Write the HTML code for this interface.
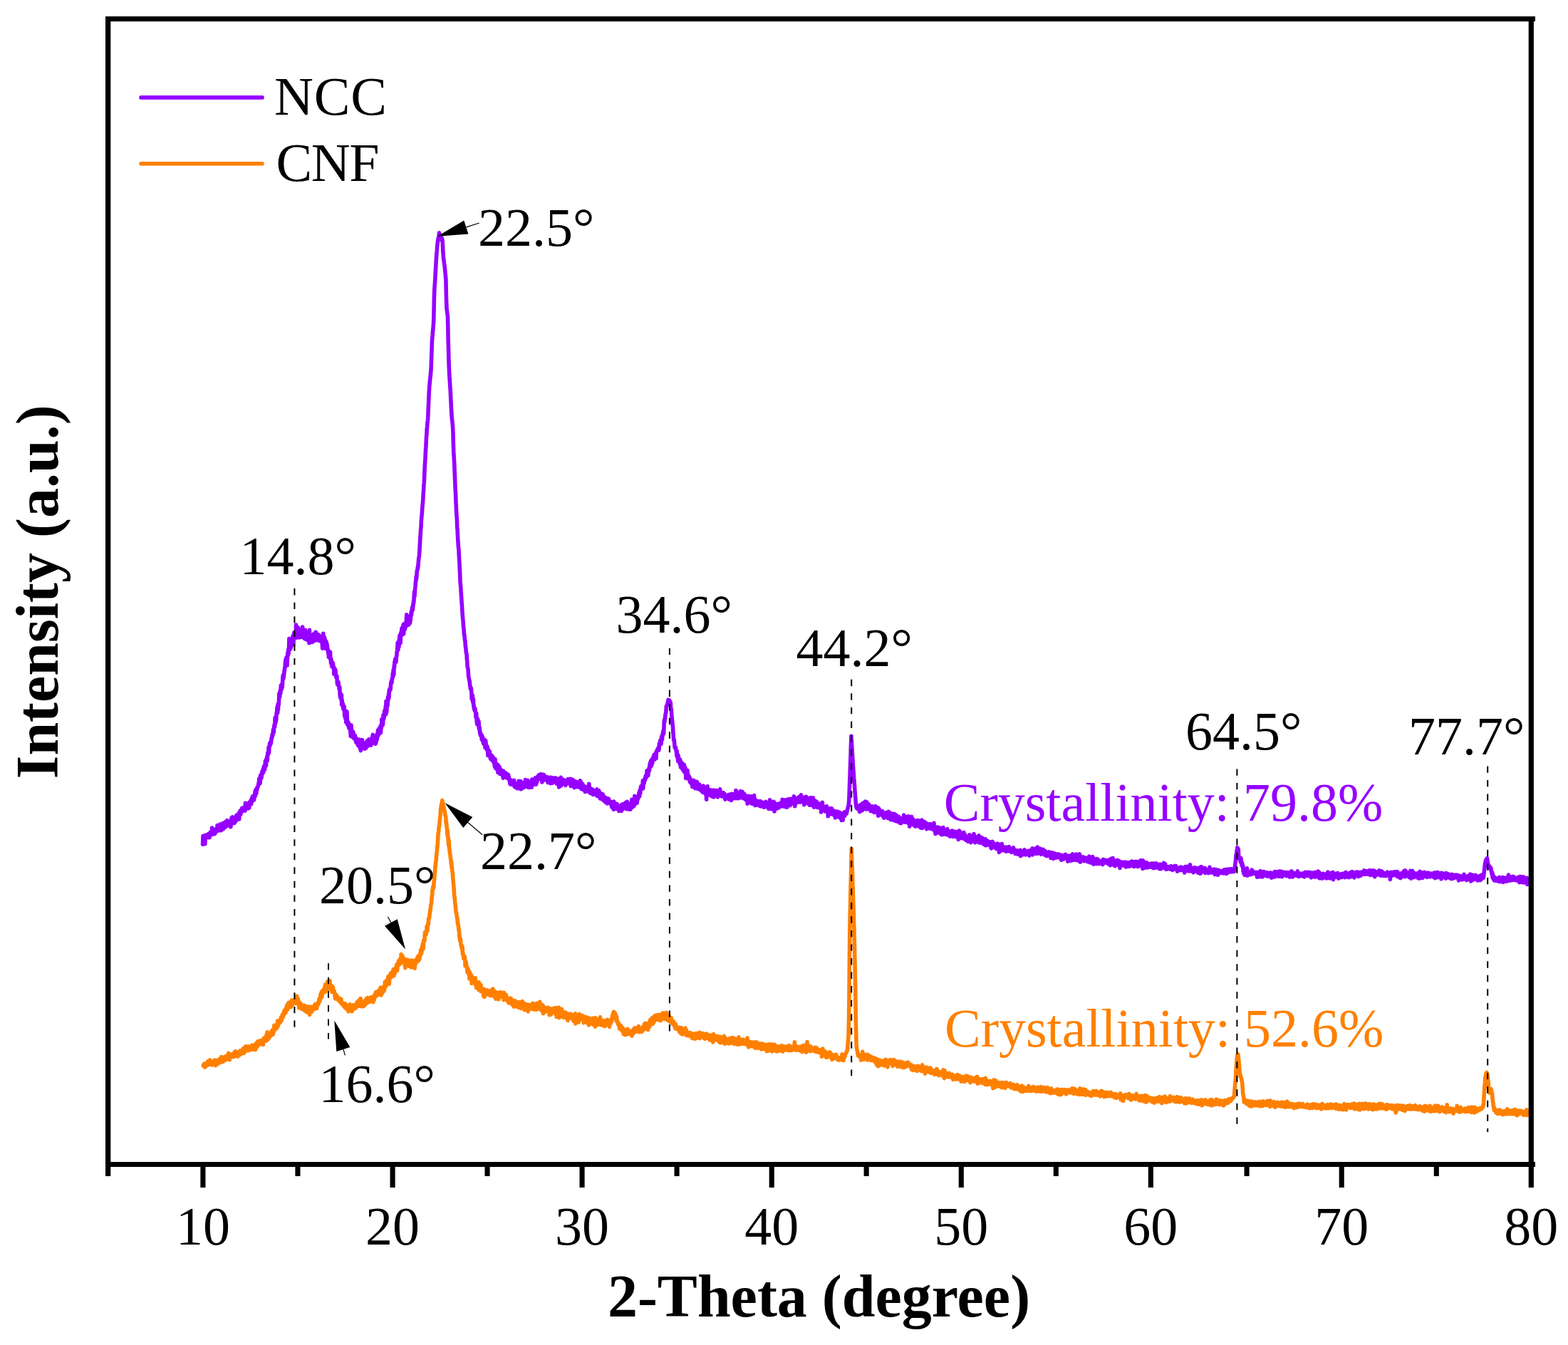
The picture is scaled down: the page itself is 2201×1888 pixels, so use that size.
<!DOCTYPE html>
<html lang="en"><head><meta charset="utf-8"><title>XRD patterns of NCC and CNF</title>
<style>html,body{margin:0;padding:0;background:#fff;overflow:hidden}svg{display:block}text{font-family:"Liberation Serif","DejaVu Serif",serif;fill:#000}.r{font-size:76.0px}.b{font-size:84.0px;font-weight:bold}</style></head><body>
<svg width="2201" height="1888" viewBox="0 0 2201 1888">
<rect width="2201" height="1888" fill="#fff"/>
<polyline fill="none" stroke="#FF8000" stroke-width="5.6" stroke-linejoin="round" stroke-linecap="round" points="285.2,1495.8 285.6,1496.4 285.9,1495.0 286.3,1493.6 286.6,1494.4 287.0,1493.2 287.4,1495.4 287.7,1498.1 288.1,1494.0 288.4,1493.6 288.8,1496.0 289.2,1495.6 289.5,1494.9 289.9,1492.5 290.2,1494.4 290.6,1495.9 291.0,1491.3 291.3,1493.2 291.7,1489.9 292.0,1491.2 292.4,1489.9 292.8,1493.3 293.1,1491.0 293.5,1494.3 293.8,1493.9 294.2,1493.1 294.6,1487.8 294.9,1492.1 295.3,1493.1 295.6,1493.4 296.0,1489.6 296.4,1491.8 296.7,1490.6 297.1,1490.9 297.4,1495.0 297.8,1490.7 298.2,1492.3 298.5,1494.3 298.9,1490.9 299.2,1491.9 299.6,1492.3 300.0,1492.0 300.3,1489.1 300.7,1491.9 301.0,1494.6 301.4,1488.1 301.8,1493.3 302.1,1491.6 302.5,1489.8 302.8,1495.6 303.2,1492.7 303.6,1488.2 303.9,1491.0 304.3,1492.0 304.6,1490.2 305.0,1492.0 305.4,1490.3 305.7,1491.8 306.1,1493.4 306.4,1488.6 306.8,1490.5 307.2,1488.9 307.5,1490.0 307.9,1486.9 308.2,1488.1 308.6,1488.8 309.0,1491.0 309.3,1491.4 309.7,1485.7 310.0,1486.7 310.4,1489.7 310.8,1483.6 311.1,1486.9 311.5,1487.5 311.8,1490.4 312.2,1488.9 312.6,1486.5 312.9,1486.2 313.3,1486.3 313.6,1490.1 314.0,1485.5 314.4,1485.6 314.7,1486.9 315.1,1485.7 315.4,1485.3 315.8,1483.1 316.2,1485.4 316.5,1484.2 316.9,1487.7 317.2,1486.3 317.6,1484.6 318.0,1486.0 318.3,1483.5 318.7,1486.5 319.0,1483.9 319.4,1485.1 319.8,1480.6 320.1,1484.2 320.5,1479.4 320.8,1478.4 321.2,1482.3 321.6,1480.8 321.9,1483.2 322.3,1487.8 322.6,1480.7 323.0,1481.1 323.4,1482.9 323.7,1483.5 324.1,1481.8 324.4,1481.7 324.8,1483.7 325.2,1483.2 325.5,1479.5 325.9,1481.6 326.2,1481.8 326.6,1479.2 327.0,1482.1 327.3,1479.5 327.7,1483.6 328.0,1481.7 328.4,1481.4 328.8,1479.7 329.1,1480.7 329.5,1476.3 329.8,1478.2 330.2,1481.5 330.6,1475.7 330.9,1482.5 331.3,1476.4 331.6,1482.1 332.0,1478.3 332.4,1481.9 332.7,1480.4 333.1,1476.5 333.4,1482.8 333.8,1483.1 334.2,1479.6 334.5,1478.9 334.9,1478.9 335.2,1476.8 335.6,1481.3 336.0,1477.3 336.3,1478.2 336.7,1476.3 337.0,1476.4 337.4,1474.7 337.8,1480.3 338.1,1476.8 338.5,1479.2 338.8,1476.7 339.2,1474.9 339.6,1475.5 339.9,1474.7 340.3,1475.8 340.6,1474.7 341.0,1474.6 341.4,1471.9 341.7,1473.0 342.1,1478.5 342.4,1472.8 342.8,1471.7 343.2,1474.7 343.5,1477.0 343.9,1470.1 344.2,1472.7 344.6,1471.5 345.0,1468.7 345.3,1474.3 345.7,1472.3 346.0,1472.3 346.4,1470.3 346.8,1473.0 347.1,1470.6 347.5,1471.5 347.8,1469.1 348.2,1468.8 348.6,1474.7 348.9,1470.3 349.3,1472.1 349.6,1471.2 350.0,1470.2 350.4,1470.0 350.7,1472.6 351.1,1470.3 351.4,1470.6 351.8,1470.9 352.2,1473.6 352.5,1472.3 352.9,1471.5 353.2,1469.2 353.6,1467.2 354.0,1472.6 354.3,1472.6 354.7,1469.9 355.0,1471.5 355.4,1471.9 355.8,1472.0 356.1,1472.1 356.5,1468.8 356.8,1473.4 357.2,1466.8 357.6,1471.7 357.9,1470.7 358.3,1471.3 358.6,1473.5 359.0,1472.3 359.4,1465.9 359.7,1464.3 360.1,1470.0 360.4,1465.4 360.8,1467.6 361.2,1469.3 361.5,1463.2 361.9,1461.9 362.2,1467.3 362.6,1466.5 363.0,1465.6 363.3,1466.0 363.7,1463.6 364.0,1461.8 364.4,1464.8 364.8,1462.6 365.1,1460.8 365.5,1465.7 365.8,1464.1 366.2,1465.0 366.6,1461.4 366.9,1461.9 367.3,1460.9 367.6,1460.9 368.0,1463.3 368.4,1460.6 368.7,1463.1 369.1,1462.7 369.4,1466.5 369.8,1458.0 370.2,1463.1 370.5,1460.5 370.9,1460.4 371.2,1456.6 371.6,1458.7 372.0,1461.3 372.3,1459.0 372.7,1459.1 373.0,1457.9 373.4,1461.1 373.8,1458.0 374.1,1452.4 374.5,1455.7 374.8,1452.3 375.2,1448.9 375.6,1455.2 375.9,1459.5 376.3,1456.0 376.6,1452.8 377.0,1453.0 377.4,1457.8 377.7,1455.1 378.1,1454.5 378.4,1453.8 378.8,1453.6 379.2,1455.0 379.5,1454.0 379.9,1452.7 380.2,1449.2 380.6,1452.5 381.0,1449.1 381.3,1453.1 381.7,1446.8 382.0,1449.1 382.4,1449.0 382.8,1445.3 383.1,1452.4 383.5,1451.3 383.8,1446.1 384.2,1448.7 384.6,1447.3 384.9,1439.4 385.3,1445.9 385.6,1444.4 386.0,1444.2 386.4,1440.6 386.7,1442.0 387.1,1441.6 387.4,1444.4 387.8,1441.6 388.2,1440.1 388.5,1443.4 388.9,1437.5 389.2,1437.3 389.6,1433.0 390.0,1441.0 390.3,1438.8 390.7,1438.1 391.0,1436.8 391.4,1434.7 391.8,1434.4 392.1,1432.7 392.5,1432.3 392.8,1432.4 393.2,1435.6 393.6,1432.6 393.9,1430.5 394.3,1428.6 394.6,1427.9 395.0,1433.2 395.4,1429.8 395.7,1428.2 396.1,1426.5 396.4,1424.0 396.8,1426.2 397.2,1428.1 397.5,1424.3 397.9,1424.2 398.2,1423.7 398.6,1423.8 399.0,1418.5 399.3,1421.2 399.7,1418.7 400.0,1422.5 400.4,1417.2 400.8,1420.0 401.1,1421.6 401.5,1415.9 401.8,1414.3 402.2,1415.5 402.6,1414.2 402.9,1410.7 403.3,1413.7 403.6,1417.4 404.0,1411.1 404.4,1410.9 404.7,1408.4 405.1,1411.8 405.4,1407.3 405.8,1407.4 406.2,1413.6 406.5,1407.4 406.9,1412.5 407.2,1413.4 407.6,1409.7 408.0,1410.3 408.3,1413.8 408.7,1407.7 409.0,1406.4 409.4,1404.0 409.8,1407.5 410.1,1411.2 410.5,1409.5 410.8,1404.1 411.2,1404.1 411.6,1404.8 411.9,1406.7 412.3,1405.1 412.6,1405.9 413.0,1405.9 413.4,1404.0 413.7,1404.5 414.1,1404.9 414.4,1403.9 414.8,1405.2 415.2,1408.7 415.5,1404.9 415.9,1403.2 416.1,1398.3 416.2,1404.2 416.6,1398.4 417.0,1400.4 417.3,1407.2 417.7,1407.3 418.0,1405.6 418.4,1401.9 418.8,1406.1 419.1,1405.8 419.5,1410.0 419.8,1414.9 420.2,1409.9 420.6,1407.8 420.9,1407.3 421.3,1410.9 421.6,1411.2 422.0,1409.1 422.4,1412.8 422.7,1409.6 423.1,1415.9 423.4,1416.0 423.8,1416.4 424.2,1412.4 424.5,1415.3 424.9,1413.8 425.2,1413.4 425.6,1413.8 426.0,1411.5 426.3,1411.3 426.7,1417.6 427.0,1415.2 427.4,1416.5 427.8,1418.9 428.1,1411.8 428.5,1414.6 428.8,1417.4 429.2,1418.2 429.6,1416.4 429.9,1420.4 430.3,1418.5 430.6,1414.9 431.0,1415.6 431.4,1420.1 431.7,1419.2 432.1,1412.9 432.4,1421.5 432.8,1419.4 433.2,1421.4 433.5,1416.8 433.9,1417.0 434.2,1414.7 434.6,1424.4 435.0,1417.2 435.3,1421.8 435.7,1415.8 436.0,1417.9 436.4,1413.0 436.8,1416.4 437.1,1420.0 437.5,1414.0 437.8,1420.2 438.2,1418.2 438.6,1414.5 438.9,1415.8 439.3,1415.6 439.6,1416.3 440.0,1414.7 440.4,1413.6 440.7,1414.6 441.1,1412.3 441.4,1411.3 441.8,1414.2 442.2,1416.3 442.5,1409.5 442.9,1413.3 443.2,1411.2 443.6,1410.0 444.0,1414.5 444.3,1410.5 444.7,1415.5 445.0,1409.1 445.4,1411.8 445.8,1409.7 446.1,1407.5 446.5,1410.2 446.8,1407.4 447.2,1408.6 447.6,1405.9 447.9,1402.3 448.3,1404.1 448.6,1403.6 449.0,1405.3 449.4,1399.3 449.7,1400.8 450.1,1395.3 450.4,1401.0 450.8,1395.4 451.2,1392.7 451.5,1396.8 451.9,1399.3 452.2,1391.3 452.6,1391.8 453.0,1392.1 453.3,1390.3 453.7,1393.8 454.0,1389.7 454.4,1389.3 454.8,1392.2 455.1,1387.7 455.5,1390.4 455.8,1385.7 456.2,1384.5 456.6,1382.2 456.9,1392.1 457.3,1385.4 457.6,1386.5 458.0,1385.1 458.4,1385.1 458.7,1384.3 459.1,1389.0 459.4,1380.1 459.8,1378.1 460.2,1379.1 460.5,1377.7 460.9,1384.1 461.2,1384.8 461.6,1380.2 462.0,1379.4 462.3,1382.8 462.7,1388.3 463.0,1376.8 463.4,1386.8 463.8,1382.7 464.1,1389.1 464.5,1383.6 464.8,1386.3 465.2,1383.3 465.6,1385.3 465.9,1392.4 466.3,1391.5 466.6,1388.7 467.0,1388.0 467.4,1385.7 467.7,1390.6 468.1,1392.2 468.4,1392.7 468.8,1393.3 469.2,1391.0 469.5,1394.6 469.9,1395.3 470.2,1399.6 470.6,1401.8 471.0,1396.9 471.3,1395.8 471.7,1398.4 472.0,1397.5 472.4,1397.7 472.8,1400.2 473.1,1397.9 473.5,1402.9 473.8,1401.4 474.2,1402.8 474.6,1402.1 474.9,1401.0 475.3,1400.8 475.6,1403.2 476.0,1402.8 476.4,1405.4 476.7,1405.2 477.1,1401.9 477.4,1406.2 477.8,1402.8 478.2,1405.3 478.5,1406.6 478.9,1402.2 479.2,1408.5 479.6,1409.1 480.0,1408.7 480.3,1408.4 480.7,1409.0 481.0,1407.8 481.4,1410.0 481.8,1409.5 482.1,1411.6 482.5,1408.4 482.8,1412.5 483.2,1412.5 483.6,1412.1 483.9,1411.5 484.3,1414.5 484.6,1408.8 485.0,1414.8 485.4,1414.5 485.7,1414.9 486.1,1415.4 486.4,1413.0 486.8,1414.3 487.2,1417.0 487.5,1416.7 487.9,1416.4 488.2,1412.1 488.6,1417.8 489.0,1419.8 489.3,1419.7 489.7,1417.8 490.0,1412.8 490.4,1419.3 490.8,1416.2 491.1,1409.7 491.5,1417.3 491.8,1412.1 492.2,1412.4 492.6,1414.0 492.9,1418.9 493.3,1414.4 493.6,1415.9 494.0,1419.7 494.4,1419.1 494.7,1414.4 495.1,1413.8 495.4,1410.9 495.8,1412.2 496.2,1415.1 496.5,1414.8 496.9,1413.9 497.2,1416.0 497.6,1411.1 498.0,1412.9 498.3,1414.8 498.7,1414.2 499.0,1415.4 499.4,1413.4 499.8,1411.3 500.1,1412.9 500.5,1409.1 500.8,1407.2 501.2,1413.0 501.6,1411.1 501.9,1411.9 502.3,1406.3 502.6,1409.7 503.0,1408.9 503.4,1408.0 503.7,1404.1 504.1,1409.1 504.4,1412.2 504.8,1410.7 505.2,1407.8 505.5,1409.2 505.9,1411.2 506.2,1401.5 506.6,1408.4 507.0,1410.1 507.3,1410.3 507.7,1412.9 508.0,1411.2 508.4,1408.9 508.8,1408.7 509.1,1409.9 509.5,1406.1 509.8,1407.3 510.2,1409.8 510.6,1412.5 510.9,1406.6 511.3,1406.7 511.6,1407.3 512.0,1410.2 512.4,1406.3 512.7,1410.3 513.1,1403.5 513.4,1405.5 513.8,1405.3 514.2,1407.8 514.5,1408.4 514.9,1401.3 515.2,1402.7 515.6,1406.0 516.0,1403.1 516.3,1400.5 516.7,1407.3 517.0,1405.6 517.4,1405.5 517.8,1402.6 518.1,1406.5 518.5,1402.9 518.8,1406.4 519.2,1400.7 519.6,1400.6 519.9,1403.4 520.3,1400.7 520.6,1404.3 521.0,1403.0 521.4,1399.5 521.7,1402.1 522.1,1400.7 522.4,1404.0 522.8,1399.6 523.2,1399.9 523.5,1404.2 523.9,1406.7 524.2,1405.7 524.6,1400.0 525.0,1400.1 525.3,1403.4 525.7,1398.5 526.0,1395.8 526.4,1398.5 526.8,1399.0 527.1,1395.2 527.5,1392.6 527.8,1392.8 528.2,1398.3 528.6,1394.0 528.9,1395.3 529.3,1396.0 529.6,1396.8 530.0,1393.8 530.4,1395.8 530.7,1391.5 531.1,1392.7 531.4,1390.5 531.8,1396.2 532.2,1392.6 532.5,1390.2 532.9,1390.9 533.2,1390.9 533.6,1393.2 534.0,1386.4 534.3,1387.6 534.7,1389.1 535.0,1396.9 535.4,1392.1 535.8,1388.7 536.1,1390.7 536.5,1394.1 536.8,1387.3 537.2,1386.6 537.6,1390.7 537.9,1388.3 538.3,1388.4 538.6,1384.7 539.0,1391.3 539.4,1390.3 539.7,1386.7 540.1,1386.7 540.4,1378.5 540.8,1385.5 541.2,1382.6 541.5,1383.9 541.9,1384.0 542.2,1380.5 542.6,1376.1 543.0,1381.5 543.3,1377.7 543.7,1378.4 544.0,1377.0 544.4,1377.2 544.8,1371.0 545.1,1380.6 545.5,1377.3 545.8,1379.2 546.2,1381.2 546.6,1375.0 546.9,1369.1 547.3,1371.2 547.6,1369.7 548.0,1371.2 548.4,1372.4 548.7,1365.7 549.1,1371.9 549.4,1365.9 549.8,1370.5 550.2,1368.7 550.5,1367.4 550.9,1367.5 551.2,1365.5 551.6,1364.6 552.0,1360.8 552.3,1365.0 552.7,1369.9 553.0,1369.7 553.4,1367.1 553.8,1364.6 554.1,1359.9 554.5,1365.6 554.8,1360.5 555.2,1359.8 555.6,1358.5 555.9,1359.0 556.3,1356.7 556.6,1357.2 557.0,1353.5 557.4,1355.0 557.7,1362.3 558.1,1354.6 558.4,1353.4 558.8,1355.0 559.2,1354.9 559.5,1348.7 559.9,1350.8 560.2,1353.6 560.6,1350.9 561.0,1349.8 561.3,1353.5 561.7,1346.0 562.0,1347.7 562.4,1345.2 562.8,1350.7 563.1,1339.5 563.5,1342.7 563.8,1342.5 563.9,1346.0 564.2,1346.6 564.6,1349.8 564.9,1341.6 565.3,1349.6 565.6,1347.2 566.0,1347.0 566.4,1351.5 566.7,1347.9 567.1,1345.3 567.4,1351.3 567.8,1348.8 568.1,1352.0 568.2,1355.1 568.5,1354.8 568.9,1358.6 569.2,1353.1 569.6,1348.9 570.0,1351.2 570.3,1350.6 570.7,1349.6 571.0,1354.5 571.4,1351.1 571.8,1347.0 572.1,1355.0 572.5,1352.4 572.8,1353.7 573.2,1352.9 573.6,1354.4 573.9,1352.5 574.3,1356.1 574.6,1353.7 575.0,1353.7 575.4,1353.8 575.7,1348.2 576.1,1352.2 576.4,1352.0 576.8,1353.5 577.2,1348.9 577.5,1358.0 577.9,1353.4 578.2,1349.5 578.6,1348.1 579.0,1352.5 579.3,1353.0 579.7,1350.9 580.0,1353.1 580.4,1350.7 580.8,1354.1 581.1,1350.0 581.5,1351.9 581.8,1354.7 582.2,1359.3 582.6,1348.3 582.9,1349.7 583.3,1348.4 583.6,1353.0 584.0,1347.0 584.4,1348.8 584.7,1349.9 585.1,1346.9 585.4,1346.7 585.8,1347.9 586.2,1342.8 586.5,1344.6 586.9,1347.5 587.2,1349.0 587.6,1347.7 588.0,1341.6 588.3,1344.3 588.7,1346.9 589.0,1344.8 589.4,1341.6 589.8,1337.9 590.1,1341.2 590.5,1336.2 590.8,1333.1 591.2,1332.8 591.6,1338.4 591.9,1333.2 592.3,1334.7 592.6,1328.2 593.0,1331.2 593.4,1324.9 593.7,1324.9 594.1,1331.8 594.4,1325.0 594.8,1319.6 595.2,1319.5 595.5,1319.3 595.9,1320.7 596.2,1313.9 596.6,1308.5 597.0,1311.6 597.3,1311.1 597.7,1310.0 598.0,1312.1 598.4,1307.7 598.8,1307.7 599.1,1300.5 599.5,1304.9 599.8,1306.9 600.2,1300.9 600.6,1297.6 600.9,1295.5 601.3,1297.6 601.6,1289.3 602.0,1289.5 602.4,1289.1 602.7,1288.0 603.1,1282.8 603.4,1282.2 603.8,1278.4 604.2,1276.9 604.5,1273.8 604.9,1269.5 605.2,1269.3 605.6,1267.7 606.0,1260.4 606.3,1258.3 606.7,1256.5 607.0,1249.5 607.4,1249.7 607.8,1244.7 608.1,1246.8 608.5,1246.8 608.8,1243.8 609.2,1236.7 609.6,1235.5 609.9,1230.2 610.3,1225.8 610.6,1223.6 611.0,1215.2 611.4,1215.2 611.7,1210.0 612.1,1208.7 612.4,1203.3 612.8,1198.4 613.2,1196.3 613.5,1193.4 613.9,1188.7 614.2,1185.9 614.6,1179.1 615.0,1171.0 615.3,1170.3 615.7,1166.6 616.0,1162.9 616.4,1160.0 616.8,1158.8 617.1,1153.6 617.5,1150.5 617.8,1147.0 618.2,1144.2 618.6,1134.9 618.9,1135.3 619.3,1130.8 619.6,1128.6 620.0,1131.1 620.4,1127.4 620.7,1123.6 621.0,1124.3 621.1,1127.2 621.4,1129.4 621.8,1127.9 622.2,1131.2 622.5,1133.5 622.9,1132.5 623.2,1136.2 623.6,1137.0 624.0,1137.1 624.3,1138.9 624.7,1142.3 625.0,1144.5 625.4,1145.1 625.8,1147.8 626.1,1154.8 626.5,1154.4 626.8,1158.7 627.2,1162.0 627.6,1163.4 627.9,1171.9 628.3,1166.4 628.6,1174.8 629.0,1175.1 629.4,1184.2 629.7,1186.7 630.1,1179.1 630.4,1185.3 630.8,1191.7 631.2,1194.8 631.5,1197.6 631.9,1199.1 632.2,1202.9 632.6,1206.1 633.0,1207.7 633.3,1212.5 633.7,1209.6 634.0,1217.3 634.4,1217.2 634.8,1223.4 635.1,1224.2 635.5,1226.3 635.8,1233.5 636.2,1236.5 636.6,1241.5 636.9,1244.4 637.3,1250.7 637.6,1255.4 638.0,1260.0 638.4,1261.9 638.7,1267.3 639.1,1269.3 639.4,1272.7 639.8,1277.3 640.2,1280.7 640.5,1280.9 640.9,1283.4 641.2,1285.9 641.6,1288.6 642.0,1288.8 642.3,1295.4 642.7,1294.6 643.0,1299.0 643.4,1298.4 643.8,1303.6 644.1,1306.1 644.5,1306.6 644.8,1315.3 645.2,1313.5 645.6,1320.1 645.9,1320.1 646.3,1317.8 646.6,1321.1 647.0,1325.9 647.4,1327.2 647.7,1329.2 648.1,1330.1 648.4,1327.5 648.8,1333.8 649.2,1329.9 649.5,1339.1 649.9,1337.8 650.2,1339.6 650.6,1342.8 651.0,1345.8 651.3,1342.1 651.7,1342.2 652.0,1345.2 652.4,1343.3 652.8,1347.3 653.1,1355.9 653.5,1349.1 653.8,1355.1 654.2,1350.2 654.6,1356.1 654.9,1355.4 655.3,1357.2 655.6,1360.2 656.0,1364.8 656.4,1361.3 656.7,1362.3 657.1,1360.1 657.4,1365.9 657.8,1364.6 658.2,1368.8 658.5,1367.4 658.9,1373.8 659.2,1364.0 659.6,1369.7 660.0,1373.5 660.3,1370.3 660.7,1369.5 661.0,1371.4 661.4,1368.6 661.8,1373.3 662.1,1380.5 662.5,1377.1 662.8,1371.0 663.2,1372.1 663.6,1373.9 663.9,1378.3 664.3,1373.5 664.6,1374.3 665.0,1379.2 665.4,1379.6 665.7,1376.5 666.1,1374.8 666.4,1374.0 666.8,1376.9 667.2,1372.9 667.5,1382.0 667.9,1378.5 668.2,1382.1 668.6,1386.5 669.0,1385.0 669.3,1378.8 669.7,1385.0 670.0,1386.3 670.4,1381.3 670.8,1381.2 671.1,1384.1 671.5,1380.3 671.8,1389.5 672.2,1378.9 672.6,1382.9 672.9,1385.6 673.3,1386.1 673.6,1387.6 674.0,1388.2 674.4,1387.2 674.7,1391.4 675.1,1382.5 675.4,1388.9 675.8,1387.2 676.2,1390.0 676.5,1390.6 676.9,1387.7 677.2,1388.9 677.6,1393.2 678.0,1392.4 678.3,1389.8 678.7,1397.8 679.0,1398.7 679.4,1388.2 679.8,1393.2 680.1,1399.4 680.5,1394.7 680.8,1393.2 681.2,1392.0 681.6,1391.2 681.9,1392.1 682.3,1391.2 682.6,1394.9 683.0,1391.8 683.4,1391.7 683.7,1389.7 684.1,1393.0 684.4,1390.7 684.8,1392.7 685.2,1396.2 685.5,1394.4 685.9,1394.8 686.2,1394.4 686.6,1393.7 687.0,1393.2 687.3,1392.8 687.7,1395.8 688.0,1390.7 688.4,1397.6 688.8,1394.0 689.1,1391.9 689.5,1392.7 689.8,1392.2 690.2,1394.6 690.6,1392.2 690.9,1397.5 691.3,1392.2 691.6,1388.1 692.0,1392.5 692.4,1389.0 692.7,1394.6 693.1,1397.7 693.4,1396.6 693.8,1391.2 694.2,1392.8 694.5,1400.0 694.9,1396.0 695.2,1395.2 695.6,1398.2 696.0,1402.1 696.3,1399.0 696.7,1395.8 697.0,1396.5 697.4,1397.3 697.8,1394.0 698.1,1392.9 698.5,1396.1 698.8,1393.4 699.2,1396.0 699.6,1396.5 699.9,1402.8 700.3,1394.1 700.6,1396.2 701.0,1396.2 701.4,1398.0 701.7,1399.8 702.1,1395.6 702.4,1394.8 702.8,1392.7 703.2,1394.7 703.5,1398.9 703.9,1397.7 704.2,1394.8 704.6,1396.7 705.0,1397.9 705.3,1399.4 705.7,1396.4 706.0,1397.6 706.4,1393.5 706.8,1395.7 707.1,1403.6 707.5,1393.4 707.8,1398.7 708.2,1400.5 708.6,1399.2 708.9,1398.3 709.3,1400.6 709.6,1401.0 710.0,1401.1 710.4,1396.4 710.7,1401.4 711.1,1399.7 711.4,1400.8 711.8,1403.1 712.2,1404.5 712.5,1405.4 712.9,1401.9 713.2,1406.0 713.6,1406.9 714.0,1407.0 714.3,1408.0 714.7,1404.0 715.0,1404.2 715.4,1407.1 715.8,1401.4 716.1,1405.9 716.5,1404.1 716.8,1404.8 717.2,1401.3 717.6,1403.9 717.9,1406.5 718.3,1409.2 718.6,1409.7 719.0,1407.0 719.4,1407.0 719.7,1405.5 720.1,1409.0 720.4,1407.5 720.8,1409.9 721.2,1413.1 721.5,1408.4 721.9,1404.5 722.2,1406.4 722.6,1404.9 723.0,1405.7 723.3,1412.6 723.7,1409.8 724.0,1405.2 724.4,1411.1 724.8,1412.9 725.1,1408.6 725.5,1407.9 725.8,1408.9 726.2,1410.7 726.6,1411.8 726.9,1413.3 727.3,1413.5 727.6,1413.6 728.0,1414.2 728.4,1412.4 728.7,1406.6 729.1,1410.5 729.4,1411.8 729.8,1410.0 730.2,1413.6 730.5,1410.3 730.9,1408.9 731.2,1415.4 731.6,1413.4 732.0,1412.3 732.3,1414.3 732.7,1414.8 733.0,1413.0 733.4,1405.6 733.8,1410.5 734.1,1411.1 734.5,1409.7 734.8,1412.8 735.2,1415.5 735.6,1411.0 735.9,1409.3 736.3,1417.7 736.6,1411.1 737.0,1409.0 737.4,1412.9 737.7,1413.4 738.1,1410.4 738.4,1414.4 738.8,1411.0 739.2,1409.8 739.5,1412.8 739.9,1414.4 740.2,1410.6 740.6,1413.2 741.0,1412.0 741.3,1419.9 741.7,1410.4 742.0,1416.0 742.4,1412.2 742.8,1412.0 743.1,1414.2 743.5,1414.7 743.8,1415.7 744.2,1413.2 744.6,1410.7 744.9,1410.9 745.3,1413.7 745.6,1413.9 746.0,1416.1 746.4,1413.4 746.7,1415.1 747.1,1416.4 747.4,1412.8 747.8,1408.4 748.2,1409.2 748.5,1408.5 748.9,1416.7 749.2,1410.2 749.6,1415.8 750.0,1414.1 750.3,1417.1 750.7,1415.2 751.0,1412.3 751.4,1412.1 751.8,1412.9 752.1,1413.1 752.5,1411.3 752.8,1412.6 753.2,1417.1 753.6,1408.2 753.9,1413.5 754.3,1410.4 754.6,1413.4 755.0,1415.1 755.4,1412.8 755.7,1415.0 756.1,1408.7 756.4,1416.0 756.8,1411.4 757.2,1414.7 757.5,1413.6 757.9,1406.2 758.2,1411.1 758.6,1413.8 759.0,1417.4 759.3,1414.1 759.7,1414.3 760.0,1410.1 760.4,1417.9 760.8,1419.2 761.1,1414.7 761.5,1414.3 761.8,1410.8 762.2,1417.7 762.6,1422.8 762.9,1417.8 763.3,1419.5 763.6,1417.8 764.0,1414.0 764.4,1420.4 764.7,1413.8 765.1,1416.8 765.4,1418.3 765.8,1420.2 766.2,1419.2 766.5,1419.4 766.9,1416.6 767.2,1415.4 767.6,1419.3 768.0,1417.3 768.3,1415.7 768.7,1415.8 769.0,1417.9 769.4,1414.3 769.8,1415.7 770.1,1415.0 770.5,1419.8 770.8,1420.4 771.2,1424.7 771.6,1415.5 771.9,1417.6 772.3,1421.9 772.6,1418.9 773.0,1418.7 773.4,1424.1 773.7,1418.7 774.1,1416.6 774.4,1416.2 774.8,1420.6 775.2,1420.5 775.5,1416.1 775.9,1417.2 776.2,1421.2 776.6,1421.3 777.0,1418.1 777.3,1421.5 777.7,1421.4 778.0,1415.3 778.4,1419.2 778.8,1421.2 779.1,1418.6 779.5,1414.6 779.8,1419.5 780.2,1422.3 780.6,1424.5 780.9,1414.7 781.3,1427.4 781.6,1417.6 782.0,1423.1 782.4,1423.9 782.7,1423.3 783.1,1421.2 783.4,1417.8 783.8,1422.6 784.2,1419.1 784.5,1414.4 784.9,1428.6 785.2,1423.0 785.6,1426.0 786.0,1418.9 786.3,1425.2 786.7,1425.6 787.0,1425.6 787.4,1421.5 787.8,1418.4 788.1,1421.3 788.5,1416.2 788.8,1417.6 789.2,1422.5 789.6,1419.9 789.9,1422.2 790.3,1422.6 790.6,1428.1 791.0,1426.6 791.4,1423.3 791.7,1426.7 792.1,1421.7 792.4,1423.0 792.8,1426.5 793.2,1421.0 793.5,1423.7 793.9,1421.2 794.2,1425.1 794.6,1429.3 795.0,1423.2 795.3,1425.9 795.7,1423.2 796.0,1422.7 796.4,1422.7 796.8,1429.9 797.1,1432.4 797.5,1427.7 797.8,1424.8 798.2,1428.6 798.6,1426.0 798.9,1429.1 799.3,1427.9 799.6,1428.0 800.0,1428.9 800.4,1426.0 800.7,1426.6 801.1,1423.3 801.4,1426.7 801.8,1424.3 802.2,1427.7 802.5,1425.7 802.9,1428.6 803.2,1429.6 803.6,1424.9 804.0,1426.6 804.3,1426.4 804.7,1430.9 805.0,1433.5 805.4,1431.4 805.8,1428.4 806.1,1433.2 806.5,1425.6 806.8,1433.5 807.2,1428.1 807.6,1422.7 807.9,1436.9 808.3,1434.1 808.6,1427.3 809.0,1430.3 809.4,1429.2 809.7,1429.9 810.1,1425.7 810.4,1427.6 810.8,1430.5 811.2,1429.7 811.5,1432.2 811.9,1429.2 812.2,1434.9 812.6,1426.9 813.0,1429.3 813.3,1423.5 813.7,1425.1 814.0,1431.7 814.4,1425.7 814.8,1429.4 815.1,1427.8 815.5,1425.1 815.8,1426.8 816.2,1426.3 816.6,1426.2 816.9,1429.6 817.3,1429.5 817.6,1426.5 818.0,1425.9 818.4,1429.1 818.7,1428.3 819.1,1431.4 819.4,1435.8 819.8,1431.3 820.2,1429.2 820.5,1429.1 820.9,1427.5 821.2,1427.5 821.6,1427.5 822.0,1429.2 822.3,1429.3 822.7,1432.5 823.0,1429.8 823.4,1430.5 823.8,1428.0 824.1,1435.6 824.5,1432.8 824.8,1436.3 825.2,1433.9 825.6,1435.7 825.9,1431.3 826.3,1433.8 826.6,1439.0 827.0,1429.0 827.4,1435.2 827.7,1436.6 828.1,1433.4 828.4,1434.3 828.8,1435.7 829.2,1430.7 829.5,1433.6 829.9,1430.3 830.2,1430.9 830.6,1431.1 831.0,1432.4 831.3,1433.2 831.7,1434.0 832.0,1429.2 832.4,1438.2 832.8,1436.1 833.1,1435.0 833.5,1432.2 833.8,1433.0 834.2,1434.7 834.6,1434.4 834.9,1429.0 835.3,1435.4 835.6,1441.1 836.0,1428.7 836.4,1436.2 836.7,1434.6 837.1,1433.4 837.4,1437.4 837.8,1430.7 838.2,1434.3 838.5,1437.8 838.9,1433.5 839.2,1433.0 839.6,1434.5 840.0,1433.0 840.3,1438.3 840.7,1431.9 841.0,1436.7 841.4,1431.2 841.8,1436.3 842.1,1434.3 842.5,1427.8 842.8,1434.7 843.2,1431.9 843.6,1433.6 843.9,1438.9 844.3,1432.0 844.6,1432.2 845.0,1438.8 845.4,1435.4 845.7,1439.2 846.1,1436.0 846.4,1432.9 846.8,1435.1 847.2,1438.5 847.5,1437.8 847.9,1435.3 848.2,1435.5 848.6,1435.1 849.0,1433.9 849.3,1440.5 849.7,1435.5 850.0,1432.6 850.4,1434.3 850.8,1437.5 851.1,1437.3 851.5,1435.3 851.8,1433.9 852.2,1435.8 852.6,1431.4 852.9,1432.4 853.3,1437.9 853.6,1434.6 854.0,1436.8 854.4,1439.0 854.7,1437.6 855.1,1436.0 855.4,1441.4 855.8,1437.6 856.2,1434.9 856.5,1437.5 856.9,1436.6 857.2,1433.2 857.6,1435.5 858.0,1434.8 858.3,1430.1 858.7,1433.7 859.0,1431.6 859.4,1429.4 859.8,1424.5 860.1,1426.0 860.5,1425.0 860.8,1423.8 861.2,1420.6 861.6,1425.1 861.9,1420.3 862.3,1422.9 862.6,1426.9 863.0,1421.7 863.4,1422.2 863.7,1426.3 864.1,1424.0 864.4,1426.1 864.8,1429.3 865.2,1433.3 865.5,1426.9 865.9,1432.3 866.2,1432.8 866.6,1433.2 867.0,1434.3 867.3,1434.8 867.7,1438.2 868.0,1435.6 868.4,1438.6 868.8,1439.8 869.1,1437.4 869.5,1440.0 869.8,1444.2 870.2,1441.4 870.6,1439.4 870.9,1441.3 871.3,1439.5 871.6,1443.0 872.0,1445.0 872.4,1441.2 872.7,1443.2 873.1,1447.0 873.4,1443.3 873.8,1445.5 874.2,1442.8 874.5,1443.5 874.9,1444.5 875.2,1451.5 875.6,1445.3 876.0,1445.2 876.3,1445.4 876.7,1446.6 877.0,1448.8 877.4,1447.9 877.8,1452.8 878.1,1448.4 878.5,1451.7 878.8,1449.0 879.2,1450.1 879.6,1445.2 879.9,1448.7 880.3,1449.1 880.6,1448.9 881.0,1444.2 881.4,1451.8 881.7,1448.7 882.1,1448.6 882.4,1449.1 882.8,1449.2 883.2,1450.8 883.5,1446.7 883.9,1447.6 884.2,1450.6 884.6,1450.3 885.0,1449.1 885.3,1448.6 885.7,1448.0 886.0,1450.0 886.4,1453.1 886.8,1447.6 887.1,1454.0 887.5,1452.4 887.8,1449.0 888.2,1451.8 888.6,1446.0 888.9,1445.1 889.3,1446.0 889.6,1448.0 890.0,1448.0 890.4,1447.3 890.7,1448.6 891.1,1442.8 891.4,1449.1 891.8,1444.1 892.2,1445.8 892.5,1446.2 892.9,1444.1 893.2,1443.3 893.6,1444.0 894.0,1446.3 894.3,1447.6 894.7,1447.4 895.0,1443.5 895.4,1443.9 895.8,1443.5 896.1,1446.9 896.5,1440.6 896.8,1448.7 897.2,1444.3 897.6,1443.5 897.9,1446.2 898.3,1447.9 898.6,1446.1 899.0,1447.8 899.4,1445.4 899.7,1448.1 900.1,1448.0 900.4,1444.6 900.8,1448.4 901.2,1445.1 901.5,1444.9 901.9,1442.3 902.2,1443.8 902.6,1446.4 903.0,1441.0 903.3,1445.6 903.7,1444.7 904.0,1444.3 904.4,1437.8 904.8,1442.9 905.1,1444.5 905.5,1440.8 905.8,1442.7 906.2,1436.3 906.6,1443.7 906.9,1440.1 907.3,1443.8 907.6,1436.7 908.0,1442.9 908.4,1440.3 908.7,1442.7 909.1,1438.1 909.4,1438.7 909.8,1445.5 910.2,1437.2 910.5,1437.0 910.9,1437.6 911.2,1435.2 911.6,1440.4 912.0,1441.2 912.3,1434.6 912.7,1431.5 913.0,1438.4 913.4,1437.7 913.8,1436.5 914.1,1436.9 914.5,1431.2 914.8,1432.6 915.2,1429.1 915.6,1428.7 915.9,1434.5 916.3,1429.9 916.6,1437.1 917.0,1431.1 917.4,1428.9 917.7,1432.2 918.1,1434.5 918.4,1430.7 918.8,1426.0 919.2,1429.7 919.5,1431.9 919.9,1426.7 920.2,1425.7 920.6,1430.2 921.0,1428.1 921.3,1425.0 921.7,1427.0 922.0,1426.1 922.4,1429.0 922.8,1428.6 923.1,1431.4 923.5,1430.4 923.8,1424.6 924.2,1429.9 924.6,1431.2 924.9,1430.2 925.3,1431.8 925.6,1427.9 926.0,1427.0 926.4,1431.9 926.7,1426.9 927.1,1424.2 927.4,1432.6 927.8,1428.2 928.2,1429.2 928.5,1426.0 928.9,1425.9 929.2,1426.0 929.6,1427.7 930.0,1429.3 930.3,1422.1 930.7,1429.7 931.0,1424.3 931.4,1424.3 931.8,1428.5 932.1,1426.2 932.5,1422.1 932.8,1430.6 933.2,1423.2 933.6,1425.8 933.9,1425.3 934.3,1428.2 934.6,1423.0 935.0,1426.5 935.4,1421.6 935.6,1426.2 935.7,1421.5 936.1,1423.2 936.4,1429.7 936.8,1426.1 937.2,1426.2 937.5,1432.4 937.9,1428.1 938.2,1425.6 938.6,1430.3 939.0,1425.9 939.3,1432.5 939.7,1433.3 940.0,1429.3 940.4,1429.8 940.8,1432.4 941.1,1432.6 941.5,1430.7 941.8,1435.1 942.2,1428.8 942.6,1433.3 942.9,1433.7 943.3,1434.4 943.6,1436.3 944.0,1432.7 944.4,1437.7 944.7,1436.1 945.1,1435.3 945.4,1433.8 945.8,1434.7 946.2,1438.9 946.5,1436.0 946.9,1438.9 947.2,1441.8 947.6,1442.1 948.0,1443.8 948.3,1439.5 948.7,1437.7 949.0,1443.3 949.4,1441.7 949.8,1444.0 950.1,1441.5 950.5,1444.7 950.8,1444.1 951.2,1444.0 951.6,1443.7 951.9,1443.7 952.3,1443.5 952.6,1443.8 953.0,1445.9 953.4,1442.4 953.7,1448.3 954.1,1443.9 954.4,1446.9 954.8,1444.5 955.2,1444.3 955.5,1450.3 955.9,1444.7 956.2,1442.5 956.6,1444.2 957.0,1445.4 957.3,1451.7 957.7,1447.1 958.0,1449.0 958.4,1444.4 958.8,1448.0 959.1,1448.9 959.5,1451.9 959.8,1445.9 960.2,1449.3 960.6,1448.7 960.9,1445.7 961.3,1448.3 961.6,1447.9 962.0,1443.0 962.4,1450.4 962.7,1450.4 963.1,1448.2 963.4,1446.1 963.8,1453.3 964.2,1450.5 964.5,1452.5 964.9,1453.7 965.2,1449.1 965.6,1452.5 966.0,1450.1 966.3,1450.8 966.7,1450.9 967.0,1451.2 967.4,1454.0 967.8,1451.7 968.1,1451.1 968.5,1450.9 968.8,1452.4 969.2,1449.5 969.6,1450.5 969.9,1451.7 970.3,1450.5 970.6,1451.7 971.0,1450.6 971.4,1457.1 971.7,1455.5 972.1,1453.4 972.4,1452.2 972.8,1457.8 973.2,1453.3 973.5,1452.4 973.9,1453.4 974.2,1453.5 974.6,1456.3 975.0,1452.9 975.3,1458.1 975.7,1450.9 976.0,1454.8 976.4,1450.8 976.8,1457.7 977.1,1452.6 977.5,1453.3 977.8,1455.8 978.2,1456.7 978.6,1451.0 978.9,1452.9 979.3,1450.3 979.6,1454.1 980.0,1453.6 980.4,1453.0 980.7,1452.2 981.1,1452.9 981.4,1452.1 981.8,1455.2 982.2,1457.7 982.5,1449.3 982.9,1453.7 983.2,1453.0 983.6,1455.3 984.0,1451.8 984.3,1453.8 984.7,1451.6 985.0,1455.9 985.4,1454.5 985.8,1453.8 986.1,1455.2 986.5,1453.7 986.8,1450.5 987.2,1455.8 987.6,1455.1 987.9,1454.0 988.3,1456.8 988.6,1457.4 989.0,1451.8 989.4,1452.6 989.7,1458.3 990.1,1458.0 990.4,1452.8 990.8,1451.8 991.2,1453.2 991.5,1453.6 991.9,1451.0 992.2,1455.0 992.6,1451.8 993.0,1452.0 993.3,1457.3 993.7,1453.5 994.0,1455.0 994.4,1456.8 994.8,1457.3 995.1,1454.5 995.5,1455.5 995.8,1453.5 996.2,1459.8 996.6,1457.2 996.9,1453.0 997.3,1455.7 997.6,1457.5 998.0,1457.0 998.4,1460.3 998.7,1459.3 999.1,1454.7 999.4,1455.8 999.8,1453.0 1000.2,1456.8 1000.5,1456.6 1000.9,1462.9 1001.2,1456.7 1001.6,1451.5 1002.0,1455.0 1002.3,1457.1 1002.7,1453.9 1003.0,1454.9 1003.4,1456.3 1003.8,1458.1 1004.1,1457.0 1004.5,1455.4 1004.8,1459.5 1005.2,1456.4 1005.6,1456.7 1005.9,1454.6 1006.3,1456.2 1006.6,1459.8 1007.0,1454.4 1007.4,1458.3 1007.7,1460.3 1008.1,1457.8 1008.4,1459.4 1008.8,1456.2 1009.2,1462.2 1009.5,1461.8 1009.9,1459.9 1010.2,1455.2 1010.6,1457.0 1011.0,1462.0 1011.3,1463.8 1011.7,1460.4 1012.0,1462.7 1012.4,1458.2 1012.8,1459.3 1013.1,1459.8 1013.5,1460.8 1013.8,1456.1 1014.2,1462.1 1014.6,1463.0 1014.9,1457.1 1015.3,1456.6 1015.6,1460.8 1016.0,1458.4 1016.4,1454.3 1016.7,1461.9 1017.1,1460.4 1017.4,1458.9 1017.8,1465.2 1018.2,1460.4 1018.5,1458.3 1018.9,1460.4 1019.2,1457.7 1019.6,1458.4 1020.0,1461.1 1020.3,1458.9 1020.7,1459.2 1021.0,1464.3 1021.4,1462.4 1021.8,1462.3 1022.1,1461.6 1022.5,1461.5 1022.8,1463.9 1023.2,1460.4 1023.6,1464.9 1023.9,1458.2 1024.3,1459.9 1024.6,1457.2 1025.0,1459.7 1025.4,1461.8 1025.7,1464.1 1026.1,1459.0 1026.4,1460.6 1026.8,1459.8 1027.2,1458.9 1027.5,1457.8 1027.9,1460.9 1028.2,1456.6 1028.6,1461.0 1029.0,1460.8 1029.3,1459.2 1029.7,1458.4 1030.0,1457.5 1030.4,1465.4 1030.8,1457.7 1031.1,1464.6 1031.5,1462.4 1031.8,1460.1 1032.2,1458.2 1032.6,1463.5 1032.9,1465.2 1033.3,1458.8 1033.6,1460.3 1034.0,1463.6 1034.4,1461.9 1034.7,1465.9 1035.1,1459.8 1035.4,1462.5 1035.8,1458.2 1036.2,1466.2 1036.5,1459.5 1036.9,1455.9 1037.2,1461.0 1037.6,1461.0 1038.0,1465.9 1038.3,1460.6 1038.7,1461.5 1039.0,1463.0 1039.4,1465.4 1039.8,1461.6 1040.1,1464.3 1040.5,1463.1 1040.8,1461.2 1041.2,1462.2 1041.6,1462.2 1041.9,1460.0 1042.3,1465.2 1042.6,1459.0 1043.0,1465.2 1043.4,1464.8 1043.7,1462.3 1044.1,1460.8 1044.4,1462.2 1044.8,1463.9 1045.2,1464.6 1045.5,1463.6 1045.9,1465.4 1046.2,1461.8 1046.6,1463.7 1047.0,1459.5 1047.3,1465.1 1047.7,1463.8 1048.0,1462.5 1048.4,1466.3 1048.8,1465.3 1049.1,1457.0 1049.5,1463.9 1049.8,1460.4 1050.2,1466.5 1050.6,1470.0 1050.9,1462.9 1051.3,1464.5 1051.6,1463.8 1052.0,1465.3 1052.4,1466.2 1052.7,1467.8 1053.1,1462.5 1053.4,1468.7 1053.8,1462.9 1054.2,1465.9 1054.5,1468.1 1054.9,1467.1 1055.2,1463.3 1055.6,1464.0 1056.0,1464.7 1056.3,1465.8 1056.7,1468.7 1057.0,1463.1 1057.4,1467.4 1057.8,1467.8 1058.1,1467.8 1058.5,1467.7 1058.8,1470.3 1059.2,1468.0 1059.6,1469.0 1059.9,1468.4 1060.3,1471.4 1060.6,1462.8 1061.0,1470.3 1061.4,1466.8 1061.7,1466.8 1062.1,1465.2 1062.4,1463.1 1062.8,1466.7 1063.2,1466.1 1063.5,1468.9 1063.9,1464.3 1064.2,1471.2 1064.6,1468.6 1065.0,1467.4 1065.3,1466.4 1065.7,1466.2 1066.0,1465.5 1066.4,1466.9 1066.8,1468.3 1067.1,1467.9 1067.5,1465.1 1067.8,1467.8 1068.2,1466.4 1068.6,1469.0 1068.9,1473.0 1069.3,1470.2 1069.6,1468.0 1070.0,1465.0 1070.4,1465.6 1070.7,1465.0 1071.1,1470.7 1071.4,1467.2 1071.8,1469.2 1072.2,1467.7 1072.5,1469.4 1072.9,1472.6 1073.2,1467.7 1073.6,1468.6 1074.0,1467.5 1074.3,1471.5 1074.7,1467.1 1075.0,1466.9 1075.4,1466.4 1075.8,1466.4 1076.1,1470.8 1076.5,1475.8 1076.8,1467.5 1077.2,1472.1 1077.6,1470.5 1077.9,1467.4 1078.3,1469.4 1078.6,1469.5 1079.0,1468.5 1079.4,1474.7 1079.7,1465.8 1080.1,1471.2 1080.4,1471.1 1080.8,1469.0 1081.2,1470.8 1081.5,1472.6 1081.9,1470.9 1082.2,1471.6 1082.6,1472.2 1083.0,1465.9 1083.3,1474.1 1083.7,1476.0 1084.0,1473.0 1084.4,1473.1 1084.8,1467.4 1085.1,1470.5 1085.5,1468.9 1085.8,1469.4 1086.2,1473.1 1086.6,1468.9 1086.9,1470.5 1087.3,1466.4 1087.6,1470.5 1088.0,1471.1 1088.4,1469.3 1088.7,1469.3 1089.1,1475.4 1089.4,1468.2 1089.8,1468.5 1090.2,1469.1 1090.5,1473.9 1090.9,1476.0 1091.2,1471.9 1091.6,1469.4 1092.0,1470.1 1092.3,1473.6 1092.7,1469.0 1093.0,1474.6 1093.4,1474.5 1093.8,1471.4 1094.1,1472.7 1094.5,1473.0 1094.8,1474.9 1095.2,1468.8 1095.6,1474.1 1095.9,1470.5 1096.3,1469.6 1096.6,1471.6 1097.0,1470.9 1097.4,1469.1 1097.7,1467.7 1098.1,1469.2 1098.4,1474.9 1098.8,1476.1 1099.2,1473.0 1099.5,1474.3 1099.9,1470.3 1100.2,1471.3 1100.6,1472.2 1101.0,1469.0 1101.3,1469.2 1101.7,1471.7 1102.0,1470.8 1102.4,1469.0 1102.8,1472.4 1103.1,1470.9 1103.5,1473.9 1103.8,1471.5 1104.2,1470.8 1104.6,1471.8 1104.9,1471.1 1105.3,1469.9 1105.6,1470.6 1106.0,1473.3 1106.4,1473.0 1106.7,1474.5 1107.1,1467.5 1107.4,1470.6 1107.8,1470.5 1108.2,1471.9 1108.5,1470.4 1108.9,1470.3 1109.2,1473.3 1109.6,1471.9 1110.0,1468.8 1110.3,1474.6 1110.7,1473.8 1111.0,1470.2 1111.4,1473.4 1111.8,1469.8 1112.1,1474.1 1112.5,1471.0 1112.8,1469.6 1113.2,1470.6 1113.6,1469.7 1113.9,1471.9 1114.3,1471.9 1114.6,1471.6 1115.0,1470.2 1115.4,1462.9 1115.7,1471.7 1116.1,1467.1 1116.4,1472.0 1116.8,1474.1 1117.2,1472.1 1117.5,1470.5 1117.9,1471.0 1118.2,1471.1 1118.6,1470.1 1119.0,1470.0 1119.3,1469.2 1119.7,1474.1 1120.0,1471.2 1120.4,1473.5 1120.8,1470.7 1121.1,1471.4 1121.5,1470.8 1121.8,1472.3 1122.2,1473.1 1122.6,1471.7 1122.9,1469.6 1123.3,1469.3 1123.6,1475.0 1124.0,1470.4 1124.4,1470.4 1124.7,1474.5 1125.1,1473.6 1125.4,1472.2 1125.8,1470.0 1126.2,1476.5 1126.5,1471.9 1126.9,1472.2 1127.2,1470.5 1127.6,1467.6 1128.0,1467.7 1128.3,1471.8 1128.7,1471.7 1129.0,1470.2 1129.4,1468.0 1129.8,1467.4 1130.1,1470.0 1130.5,1467.3 1130.8,1472.8 1131.2,1473.4 1131.6,1477.3 1131.9,1472.7 1132.3,1469.2 1132.6,1468.6 1133.0,1462.5 1133.4,1469.3 1133.7,1470.4 1134.1,1473.2 1134.4,1472.5 1134.8,1472.5 1135.2,1471.8 1135.5,1472.9 1135.9,1474.8 1136.2,1469.1 1136.6,1470.6 1137.0,1468.5 1137.3,1475.7 1137.7,1475.0 1138.0,1473.8 1138.4,1469.4 1138.8,1472.7 1139.1,1471.8 1139.5,1472.7 1139.8,1472.2 1140.2,1473.9 1140.6,1471.9 1140.9,1474.9 1141.3,1473.6 1141.6,1472.4 1142.0,1473.0 1142.4,1472.3 1142.7,1475.3 1143.1,1472.9 1143.4,1474.3 1143.8,1472.8 1144.2,1470.4 1144.5,1476.1 1144.9,1471.6 1145.2,1475.8 1145.6,1475.3 1146.0,1470.6 1146.3,1472.4 1146.7,1473.6 1147.0,1473.0 1147.4,1472.3 1147.8,1476.9 1148.1,1474.7 1148.5,1476.3 1148.8,1474.6 1149.2,1476.4 1149.6,1474.1 1149.9,1475.9 1150.3,1477.5 1150.6,1476.3 1151.0,1475.3 1151.4,1474.0 1151.7,1477.0 1152.1,1477.6 1152.4,1476.3 1152.8,1475.3 1153.2,1478.4 1153.5,1483.1 1153.9,1476.8 1154.2,1478.4 1154.6,1478.6 1155.0,1472.0 1155.3,1478.3 1155.7,1476.5 1156.0,1481.5 1156.4,1477.8 1156.8,1476.8 1157.1,1478.2 1157.5,1479.2 1157.8,1477.7 1158.2,1479.0 1158.6,1476.1 1158.9,1478.9 1159.3,1481.3 1159.6,1484.2 1160.0,1481.5 1160.4,1480.6 1160.7,1482.8 1161.1,1482.6 1161.4,1484.2 1161.8,1483.1 1162.2,1480.5 1162.5,1481.5 1162.9,1481.4 1163.2,1481.9 1163.6,1481.8 1164.0,1479.7 1164.3,1476.8 1164.7,1480.2 1165.0,1477.3 1165.4,1482.2 1165.8,1482.2 1166.1,1478.5 1166.5,1484.1 1166.8,1484.6 1167.2,1483.0 1167.6,1486.7 1167.9,1487.4 1168.3,1480.5 1168.6,1485.7 1169.0,1484.4 1169.4,1484.5 1169.7,1485.7 1170.1,1482.1 1170.4,1482.5 1170.8,1482.0 1171.2,1482.3 1171.5,1483.8 1171.9,1480.9 1172.2,1481.9 1172.6,1485.6 1173.0,1484.3 1173.3,1485.4 1173.7,1480.3 1174.0,1482.9 1174.4,1483.5 1174.8,1484.9 1175.1,1483.6 1175.5,1487.2 1175.8,1485.0 1176.2,1485.3 1176.6,1485.4 1176.9,1487.0 1177.3,1484.4 1177.6,1488.1 1178.0,1486.7 1178.4,1486.1 1178.7,1485.8 1179.1,1486.8 1179.4,1487.7 1179.8,1487.5 1180.2,1486.0 1180.5,1487.0 1180.9,1485.2 1181.2,1487.6 1181.6,1484.6 1182.0,1479.8 1182.3,1487.4 1182.7,1484.5 1183.0,1481.5 1183.4,1483.5 1183.8,1481.9 1184.1,1488.5 1184.5,1484.6 1184.8,1481.6 1185.2,1484.0 1185.6,1482.3 1185.9,1482.9 1186.3,1481.0 1186.6,1480.2 1187.0,1479.5 1187.4,1478.7 1187.7,1477.9 1188.1,1477.1 1188.4,1476.4 1188.8,1475.6 1189.2,1474.7 1189.5,1473.8 1189.9,1469.1 1190.2,1464.5 1190.6,1459.8 1191.0,1455.1 1191.3,1444.4 1191.7,1421.7 1192.0,1396.0 1192.4,1347.3 1192.8,1311.8 1193.1,1290.0 1193.5,1273.8 1193.8,1257.5 1194.2,1241.2 1194.6,1225.0 1194.9,1208.6 1195.3,1192.4 1195.3,1191.5 1195.6,1202.0 1196.0,1213.2 1196.4,1224.4 1196.7,1235.5 1197.1,1246.7 1197.4,1257.9 1197.8,1268.9 1198.2,1280.2 1198.5,1291.3 1198.9,1303.4 1199.2,1318.6 1199.6,1333.8 1200.0,1351.5 1200.3,1369.3 1200.7,1386.9 1201.0,1413.2 1201.4,1438.8 1201.8,1452.3 1202.1,1465.9 1202.5,1470.4 1202.8,1472.3 1203.2,1474.4 1203.6,1476.2 1203.9,1478.2 1204.3,1480.1 1204.6,1482.0 1205.0,1482.4 1205.4,1482.5 1205.7,1482.6 1206.1,1482.6 1206.4,1482.6 1206.8,1482.9 1207.2,1482.7 1207.5,1483.4 1207.9,1484.7 1208.2,1483.5 1208.6,1488.1 1209.0,1483.4 1209.3,1480.3 1209.7,1485.9 1210.0,1482.1 1210.4,1482.4 1210.8,1476.3 1211.1,1485.4 1211.5,1485.1 1211.8,1485.1 1212.2,1485.5 1212.6,1487.2 1212.9,1483.3 1213.3,1485.5 1213.6,1481.8 1214.0,1482.7 1214.4,1485.9 1214.7,1484.5 1215.1,1480.6 1215.4,1484.5 1215.8,1483.3 1216.2,1481.9 1216.5,1484.8 1216.9,1482.9 1217.2,1480.3 1217.6,1481.4 1218.0,1488.0 1218.3,1480.6 1218.7,1484.6 1219.0,1485.5 1219.4,1485.7 1219.8,1481.7 1220.1,1483.9 1220.5,1485.1 1220.8,1486.8 1221.2,1483.7 1221.6,1482.7 1221.9,1487.8 1222.3,1488.2 1222.6,1486.7 1223.0,1484.7 1223.4,1487.2 1223.7,1486.7 1224.1,1488.5 1224.4,1484.0 1224.8,1487.3 1225.2,1486.8 1225.5,1484.9 1225.9,1488.0 1226.2,1487.8 1226.6,1487.0 1227.0,1489.0 1227.3,1485.1 1227.7,1488.3 1228.0,1489.6 1228.4,1489.4 1228.8,1491.4 1229.1,1486.5 1229.5,1485.9 1229.8,1490.0 1230.2,1490.7 1230.6,1494.6 1230.9,1491.4 1231.3,1488.3 1231.6,1492.2 1232.0,1488.7 1232.4,1487.4 1232.7,1496.7 1233.1,1491.8 1233.4,1492.9 1233.8,1492.7 1234.2,1495.7 1234.5,1492.3 1234.9,1494.4 1235.2,1489.3 1235.6,1488.5 1236.0,1494.7 1236.3,1494.8 1236.7,1492.6 1237.0,1491.9 1237.4,1491.8 1237.8,1489.8 1238.1,1494.8 1238.5,1492.8 1238.8,1492.4 1239.2,1492.1 1239.6,1493.5 1239.9,1492.3 1240.3,1492.8 1240.6,1488.5 1241.0,1492.2 1241.4,1495.9 1241.7,1489.8 1242.1,1490.7 1242.4,1492.9 1242.8,1493.0 1243.2,1492.3 1243.5,1487.3 1243.9,1492.0 1244.2,1488.3 1244.6,1489.1 1245.0,1492.1 1245.3,1490.2 1245.7,1492.7 1246.0,1497.9 1246.4,1492.6 1246.8,1492.5 1247.1,1488.9 1247.5,1489.5 1247.8,1488.5 1248.2,1489.7 1248.6,1488.5 1248.9,1489.4 1249.3,1490.4 1249.6,1488.7 1250.0,1487.7 1250.4,1487.9 1250.7,1491.9 1251.1,1491.0 1251.4,1493.3 1251.8,1493.4 1252.2,1490.4 1252.5,1492.7 1252.9,1488.0 1253.2,1496.4 1253.6,1494.1 1254.0,1491.0 1254.3,1489.0 1254.7,1492.5 1255.0,1487.5 1255.4,1490.0 1255.8,1493.5 1256.1,1492.1 1256.5,1490.9 1256.8,1494.2 1257.2,1489.8 1257.6,1492.8 1257.9,1491.2 1258.3,1490.5 1258.6,1493.4 1259.0,1490.3 1259.4,1496.8 1259.7,1491.3 1260.1,1497.2 1260.4,1490.4 1260.8,1494.3 1261.2,1490.4 1261.5,1490.2 1261.9,1493.6 1262.2,1494.9 1262.6,1490.7 1263.0,1496.2 1263.3,1491.9 1263.7,1494.1 1264.0,1494.8 1264.4,1495.3 1264.8,1490.2 1265.1,1497.8 1265.5,1495.6 1265.8,1493.5 1266.2,1492.3 1266.6,1490.9 1266.9,1491.8 1267.3,1496.1 1267.6,1494.2 1268.0,1492.6 1268.4,1494.0 1268.7,1498.6 1269.1,1494.5 1269.4,1493.9 1269.8,1498.2 1270.2,1496.3 1270.5,1495.4 1270.9,1494.0 1271.2,1492.0 1271.6,1492.9 1272.0,1494.4 1272.3,1495.0 1272.7,1496.3 1273.0,1496.8 1273.4,1496.1 1273.8,1496.1 1274.1,1493.5 1274.5,1491.0 1274.8,1494.6 1275.2,1493.7 1275.6,1494.4 1275.9,1495.2 1276.3,1493.1 1276.6,1493.5 1277.0,1495.9 1277.4,1496.5 1277.7,1495.0 1278.1,1497.6 1278.4,1496.2 1278.8,1494.6 1279.2,1497.1 1279.5,1501.2 1279.9,1495.8 1280.2,1500.0 1280.6,1500.6 1281.0,1501.0 1281.3,1496.1 1281.7,1502.4 1282.0,1498.4 1282.4,1497.7 1282.8,1497.9 1283.1,1499.9 1283.5,1498.8 1283.8,1498.5 1284.2,1501.8 1284.6,1497.6 1284.9,1497.0 1285.3,1501.1 1285.6,1500.9 1286.0,1501.8 1286.4,1497.1 1286.7,1501.8 1287.1,1500.6 1287.4,1503.4 1287.8,1496.9 1288.2,1500.1 1288.5,1499.1 1288.9,1496.3 1289.2,1498.2 1289.6,1502.3 1290.0,1498.8 1290.3,1498.3 1290.7,1501.8 1291.0,1502.1 1291.4,1502.1 1291.8,1498.3 1292.1,1499.9 1292.5,1502.3 1292.8,1498.7 1293.2,1498.5 1293.6,1502.0 1293.9,1503.7 1294.3,1497.9 1294.6,1494.8 1295.0,1497.4 1295.4,1498.4 1295.7,1500.4 1296.1,1502.1 1296.4,1500.5 1296.8,1499.4 1297.2,1501.3 1297.5,1498.9 1297.9,1501.0 1298.2,1499.8 1298.6,1507.1 1299.0,1503.1 1299.3,1499.6 1299.7,1499.3 1300.0,1500.6 1300.4,1498.1 1300.8,1500.1 1301.1,1500.2 1301.5,1503.7 1301.8,1501.0 1302.2,1500.3 1302.6,1499.2 1302.9,1499.7 1303.3,1502.2 1303.6,1502.0 1304.0,1505.0 1304.4,1501.3 1304.7,1505.0 1305.1,1503.4 1305.4,1503.0 1305.8,1498.7 1306.2,1500.4 1306.5,1504.9 1306.9,1506.4 1307.2,1503.9 1307.6,1505.2 1308.0,1502.8 1308.3,1503.0 1308.7,1502.5 1309.0,1506.1 1309.4,1504.9 1309.8,1503.7 1310.1,1503.6 1310.5,1505.6 1310.8,1505.2 1311.2,1502.8 1311.6,1508.3 1311.9,1505.3 1312.3,1504.8 1312.6,1508.0 1313.0,1507.1 1313.4,1504.8 1313.7,1506.2 1314.1,1502.9 1314.4,1503.9 1314.8,1500.5 1315.2,1508.0 1315.5,1501.4 1315.9,1507.0 1316.2,1503.8 1316.6,1503.6 1317.0,1505.3 1317.3,1506.4 1317.7,1507.2 1318.0,1509.8 1318.4,1506.8 1318.8,1508.0 1319.1,1504.9 1319.5,1507.9 1319.8,1506.8 1320.2,1505.6 1320.6,1506.4 1320.9,1506.6 1321.3,1507.3 1321.6,1507.8 1322.0,1506.0 1322.4,1505.6 1322.7,1508.9 1323.1,1503.8 1323.4,1506.2 1323.8,1510.9 1324.2,1501.9 1324.5,1506.3 1324.9,1509.4 1325.2,1504.5 1325.6,1513.7 1326.0,1502.7 1326.3,1511.4 1326.7,1511.8 1327.0,1510.5 1327.4,1508.2 1327.8,1509.5 1328.1,1506.9 1328.5,1510.6 1328.8,1506.6 1329.2,1508.4 1329.6,1511.2 1329.9,1506.8 1330.3,1508.5 1330.6,1509.6 1331.0,1506.5 1331.4,1511.9 1331.7,1510.2 1332.1,1506.4 1332.4,1509.6 1332.8,1508.1 1333.2,1508.4 1333.5,1510.0 1333.9,1508.4 1334.2,1512.1 1334.6,1508.6 1335.0,1512.2 1335.3,1510.2 1335.7,1512.1 1336.0,1509.3 1336.4,1509.5 1336.8,1508.2 1337.1,1512.0 1337.5,1512.8 1337.8,1515.4 1338.2,1513.8 1338.6,1511.7 1338.9,1510.8 1339.3,1512.2 1339.6,1511.4 1340.0,1514.7 1340.4,1513.7 1340.7,1510.0 1341.1,1510.5 1341.4,1514.9 1341.8,1512.8 1342.2,1511.7 1342.5,1514.8 1342.9,1511.6 1343.2,1512.0 1343.6,1511.7 1344.0,1508.6 1344.3,1514.7 1344.7,1510.4 1345.0,1511.8 1345.4,1511.5 1345.8,1514.7 1346.1,1513.1 1346.5,1513.3 1346.8,1509.8 1347.2,1513.2 1347.6,1510.4 1347.9,1514.2 1348.3,1514.4 1348.6,1513.7 1349.0,1518.1 1349.4,1515.0 1349.7,1515.2 1350.1,1514.3 1350.4,1513.7 1350.8,1516.2 1351.2,1516.5 1351.5,1511.6 1351.9,1516.6 1352.2,1515.5 1352.6,1516.5 1353.0,1515.5 1353.3,1512.0 1353.7,1512.2 1354.0,1518.5 1354.4,1515.2 1354.8,1511.8 1355.1,1515.5 1355.5,1514.1 1355.8,1511.0 1356.2,1510.1 1356.6,1511.6 1356.9,1515.5 1357.3,1514.9 1357.6,1514.5 1358.0,1515.7 1358.4,1516.4 1358.7,1510.8 1359.1,1514.6 1359.4,1513.5 1359.8,1512.7 1360.2,1514.2 1360.5,1515.1 1360.9,1514.8 1361.2,1512.4 1361.6,1514.5 1362.0,1519.7 1362.3,1513.3 1362.7,1512.1 1363.0,1516.2 1363.4,1516.9 1363.8,1516.6 1364.1,1513.4 1364.5,1517.8 1364.8,1514.1 1365.2,1513.4 1365.6,1514.6 1365.9,1515.6 1366.3,1517.4 1366.6,1517.2 1367.0,1515.9 1367.4,1518.0 1367.7,1516.2 1368.1,1517.9 1368.4,1513.2 1368.8,1512.9 1369.2,1517.8 1369.5,1513.3 1369.9,1515.6 1370.2,1516.1 1370.6,1515.3 1371.0,1515.4 1371.3,1519.3 1371.7,1511.2 1372.0,1518.3 1372.4,1521.3 1372.8,1516.6 1373.1,1516.6 1373.5,1518.1 1373.8,1520.5 1374.2,1514.2 1374.6,1516.9 1374.9,1516.4 1375.3,1518.0 1375.6,1517.2 1376.0,1518.3 1376.4,1516.1 1376.7,1517.1 1377.1,1515.6 1377.4,1515.7 1377.8,1516.8 1378.2,1516.9 1378.5,1514.8 1378.9,1520.5 1379.2,1517.1 1379.6,1514.5 1380.0,1519.7 1380.3,1516.0 1380.7,1518.6 1381.0,1517.6 1381.4,1518.2 1381.8,1518.1 1382.1,1516.6 1382.5,1517.9 1382.8,1522.1 1383.2,1513.3 1383.6,1518.2 1383.9,1519.0 1384.3,1516.0 1384.6,1515.4 1385.0,1522.7 1385.4,1517.6 1385.7,1522.7 1386.1,1519.5 1386.4,1518.7 1386.8,1519.5 1387.2,1519.9 1387.5,1521.1 1387.9,1519.6 1388.2,1519.1 1388.6,1519.4 1389.0,1521.9 1389.3,1521.0 1389.7,1517.4 1390.0,1518.3 1390.4,1520.4 1390.8,1518.6 1391.1,1519.2 1391.5,1518.2 1391.8,1519.7 1392.2,1521.3 1392.6,1522.6 1392.9,1520.7 1393.3,1525.1 1393.6,1520.8 1394.0,1527.7 1394.4,1523.3 1394.7,1522.4 1395.1,1520.6 1395.4,1515.9 1395.8,1521.5 1396.2,1522.4 1396.5,1526.1 1396.9,1519.5 1397.2,1526.2 1397.6,1521.8 1398.0,1523.8 1398.3,1517.1 1398.7,1522.6 1399.0,1521.6 1399.4,1523.7 1399.8,1522.5 1400.1,1520.0 1400.5,1524.2 1400.8,1523.7 1401.2,1523.5 1401.6,1524.4 1401.9,1524.6 1402.3,1522.3 1402.6,1519.5 1403.0,1519.5 1403.4,1525.1 1403.7,1523.8 1404.1,1522.5 1404.4,1521.4 1404.8,1522.4 1405.2,1522.4 1405.5,1521.6 1405.9,1520.9 1406.2,1526.7 1406.6,1522.8 1407.0,1521.1 1407.3,1519.6 1407.7,1520.8 1408.0,1523.8 1408.4,1523.9 1408.8,1521.9 1409.1,1522.4 1409.5,1521.7 1409.8,1520.0 1410.2,1525.0 1410.6,1523.1 1410.9,1527.4 1411.3,1520.8 1411.6,1522.0 1412.0,1524.1 1412.4,1521.8 1412.7,1519.5 1413.1,1520.4 1413.4,1522.5 1413.8,1523.0 1414.2,1522.2 1414.5,1524.5 1414.9,1524.6 1415.2,1523.3 1415.6,1522.8 1416.0,1522.3 1416.3,1524.1 1416.7,1524.9 1417.0,1523.2 1417.4,1524.1 1417.8,1522.6 1418.1,1520.5 1418.5,1521.4 1418.8,1525.1 1419.2,1524.6 1419.6,1527.0 1419.9,1523.9 1420.3,1525.7 1420.6,1526.7 1421.0,1526.1 1421.4,1522.9 1421.7,1523.9 1422.1,1524.6 1422.4,1522.4 1422.8,1525.5 1423.2,1526.7 1423.5,1523.7 1423.9,1528.8 1424.2,1524.3 1424.6,1524.6 1425.0,1524.6 1425.3,1523.7 1425.7,1526.1 1426.0,1525.4 1426.4,1528.8 1426.8,1526.8 1427.1,1526.7 1427.5,1525.3 1427.8,1522.9 1428.2,1525.7 1428.6,1524.2 1428.9,1528.0 1429.3,1526.1 1429.6,1529.6 1430.0,1527.8 1430.4,1528.1 1430.7,1527.0 1431.1,1527.0 1431.4,1527.9 1431.8,1528.5 1432.2,1525.3 1432.5,1527.8 1432.9,1532.1 1433.2,1526.7 1433.6,1526.4 1434.0,1525.6 1434.3,1524.1 1434.7,1529.5 1435.0,1527.3 1435.4,1527.8 1435.8,1531.0 1436.1,1532.4 1436.5,1525.6 1436.8,1529.6 1437.2,1528.8 1437.6,1528.4 1437.9,1528.6 1438.3,1527.6 1438.6,1530.9 1439.0,1529.0 1439.4,1528.5 1439.7,1530.4 1440.1,1529.8 1440.4,1528.9 1440.8,1528.7 1441.2,1531.6 1441.5,1529.2 1441.9,1528.0 1442.2,1526.6 1442.6,1527.6 1443.0,1526.3 1443.3,1528.7 1443.7,1529.0 1444.0,1524.4 1444.4,1528.7 1444.8,1530.0 1445.1,1529.1 1445.5,1526.9 1445.8,1531.4 1446.2,1527.5 1446.6,1526.5 1446.9,1526.8 1447.3,1529.0 1447.6,1531.1 1448.0,1531.4 1448.4,1529.5 1448.7,1526.7 1449.1,1527.8 1449.4,1527.3 1449.8,1528.7 1450.2,1525.5 1450.5,1529.3 1450.9,1530.4 1451.2,1528.8 1451.6,1530.0 1452.0,1527.2 1452.3,1526.2 1452.7,1527.8 1453.0,1531.4 1453.4,1531.2 1453.8,1528.2 1454.1,1531.5 1454.5,1528.4 1454.8,1532.1 1455.2,1530.1 1455.6,1528.2 1455.9,1530.7 1456.3,1527.5 1456.6,1527.2 1457.0,1526.2 1457.4,1529.6 1457.7,1529.0 1458.1,1528.9 1458.4,1528.3 1458.8,1532.0 1459.2,1528.3 1459.5,1527.6 1459.9,1531.6 1460.2,1532.0 1460.6,1529.8 1461.0,1525.6 1461.3,1527.9 1461.7,1530.3 1462.0,1529.1 1462.4,1532.2 1462.8,1526.4 1463.1,1530.5 1463.5,1527.8 1463.8,1531.8 1464.2,1528.9 1464.6,1531.2 1464.9,1527.9 1465.3,1526.4 1465.6,1527.1 1466.0,1528.2 1466.4,1527.4 1466.7,1531.9 1467.1,1532.3 1467.4,1530.2 1467.8,1527.7 1468.2,1529.6 1468.5,1528.5 1468.9,1532.9 1469.2,1530.7 1469.6,1531.1 1470.0,1529.4 1470.3,1526.2 1470.7,1528.8 1471.0,1528.1 1471.4,1531.2 1471.8,1530.7 1472.1,1529.0 1472.5,1529.9 1472.8,1533.9 1473.2,1528.9 1473.6,1529.0 1473.9,1530.5 1474.3,1529.6 1474.6,1530.2 1475.0,1532.2 1475.4,1534.7 1475.7,1527.7 1476.1,1531.3 1476.4,1531.5 1476.8,1531.3 1477.2,1531.2 1477.5,1531.0 1477.9,1533.7 1478.2,1530.9 1478.6,1531.6 1479.0,1531.9 1479.3,1532.2 1479.7,1531.7 1480.0,1534.1 1480.4,1532.2 1480.8,1532.6 1481.1,1532.2 1481.5,1530.4 1481.8,1530.7 1482.2,1530.3 1482.6,1532.7 1482.9,1530.9 1483.3,1530.2 1483.6,1532.8 1484.0,1533.3 1484.4,1528.8 1484.7,1535.6 1485.1,1532.3 1485.4,1532.0 1485.8,1534.3 1486.2,1532.3 1486.5,1531.0 1486.9,1536.5 1487.2,1530.0 1487.6,1531.9 1488.0,1533.8 1488.3,1529.9 1488.7,1531.9 1489.0,1532.8 1489.4,1536.8 1489.8,1530.2 1490.1,1531.9 1490.5,1533.3 1490.8,1532.1 1491.2,1529.5 1491.6,1532.7 1491.9,1532.1 1492.3,1532.8 1492.6,1534.1 1493.0,1533.9 1493.4,1532.6 1493.7,1532.4 1494.1,1529.6 1494.4,1531.5 1494.8,1532.2 1495.2,1530.9 1495.5,1531.9 1495.9,1530.1 1496.2,1534.7 1496.6,1536.0 1497.0,1530.9 1497.3,1532.4 1497.7,1531.2 1498.0,1534.1 1498.4,1532.5 1498.8,1531.8 1499.1,1531.2 1499.5,1531.9 1499.8,1529.7 1500.2,1533.0 1500.6,1530.3 1500.9,1532.8 1501.3,1532.0 1501.6,1533.9 1502.0,1531.7 1502.4,1533.8 1502.7,1530.0 1503.1,1533.0 1503.4,1531.4 1503.8,1532.3 1504.2,1532.0 1504.5,1533.8 1504.9,1527.9 1505.2,1532.6 1505.6,1529.0 1506.0,1534.4 1506.3,1528.1 1506.7,1530.0 1507.0,1528.7 1507.4,1535.3 1507.8,1529.5 1508.1,1532.3 1508.5,1531.0 1508.8,1528.5 1509.2,1531.4 1509.6,1533.5 1509.9,1531.8 1510.3,1534.0 1510.6,1531.5 1511.0,1532.2 1511.4,1531.5 1511.7,1532.9 1512.1,1536.0 1512.4,1533.0 1512.8,1532.7 1513.2,1531.1 1513.5,1530.8 1513.9,1535.3 1514.2,1530.1 1514.6,1530.6 1515.0,1532.2 1515.3,1531.6 1515.7,1536.4 1516.0,1527.8 1516.4,1533.3 1516.8,1534.1 1517.1,1530.5 1517.5,1531.5 1517.8,1533.7 1518.2,1536.1 1518.6,1531.1 1518.9,1529.9 1519.3,1535.0 1519.6,1536.1 1520.0,1532.5 1520.4,1528.8 1520.7,1536.1 1521.1,1532.9 1521.4,1535.6 1521.8,1533.3 1522.2,1532.7 1522.5,1532.6 1522.9,1536.5 1523.2,1536.5 1523.6,1529.5 1524.0,1531.9 1524.3,1537.3 1524.7,1533.1 1525.0,1531.2 1525.4,1534.0 1525.8,1533.8 1526.1,1533.9 1526.5,1533.2 1526.8,1533.6 1527.2,1533.4 1527.6,1535.0 1527.9,1532.8 1528.3,1533.9 1528.6,1534.2 1529.0,1537.1 1529.4,1535.3 1529.7,1534.4 1530.1,1535.8 1530.4,1535.6 1530.8,1537.0 1531.2,1535.9 1531.5,1538.5 1531.9,1537.6 1532.2,1534.9 1532.6,1534.2 1533.0,1536.8 1533.3,1536.1 1533.7,1534.9 1534.0,1532.2 1534.4,1531.5 1534.8,1535.8 1535.1,1536.7 1535.5,1536.7 1535.8,1532.6 1536.2,1537.2 1536.6,1534.2 1536.9,1536.0 1537.3,1536.1 1537.6,1533.7 1538.0,1534.1 1538.4,1531.2 1538.7,1533.5 1539.1,1531.8 1539.4,1536.2 1539.8,1535.5 1540.2,1537.2 1540.5,1536.1 1540.9,1534.2 1541.2,1536.1 1541.6,1534.7 1542.0,1536.7 1542.3,1536.1 1542.7,1533.6 1543.0,1535.5 1543.4,1535.6 1543.8,1535.0 1544.1,1537.3 1544.5,1539.0 1544.8,1534.9 1545.2,1534.9 1545.6,1531.2 1545.9,1535.4 1546.3,1534.8 1546.6,1531.4 1547.0,1536.3 1547.4,1536.9 1547.7,1534.3 1548.1,1535.0 1548.4,1533.9 1548.8,1537.3 1549.2,1532.9 1549.5,1535.3 1549.9,1539.8 1550.2,1536.1 1550.6,1537.0 1551.0,1535.8 1551.3,1533.8 1551.7,1536.1 1552.0,1537.1 1552.4,1534.3 1552.8,1537.0 1553.1,1538.9 1553.5,1538.6 1553.8,1533.4 1554.2,1534.7 1554.6,1533.5 1554.9,1538.8 1555.3,1537.9 1555.6,1538.2 1556.0,1535.1 1556.4,1534.6 1556.7,1537.1 1557.1,1537.2 1557.4,1535.4 1557.8,1537.4 1558.2,1538.4 1558.5,1537.7 1558.9,1535.2 1559.2,1533.2 1559.6,1536.9 1560.0,1537.8 1560.3,1537.0 1560.7,1536.7 1561.0,1536.2 1561.4,1539.0 1561.8,1537.6 1562.1,1538.0 1562.5,1535.9 1562.8,1536.6 1563.2,1538.2 1563.6,1536.0 1563.9,1535.6 1564.3,1537.4 1564.6,1540.5 1565.0,1538.6 1565.4,1541.1 1565.7,1538.0 1566.1,1537.7 1566.4,1535.6 1566.8,1537.3 1567.2,1541.2 1567.5,1539.1 1567.9,1539.9 1568.2,1539.9 1568.6,1538.6 1569.0,1538.2 1569.3,1538.9 1569.7,1540.0 1570.0,1539.6 1570.4,1539.7 1570.8,1539.1 1571.1,1537.3 1571.5,1538.4 1571.8,1537.1 1572.2,1540.9 1572.6,1534.9 1572.9,1538.6 1573.3,1543.7 1573.6,1538.4 1574.0,1536.9 1574.4,1539.1 1574.7,1541.7 1575.1,1538.9 1575.4,1540.5 1575.8,1539.5 1576.2,1538.6 1576.5,1545.5 1576.9,1539.6 1577.2,1538.4 1577.6,1538.5 1578.0,1540.3 1578.3,1540.4 1578.7,1541.1 1579.0,1539.9 1579.4,1536.9 1579.8,1540.7 1580.1,1539.1 1580.5,1539.2 1580.8,1536.9 1581.2,1538.7 1581.6,1538.5 1581.9,1539.9 1582.3,1537.1 1582.6,1540.1 1583.0,1540.3 1583.4,1537.9 1583.7,1538.8 1584.1,1538.4 1584.4,1541.9 1584.8,1535.2 1585.2,1539.5 1585.5,1536.9 1585.9,1539.3 1586.2,1541.8 1586.6,1539.0 1587.0,1540.5 1587.3,1538.6 1587.7,1544.0 1588.0,1542.1 1588.4,1542.5 1588.8,1537.7 1589.1,1538.2 1589.5,1542.5 1589.8,1540.0 1590.2,1539.9 1590.6,1541.1 1590.9,1538.0 1591.3,1542.0 1591.6,1540.5 1592.0,1541.4 1592.4,1539.2 1592.7,1541.5 1593.1,1539.2 1593.4,1542.4 1593.8,1542.8 1594.2,1542.4 1594.5,1541.6 1594.9,1541.9 1595.2,1535.4 1595.6,1542.3 1596.0,1540.2 1596.3,1540.9 1596.7,1540.2 1597.0,1538.1 1597.4,1539.7 1597.8,1542.1 1598.1,1543.6 1598.5,1539.6 1598.8,1539.1 1599.2,1543.7 1599.6,1539.2 1599.9,1545.0 1600.3,1541.1 1600.6,1539.3 1601.0,1543.0 1601.4,1544.4 1601.7,1538.4 1602.1,1544.3 1602.4,1540.8 1602.8,1544.2 1603.2,1540.7 1603.5,1538.4 1603.9,1542.5 1604.2,1543.4 1604.6,1545.7 1605.0,1545.0 1605.3,1543.1 1605.7,1541.3 1606.0,1540.8 1606.4,1541.3 1606.8,1540.4 1607.1,1541.5 1607.5,1537.2 1607.8,1542.5 1608.2,1542.1 1608.6,1547.2 1608.9,1543.7 1609.3,1541.4 1609.6,1543.5 1610.0,1540.1 1610.4,1541.3 1610.7,1538.9 1611.1,1545.4 1611.4,1543.8 1611.8,1540.4 1612.2,1542.6 1612.5,1544.6 1612.9,1543.8 1613.2,1543.7 1613.6,1541.3 1614.0,1541.8 1614.3,1543.3 1614.7,1544.9 1615.0,1541.6 1615.4,1541.1 1615.8,1545.5 1616.1,1541.6 1616.5,1545.5 1616.8,1543.9 1617.2,1545.1 1617.6,1546.8 1617.9,1544.8 1618.3,1545.0 1618.6,1541.7 1619.0,1542.2 1619.4,1544.8 1619.7,1546.5 1620.1,1546.3 1620.4,1548.1 1620.8,1544.2 1621.2,1544.0 1621.5,1545.6 1621.9,1543.7 1622.2,1543.6 1622.6,1541.7 1623.0,1545.6 1623.3,1541.7 1623.7,1544.8 1624.0,1541.1 1624.4,1545.9 1624.8,1541.9 1625.1,1545.5 1625.5,1540.8 1625.8,1543.1 1626.2,1546.2 1626.6,1542.4 1626.9,1544.1 1627.3,1543.1 1627.6,1539.6 1628.0,1544.6 1628.4,1544.9 1628.7,1541.9 1629.1,1545.2 1629.4,1542.6 1629.8,1542.2 1630.2,1544.1 1630.5,1542.8 1630.9,1548.6 1631.2,1541.2 1631.6,1545.6 1632.0,1546.1 1632.3,1540.4 1632.7,1540.9 1633.0,1545.4 1633.4,1543.4 1633.8,1545.0 1634.1,1546.4 1634.5,1543.5 1634.8,1542.2 1635.2,1539.0 1635.6,1544.6 1635.9,1542.4 1636.3,1544.7 1636.6,1544.6 1637.0,1541.5 1637.4,1547.4 1637.7,1546.1 1638.1,1545.7 1638.4,1541.8 1638.8,1543.2 1639.2,1542.9 1639.5,1543.2 1639.9,1541.8 1640.2,1544.8 1640.6,1544.4 1641.0,1544.6 1641.3,1542.9 1641.7,1546.3 1642.0,1544.2 1642.4,1538.6 1642.8,1542.6 1643.1,1543.7 1643.5,1545.6 1643.8,1543.2 1644.2,1543.2 1644.6,1542.4 1644.9,1545.0 1645.3,1542.8 1645.6,1542.5 1646.0,1542.2 1646.4,1544.7 1646.7,1542.6 1647.1,1540.3 1647.4,1544.7 1647.8,1542.2 1648.2,1544.2 1648.5,1544.2 1648.9,1545.8 1649.2,1545.5 1649.6,1542.3 1650.0,1543.1 1650.3,1540.9 1650.7,1546.7 1651.0,1544.3 1651.4,1546.2 1651.8,1542.9 1652.1,1539.6 1652.5,1546.6 1652.8,1543.8 1653.2,1543.9 1653.6,1543.8 1653.9,1545.0 1654.3,1544.8 1654.6,1540.8 1655.0,1546.0 1655.4,1542.9 1655.7,1543.0 1656.1,1547.3 1656.4,1545.8 1656.8,1543.4 1657.2,1540.5 1657.5,1544.4 1657.9,1545.2 1658.2,1544.0 1658.6,1541.8 1659.0,1542.8 1659.3,1541.9 1659.7,1544.8 1660.0,1546.0 1660.4,1546.4 1660.8,1543.0 1661.1,1544.9 1661.5,1545.6 1661.8,1543.6 1662.2,1544.3 1662.6,1548.7 1662.9,1545.1 1663.3,1546.4 1663.6,1543.9 1664.0,1544.9 1664.4,1541.5 1664.7,1544.8 1665.1,1547.2 1665.4,1548.9 1665.8,1547.2 1666.2,1546.3 1666.5,1545.1 1666.9,1543.9 1667.2,1544.8 1667.6,1546.3 1668.0,1543.7 1668.3,1547.0 1668.7,1543.4 1669.0,1541.9 1669.4,1543.4 1669.8,1542.2 1670.1,1542.8 1670.5,1547.6 1670.8,1545.1 1671.2,1545.9 1671.6,1547.8 1671.9,1548.0 1672.3,1544.6 1672.6,1548.2 1673.0,1546.4 1673.4,1545.7 1673.7,1546.6 1674.1,1543.1 1674.4,1544.3 1674.8,1545.7 1675.2,1547.1 1675.5,1545.2 1675.9,1545.7 1676.2,1547.9 1676.6,1548.7 1677.0,1547.5 1677.3,1548.5 1677.7,1545.4 1678.0,1545.6 1678.4,1546.8 1678.8,1545.7 1679.1,1545.3 1679.5,1549.5 1679.8,1546.0 1680.2,1544.6 1680.6,1547.4 1680.9,1550.0 1681.3,1546.7 1681.6,1548.9 1682.0,1545.8 1682.4,1545.7 1682.7,1545.3 1683.1,1546.4 1683.4,1550.2 1683.8,1544.6 1684.2,1549.9 1684.5,1544.9 1684.9,1546.4 1685.2,1548.4 1685.6,1548.1 1686.0,1547.4 1686.3,1543.8 1686.7,1547.6 1687.0,1545.0 1687.4,1551.8 1687.8,1546.6 1688.1,1547.4 1688.5,1544.8 1688.8,1546.1 1689.2,1544.6 1689.6,1548.9 1689.9,1546.6 1690.3,1548.2 1690.6,1545.8 1691.0,1546.2 1691.4,1549.6 1691.7,1545.3 1692.1,1543.8 1692.4,1548.0 1692.8,1545.0 1693.2,1546.4 1693.5,1549.0 1693.9,1545.7 1694.2,1549.0 1694.6,1546.0 1695.0,1550.2 1695.3,1549.9 1695.7,1546.5 1696.0,1547.0 1696.4,1545.8 1696.8,1547.8 1697.1,1549.6 1697.5,1544.7 1697.8,1549.2 1698.2,1545.0 1698.6,1545.9 1698.9,1544.1 1699.3,1551.5 1699.6,1547.7 1700.0,1548.0 1700.4,1546.3 1700.7,1549.6 1701.1,1543.6 1701.4,1547.7 1701.8,1551.8 1702.2,1546.9 1702.5,1547.6 1702.9,1548.9 1703.2,1546.1 1703.6,1547.6 1704.0,1549.4 1704.3,1548.0 1704.7,1548.3 1705.0,1546.9 1705.4,1548.2 1705.8,1547.7 1706.1,1550.4 1706.5,1549.0 1706.8,1547.1 1707.2,1543.0 1707.6,1549.0 1707.9,1549.0 1708.3,1545.9 1708.6,1543.8 1709.0,1545.4 1709.4,1549.4 1709.7,1545.6 1710.1,1546.7 1710.4,1548.0 1710.8,1549.9 1711.2,1547.6 1711.5,1547.4 1711.9,1546.6 1712.2,1550.7 1712.6,1549.6 1713.0,1547.4 1713.3,1544.9 1713.7,1546.1 1714.0,1548.7 1714.4,1546.2 1714.8,1549.3 1715.1,1548.3 1715.5,1548.2 1715.8,1548.8 1716.2,1548.5 1716.6,1546.0 1716.9,1547.0 1717.3,1552.0 1717.6,1545.3 1718.0,1546.6 1718.4,1549.5 1718.7,1547.0 1719.1,1545.7 1719.4,1544.6 1719.8,1548.0 1720.2,1548.8 1720.5,1549.4 1720.9,1546.7 1721.2,1548.5 1721.6,1544.4 1722.0,1546.6 1722.3,1544.9 1722.7,1546.4 1723.0,1547.4 1723.4,1547.9 1723.8,1543.9 1724.1,1548.1 1724.5,1544.6 1724.8,1543.4 1725.2,1545.0 1725.6,1542.4 1725.9,1545.1 1726.3,1545.5 1726.6,1544.5 1727.0,1545.8 1727.4,1544.1 1727.7,1544.5 1728.1,1542.7 1728.4,1544.3 1728.8,1542.9 1729.2,1542.9 1729.5,1542.7 1729.9,1542.4 1730.2,1540.7 1730.6,1540.3 1731.0,1540.6 1731.3,1540.6 1731.7,1540.1 1732.0,1539.9 1732.4,1538.7 1732.8,1534.2 1733.1,1529.8 1733.5,1525.1 1733.8,1521.1 1734.2,1516.3 1734.6,1510.9 1734.9,1504.8 1735.3,1498.9 1735.6,1494.1 1736.0,1489.9 1736.4,1484.8 1736.7,1481.6 1737.1,1481.4 1737.4,1480.4 1737.8,1479.8 1737.9,1480.9 1738.2,1483.1 1738.5,1485.8 1738.9,1488.9 1739.2,1494.3 1739.6,1497.2 1740.0,1502.9 1740.3,1508.3 1740.7,1507.7 1741.0,1509.6 1741.4,1511.8 1741.8,1511.8 1742.1,1512.2 1742.5,1513.5 1742.8,1515.0 1743.2,1517.7 1743.6,1518.6 1743.9,1522.9 1744.3,1528.2 1744.6,1533.6 1745.0,1536.5 1745.4,1539.1 1745.7,1538.8 1746.1,1544.0 1746.4,1547.3 1746.8,1547.0 1747.2,1545.7 1747.5,1545.4 1747.9,1546.7 1748.2,1545.8 1748.6,1547.7 1749.0,1546.8 1749.3,1548.4 1749.7,1549.4 1750.0,1544.7 1750.4,1548.5 1750.8,1546.8 1751.1,1545.6 1751.5,1546.9 1751.8,1547.7 1752.2,1550.1 1752.6,1545.3 1752.9,1550.2 1753.3,1552.1 1753.6,1549.4 1754.0,1549.3 1754.4,1548.3 1754.7,1546.1 1755.1,1549.4 1755.4,1549.1 1755.8,1549.8 1756.2,1553.3 1756.5,1549.8 1756.9,1549.3 1757.2,1551.5 1757.6,1546.0 1758.0,1546.4 1758.3,1547.9 1758.7,1547.3 1759.0,1549.9 1759.4,1548.0 1759.8,1551.9 1760.1,1551.6 1760.5,1550.2 1760.8,1548.0 1761.2,1549.9 1761.6,1550.3 1761.9,1546.8 1762.3,1549.5 1762.6,1550.2 1763.0,1549.3 1763.4,1551.8 1763.7,1551.2 1764.1,1547.3 1764.4,1549.2 1764.8,1547.4 1765.2,1550.1 1765.5,1547.4 1765.9,1550.8 1766.2,1549.8 1766.6,1550.9 1767.0,1548.8 1767.3,1546.3 1767.7,1552.5 1768.0,1548.8 1768.4,1551.8 1768.8,1550.0 1769.1,1550.5 1769.5,1552.7 1769.8,1549.9 1770.2,1551.9 1770.6,1546.5 1770.9,1550.9 1771.3,1548.8 1771.6,1549.0 1772.0,1549.3 1772.4,1550.0 1772.7,1552.4 1773.1,1545.8 1773.4,1549.4 1773.8,1547.9 1774.2,1551.5 1774.5,1548.5 1774.9,1550.2 1775.2,1548.5 1775.6,1550.6 1776.0,1551.2 1776.3,1548.5 1776.7,1549.4 1777.0,1546.6 1777.4,1549.9 1777.8,1550.9 1778.1,1548.3 1778.5,1551.4 1778.8,1545.4 1779.2,1545.8 1779.6,1546.7 1779.9,1548.4 1780.3,1549.3 1780.6,1549.2 1781.0,1549.2 1781.4,1550.7 1781.7,1548.4 1782.1,1546.9 1782.4,1547.0 1782.8,1553.3 1783.2,1544.9 1783.5,1549.0 1783.9,1552.1 1784.2,1550.2 1784.6,1547.7 1785.0,1549.3 1785.3,1550.9 1785.7,1551.6 1786.0,1547.6 1786.4,1550.7 1786.8,1549.8 1787.1,1551.4 1787.5,1551.9 1787.8,1548.7 1788.2,1546.7 1788.6,1550.2 1788.9,1552.9 1789.3,1550.9 1789.6,1550.0 1790.0,1554.2 1790.4,1547.8 1790.7,1551.5 1791.1,1548.8 1791.4,1550.0 1791.8,1550.1 1792.2,1552.9 1792.5,1548.3 1792.9,1549.1 1793.2,1547.2 1793.6,1551.1 1794.0,1549.4 1794.3,1551.1 1794.7,1548.4 1795.0,1549.8 1795.4,1552.5 1795.8,1550.2 1796.1,1551.8 1796.5,1551.7 1796.8,1550.1 1797.2,1547.8 1797.6,1552.7 1797.9,1551.2 1798.3,1552.8 1798.6,1547.2 1799.0,1547.9 1799.4,1547.1 1799.7,1549.5 1800.1,1553.2 1800.4,1552.3 1800.8,1551.3 1801.2,1551.6 1801.5,1552.9 1801.9,1550.9 1802.2,1552.3 1802.6,1551.9 1803.0,1547.6 1803.3,1551.0 1803.7,1554.3 1804.0,1551.1 1804.4,1551.6 1804.8,1550.8 1805.1,1551.0 1805.5,1554.0 1805.8,1551.4 1806.2,1550.0 1806.6,1546.1 1806.9,1550.9 1807.3,1548.3 1807.6,1548.6 1808.0,1553.5 1808.4,1553.3 1808.7,1548.4 1809.1,1553.6 1809.4,1552.9 1809.8,1550.6 1810.2,1553.4 1810.5,1549.0 1810.9,1549.8 1811.2,1549.4 1811.6,1550.0 1812.0,1553.7 1812.3,1549.6 1812.7,1549.9 1813.0,1550.3 1813.4,1552.5 1813.8,1551.5 1814.1,1553.7 1814.5,1550.8 1814.8,1549.7 1815.2,1551.2 1815.6,1552.2 1815.9,1550.4 1816.3,1552.7 1816.6,1555.6 1817.0,1551.1 1817.4,1552.3 1817.7,1554.7 1818.1,1551.0 1818.4,1550.6 1818.8,1550.2 1819.2,1553.0 1819.5,1553.2 1819.9,1552.0 1820.2,1552.3 1820.6,1554.6 1821.0,1553.9 1821.3,1549.6 1821.7,1552.3 1822.0,1552.5 1822.4,1553.6 1822.8,1551.9 1823.1,1551.1 1823.5,1551.4 1823.8,1549.0 1824.2,1552.3 1824.6,1551.2 1824.9,1553.2 1825.3,1550.4 1825.6,1551.5 1826.0,1550.5 1826.4,1550.4 1826.7,1553.7 1827.1,1551.5 1827.4,1553.2 1827.8,1550.3 1828.2,1552.6 1828.5,1549.2 1828.9,1551.5 1829.2,1551.5 1829.6,1553.5 1830.0,1552.8 1830.3,1552.1 1830.7,1554.0 1831.0,1552.8 1831.4,1553.5 1831.8,1553.9 1832.1,1552.4 1832.5,1551.9 1832.8,1553.1 1833.2,1551.7 1833.6,1553.2 1833.9,1554.6 1834.3,1554.1 1834.6,1551.8 1835.0,1550.1 1835.4,1552.4 1835.7,1552.3 1836.1,1554.6 1836.4,1551.9 1836.8,1552.2 1837.2,1554.0 1837.5,1551.7 1837.9,1552.3 1838.2,1555.8 1838.6,1555.4 1839.0,1553.8 1839.3,1553.1 1839.7,1550.8 1840.0,1553.7 1840.4,1552.8 1840.8,1553.1 1841.1,1551.7 1841.5,1552.7 1841.8,1552.4 1842.2,1553.3 1842.6,1555.4 1842.9,1553.4 1843.3,1549.6 1843.6,1550.9 1844.0,1549.8 1844.4,1551.3 1844.7,1553.8 1845.1,1553.5 1845.4,1551.7 1845.8,1553.3 1846.2,1551.4 1846.5,1550.2 1846.9,1550.2 1847.2,1551.2 1847.6,1555.5 1848.0,1550.3 1848.3,1555.2 1848.7,1555.3 1849.0,1552.5 1849.4,1552.8 1849.8,1551.7 1850.1,1552.8 1850.5,1554.1 1850.8,1552.9 1851.2,1554.8 1851.6,1555.1 1851.9,1553.6 1852.3,1553.5 1852.6,1552.8 1853.0,1553.6 1853.4,1550.9 1853.7,1553.7 1854.1,1553.4 1854.4,1551.4 1854.8,1557.0 1855.2,1551.2 1855.5,1551.4 1855.9,1553.5 1856.2,1549.4 1856.6,1551.6 1857.0,1550.2 1857.3,1551.3 1857.7,1552.8 1858.0,1553.7 1858.4,1555.1 1858.8,1554.6 1859.1,1555.3 1859.5,1554.2 1859.8,1552.2 1860.2,1555.2 1860.6,1552.2 1860.9,1552.0 1861.3,1556.0 1861.6,1554.6 1862.0,1553.6 1862.4,1554.6 1862.7,1554.8 1863.1,1550.6 1863.4,1553.0 1863.8,1551.0 1864.2,1553.4 1864.5,1552.0 1864.9,1555.8 1865.2,1554.2 1865.6,1551.7 1866.0,1553.2 1866.3,1551.0 1866.7,1553.3 1867.0,1554.3 1867.4,1553.8 1867.8,1549.7 1868.1,1552.7 1868.5,1554.3 1868.8,1553.9 1869.2,1555.5 1869.6,1550.9 1869.9,1554.3 1870.3,1552.1 1870.6,1553.7 1871.0,1554.1 1871.4,1554.7 1871.7,1552.3 1872.1,1553.7 1872.4,1551.2 1872.8,1550.8 1873.2,1554.4 1873.5,1553.3 1873.9,1550.4 1874.2,1551.8 1874.6,1553.4 1875.0,1556.3 1875.3,1555.3 1875.7,1554.9 1876.0,1550.1 1876.4,1553.2 1876.8,1554.3 1877.1,1554.1 1877.5,1554.2 1877.8,1553.0 1878.2,1556.7 1878.6,1556.1 1878.9,1553.2 1879.3,1551.6 1879.6,1557.2 1880.0,1552.4 1880.4,1555.6 1880.7,1557.0 1881.1,1551.6 1881.4,1553.9 1881.8,1552.7 1882.2,1554.4 1882.5,1554.0 1882.9,1557.0 1883.2,1554.5 1883.6,1553.4 1884.0,1555.5 1884.3,1552.9 1884.7,1552.7 1885.0,1557.6 1885.4,1551.9 1885.8,1552.5 1886.1,1553.5 1886.5,1551.4 1886.8,1549.5 1887.2,1555.4 1887.6,1551.9 1887.9,1552.4 1888.3,1552.7 1888.6,1551.6 1889.0,1551.4 1889.4,1553.7 1889.7,1557.9 1890.1,1554.8 1890.4,1554.8 1890.8,1550.6 1891.2,1553.3 1891.5,1551.2 1891.9,1554.8 1892.2,1553.0 1892.6,1553.5 1893.0,1553.2 1893.3,1552.3 1893.7,1550.6 1894.0,1554.5 1894.4,1550.8 1894.8,1551.2 1895.1,1552.8 1895.5,1552.1 1895.8,1553.9 1896.2,1555.3 1896.6,1553.9 1896.9,1553.8 1897.3,1553.4 1897.6,1555.0 1898.0,1549.9 1898.4,1554.1 1898.7,1551.7 1899.1,1551.1 1899.4,1553.4 1899.8,1552.7 1900.2,1554.5 1900.5,1555.4 1900.9,1549.1 1901.2,1553.3 1901.6,1557.0 1902.0,1555.0 1902.3,1556.1 1902.7,1553.6 1903.0,1550.7 1903.4,1551.3 1903.8,1554.7 1904.1,1555.2 1904.5,1552.0 1904.8,1552.9 1905.2,1553.9 1905.6,1550.1 1905.9,1552.7 1906.3,1556.4 1906.6,1557.5 1907.0,1553.2 1907.4,1556.8 1907.7,1552.4 1908.1,1551.9 1908.4,1549.2 1908.8,1555.2 1909.2,1552.7 1909.5,1557.8 1909.9,1554.0 1910.2,1553.7 1910.6,1550.0 1911.0,1556.2 1911.3,1552.7 1911.7,1553.1 1912.0,1549.3 1912.4,1555.1 1912.8,1555.2 1913.1,1552.3 1913.5,1553.6 1913.8,1554.1 1914.2,1555.2 1914.6,1553.6 1914.9,1556.6 1915.3,1552.9 1915.6,1552.3 1916.0,1552.5 1916.4,1548.7 1916.7,1551.9 1917.1,1555.3 1917.4,1553.9 1917.8,1551.9 1918.2,1554.0 1918.5,1549.6 1918.9,1552.9 1919.2,1554.4 1919.6,1554.7 1920.0,1552.0 1920.3,1555.1 1920.7,1556.9 1921.0,1552.6 1921.4,1554.8 1921.8,1550.5 1922.1,1549.7 1922.5,1554.5 1922.8,1553.5 1923.2,1553.8 1923.6,1552.3 1923.9,1552.9 1924.3,1554.9 1924.6,1556.6 1925.0,1553.0 1925.4,1550.3 1925.7,1555.8 1926.1,1554.5 1926.4,1554.7 1926.8,1553.7 1927.2,1557.7 1927.5,1553.5 1927.9,1554.4 1928.2,1549.9 1928.6,1552.3 1929.0,1552.1 1929.3,1553.3 1929.7,1554.1 1930.0,1552.0 1930.4,1556.6 1930.8,1551.4 1931.1,1552.6 1931.5,1553.8 1931.8,1551.1 1932.2,1554.5 1932.6,1554.6 1932.9,1552.9 1933.3,1557.0 1933.6,1553.6 1934.0,1553.9 1934.4,1551.6 1934.7,1550.3 1935.1,1552.2 1935.4,1552.8 1935.8,1552.6 1936.2,1554.8 1936.5,1549.0 1936.9,1551.3 1937.2,1550.0 1937.6,1555.9 1938.0,1552.4 1938.3,1552.4 1938.7,1551.3 1939.0,1555.1 1939.4,1552.6 1939.8,1553.8 1940.1,1549.6 1940.5,1555.6 1940.8,1554.2 1941.2,1554.5 1941.6,1555.8 1941.9,1553.2 1942.3,1553.2 1942.6,1554.9 1943.0,1554.4 1943.4,1553.1 1943.7,1553.7 1944.1,1552.7 1944.4,1555.0 1944.8,1555.4 1945.2,1553.7 1945.5,1557.2 1945.9,1550.9 1946.2,1553.3 1946.6,1557.0 1947.0,1553.0 1947.3,1550.8 1947.7,1556.4 1948.0,1554.9 1948.4,1551.6 1948.8,1555.3 1949.1,1552.0 1949.5,1551.4 1949.8,1553.6 1950.2,1553.0 1950.6,1551.9 1950.9,1553.3 1951.3,1552.1 1951.6,1554.1 1952.0,1554.0 1952.4,1555.4 1952.7,1553.2 1953.1,1551.6 1953.4,1551.6 1953.8,1553.7 1954.2,1557.0 1954.5,1555.7 1954.9,1553.0 1955.2,1556.0 1955.6,1552.1 1956.0,1556.1 1956.3,1553.5 1956.7,1555.7 1957.0,1555.5 1957.4,1553.8 1957.8,1554.9 1958.1,1552.4 1958.5,1554.2 1958.8,1556.4 1959.2,1562.0 1959.6,1555.7 1959.9,1554.6 1960.3,1552.6 1960.6,1556.4 1961.0,1551.4 1961.4,1553.0 1961.7,1555.2 1962.1,1552.3 1962.4,1557.4 1962.8,1556.6 1963.2,1553.5 1963.5,1553.6 1963.9,1552.2 1964.2,1552.0 1964.6,1555.5 1965.0,1555.9 1965.3,1555.4 1965.7,1555.2 1966.0,1553.7 1966.4,1555.4 1966.8,1552.0 1967.1,1554.8 1967.5,1557.6 1967.8,1557.3 1968.2,1554.0 1968.6,1554.2 1968.9,1557.5 1969.3,1558.2 1969.6,1552.1 1970.0,1554.1 1970.4,1555.4 1970.7,1557.2 1971.1,1553.4 1971.4,1556.2 1971.8,1554.5 1972.2,1559.5 1972.5,1555.9 1972.9,1554.8 1973.2,1554.5 1973.6,1557.1 1974.0,1556.4 1974.3,1553.1 1974.7,1555.6 1975.0,1552.7 1975.4,1553.8 1975.8,1552.8 1976.1,1552.7 1976.5,1553.9 1976.8,1553.4 1977.2,1556.2 1977.6,1556.7 1977.9,1554.8 1978.3,1553.2 1978.6,1556.8 1979.0,1551.5 1979.4,1551.7 1979.7,1556.6 1980.1,1556.5 1980.4,1557.1 1980.8,1554.9 1981.2,1553.0 1981.5,1554.4 1981.9,1556.4 1982.2,1553.9 1982.6,1554.1 1983.0,1552.8 1983.3,1553.2 1983.7,1557.0 1984.0,1556.2 1984.4,1553.2 1984.8,1553.4 1985.1,1554.4 1985.5,1556.5 1985.8,1553.3 1986.2,1555.1 1986.6,1551.5 1986.9,1553.1 1987.3,1556.3 1987.6,1557.2 1988.0,1553.4 1988.4,1554.1 1988.7,1557.0 1989.1,1554.8 1989.4,1554.5 1989.8,1556.5 1990.2,1555.9 1990.5,1557.6 1990.9,1557.1 1991.2,1554.5 1991.6,1555.4 1992.0,1555.5 1992.3,1553.1 1992.7,1553.8 1993.0,1557.4 1993.4,1552.7 1993.8,1557.5 1994.1,1556.2 1994.5,1555.4 1994.8,1556.7 1995.2,1556.6 1995.6,1558.0 1995.9,1555.0 1996.3,1555.3 1996.6,1555.3 1997.0,1559.2 1997.4,1557.5 1997.7,1554.1 1998.1,1555.2 1998.4,1554.5 1998.8,1555.8 1999.2,1556.2 1999.5,1560.1 1999.9,1552.4 2000.2,1557.7 2000.6,1556.7 2001.0,1554.6 2001.3,1555.6 2001.7,1555.0 2002.0,1556.0 2002.4,1557.8 2002.8,1553.1 2003.1,1558.4 2003.5,1555.2 2003.8,1558.7 2004.2,1556.7 2004.6,1558.2 2004.9,1557.0 2005.3,1558.0 2005.6,1556.1 2006.0,1554.5 2006.4,1557.3 2006.7,1557.3 2007.1,1559.9 2007.4,1552.3 2007.8,1555.7 2008.2,1558.1 2008.5,1553.8 2008.9,1555.7 2009.2,1560.1 2009.6,1558.8 2010.0,1554.5 2010.3,1558.8 2010.7,1558.4 2011.0,1557.7 2011.4,1557.0 2011.8,1556.7 2012.1,1554.7 2012.5,1555.4 2012.8,1557.7 2013.2,1556.6 2013.6,1559.8 2013.9,1555.8 2014.3,1552.0 2014.6,1555.8 2015.0,1557.0 2015.4,1557.2 2015.7,1556.6 2016.1,1555.0 2016.4,1559.3 2016.8,1555.3 2017.2,1557.9 2017.5,1556.0 2017.9,1554.4 2018.2,1559.2 2018.6,1552.0 2019.0,1555.1 2019.3,1557.5 2019.7,1556.0 2020.0,1558.1 2020.4,1556.5 2020.8,1555.9 2021.1,1560.7 2021.5,1556.4 2021.8,1556.5 2022.2,1554.8 2022.6,1555.5 2022.9,1558.0 2023.3,1557.9 2023.6,1556.9 2024.0,1555.6 2024.4,1558.2 2024.7,1553.8 2025.1,1556.3 2025.4,1556.5 2025.8,1555.4 2026.2,1557.3 2026.5,1555.8 2026.9,1555.6 2027.2,1560.4 2027.6,1558.5 2028.0,1559.3 2028.3,1557.2 2028.7,1558.9 2029.0,1558.6 2029.4,1559.4 2029.8,1561.6 2030.1,1556.8 2030.5,1557.7 2030.8,1557.2 2031.2,1550.8 2031.6,1554.7 2031.9,1557.4 2032.3,1558.5 2032.6,1556.3 2033.0,1559.5 2033.4,1559.8 2033.7,1556.7 2034.1,1560.1 2034.4,1560.7 2034.8,1558.3 2035.2,1555.7 2035.5,1560.2 2035.9,1557.2 2036.2,1556.9 2036.6,1557.8 2037.0,1556.6 2037.3,1559.6 2037.7,1559.1 2038.0,1559.9 2038.4,1558.7 2038.8,1556.2 2039.1,1557.4 2039.5,1559.3 2039.8,1557.0 2040.2,1563.1 2040.6,1557.3 2040.9,1556.7 2041.3,1559.9 2041.6,1559.2 2042.0,1557.8 2042.4,1557.4 2042.7,1558.6 2043.1,1559.4 2043.4,1559.3 2043.8,1557.3 2044.2,1558.7 2044.5,1559.5 2044.9,1559.3 2045.2,1552.2 2045.6,1556.3 2046.0,1556.5 2046.3,1557.5 2046.7,1558.3 2047.0,1559.7 2047.4,1559.1 2047.8,1557.8 2048.1,1558.0 2048.5,1561.2 2048.8,1556.9 2049.2,1558.6 2049.6,1560.9 2049.9,1558.7 2050.3,1554.3 2050.6,1558.8 2051.0,1557.4 2051.4,1557.9 2051.7,1560.0 2052.1,1559.0 2052.4,1557.6 2052.8,1559.8 2053.2,1558.9 2053.5,1558.3 2053.9,1558.7 2054.2,1558.6 2054.6,1557.6 2055.0,1557.3 2055.3,1558.2 2055.7,1556.5 2056.0,1555.9 2056.4,1560.6 2056.8,1557.8 2057.1,1558.2 2057.5,1558.0 2057.8,1558.3 2058.2,1558.3 2058.6,1558.4 2058.9,1556.8 2059.3,1560.0 2059.6,1557.1 2060.0,1560.2 2060.4,1554.8 2060.7,1556.4 2061.1,1560.2 2061.4,1558.1 2061.8,1557.2 2062.2,1559.1 2062.5,1556.5 2062.9,1558.6 2063.2,1554.4 2063.6,1557.6 2064.0,1557.2 2064.3,1559.4 2064.7,1560.1 2065.0,1556.9 2065.4,1561.4 2065.8,1557.4 2066.1,1554.7 2066.5,1554.1 2066.8,1561.3 2067.2,1558.4 2067.6,1557.4 2067.9,1557.2 2068.3,1556.6 2068.6,1561.1 2069.0,1558.4 2069.4,1561.9 2069.7,1558.2 2070.1,1554.2 2070.4,1559.9 2070.8,1557.6 2071.2,1557.8 2071.5,1561.0 2071.9,1557.6 2072.2,1560.1 2072.6,1557.8 2073.0,1556.4 2073.3,1558.6 2073.7,1556.5 2074.0,1559.8 2074.4,1559.2 2074.8,1557.4 2075.1,1558.4 2075.5,1558.2 2075.8,1556.5 2076.2,1558.6 2076.6,1556.5 2076.9,1557.9 2077.3,1555.4 2077.6,1556.7 2078.0,1556.8 2078.4,1556.0 2078.7,1556.1 2079.1,1555.9 2079.4,1556.6 2079.8,1555.5 2080.2,1555.6 2080.5,1555.7 2080.9,1554.5 2081.2,1552.7 2081.6,1553.2 2082.0,1553.2 2082.3,1551.5 2082.7,1546.3 2083.0,1539.9 2083.4,1533.7 2083.8,1527.9 2084.1,1523.2 2084.5,1519.0 2084.8,1514.7 2085.2,1510.6 2085.6,1508.6 2085.9,1507.1 2086.3,1506.4 2086.6,1505.9 2087.0,1505.4 2087.4,1507.0 2087.7,1507.9 2088.1,1509.3 2088.4,1511.6 2088.8,1516.3 2089.2,1520.4 2089.5,1526.7 2089.9,1528.2 2090.2,1527.4 2090.6,1530.3 2091.0,1530.3 2091.3,1534.2 2091.7,1531.3 2092.0,1530.6 2092.4,1530.3 2092.8,1529.2 2093.1,1528.6 2093.2,1530.1 2093.5,1530.4 2093.8,1533.2 2094.2,1536.1 2094.6,1535.2 2094.9,1541.6 2095.3,1543.6 2095.6,1547.5 2096.0,1548.5 2096.4,1554.2 2096.7,1554.7 2097.1,1554.0 2097.4,1558.5 2097.8,1556.8 2098.2,1556.4 2098.5,1557.6 2098.9,1559.2 2099.2,1560.2 2099.6,1560.1 2100.0,1561.6 2100.3,1562.1 2100.7,1558.6 2101.0,1559.7 2101.4,1558.9 2101.8,1560.8 2102.1,1563.4 2102.5,1562.0 2102.8,1559.1 2103.2,1560.5 2103.6,1563.0 2103.9,1560.2 2104.3,1561.0 2104.6,1561.7 2105.0,1557.8 2105.4,1562.6 2105.7,1561.8 2106.1,1562.2 2106.4,1559.4 2106.8,1559.7 2107.2,1560.0 2107.5,1561.6 2107.9,1561.3 2108.2,1561.4 2108.6,1564.4 2109.0,1563.5 2109.3,1559.8 2109.7,1559.9 2110.0,1564.3 2110.4,1560.6 2110.8,1563.6 2111.1,1564.0 2111.5,1560.1 2111.8,1560.6 2112.2,1561.3 2112.6,1559.6 2112.9,1559.4 2113.3,1560.4 2113.6,1562.7 2114.0,1560.3 2114.4,1560.8 2114.7,1560.3 2115.1,1558.7 2115.4,1563.8 2115.8,1556.9 2116.2,1559.9 2116.5,1562.2 2116.9,1558.6 2117.2,1562.2 2117.6,1563.4 2118.0,1559.6 2118.3,1561.5 2118.7,1559.1 2119.0,1562.1 2119.4,1561.3 2119.8,1561.5 2120.1,1563.6 2120.5,1562.0 2120.8,1563.6 2121.2,1562.3 2121.6,1559.0 2121.9,1561.7 2122.3,1562.1 2122.6,1558.6 2123.0,1563.7 2123.4,1561.4 2123.7,1562.0 2124.1,1559.7 2124.4,1561.5 2124.8,1561.9 2125.2,1560.8 2125.5,1561.6 2125.9,1557.6 2126.2,1563.9 2126.6,1559.4 2127.0,1557.5 2127.3,1559.8 2127.7,1560.0 2128.0,1562.5 2128.4,1559.9 2128.8,1562.1 2129.1,1559.9 2129.5,1565.6 2129.8,1562.6 2130.2,1565.2 2130.6,1559.8 2130.9,1562.9 2131.3,1560.0 2131.6,1562.8 2132.0,1563.0 2132.4,1558.9 2132.7,1559.7 2133.1,1559.7 2133.4,1559.1 2133.8,1560.5 2134.2,1560.1 2134.5,1559.3 2134.9,1562.1 2135.2,1562.9 2135.6,1559.6 2136.0,1560.9 2136.3,1562.0 2136.7,1561.6 2137.0,1560.7 2137.4,1563.5 2137.8,1563.5 2138.1,1563.2 2138.5,1561.5 2138.8,1565.5 2139.2,1565.0 2139.6,1561.1 2139.9,1561.5 2140.3,1563.9 2140.6,1560.2 2141.0,1562.4 2141.4,1561.7 2141.7,1560.3 2142.1,1561.1 2142.4,1558.6 2142.8,1560.5 2143.2,1557.8 2143.5,1565.5 2143.9,1564.1 2144.2,1563.5 2144.6,1561.8 2145.0,1563.0 2145.3,1563.5 2145.7,1563.0"/>
<polyline fill="none" stroke="#9600FF" stroke-width="5.6" stroke-linejoin="round" stroke-linecap="round" points="284.6,1185.2 285.0,1173.6 285.3,1180.4 285.7,1177.6 286.0,1177.5 286.4,1177.7 286.8,1172.9 287.1,1176.8 287.5,1174.9 287.8,1184.8 288.2,1176.8 288.6,1175.0 288.9,1174.7 289.3,1173.4 289.6,1172.0 290.0,1173.3 290.4,1175.0 290.7,1172.8 291.1,1175.4 291.4,1172.1 291.8,1172.3 292.2,1175.7 292.5,1173.0 292.9,1170.2 293.2,1170.8 293.6,1172.4 294.0,1175.8 294.3,1170.1 294.7,1169.9 295.0,1172.9 295.4,1168.0 295.8,1169.3 296.1,1172.0 296.5,1171.1 296.8,1169.7 297.2,1171.0 297.6,1162.0 297.9,1171.5 298.3,1166.3 298.6,1164.3 299.0,1169.1 299.4,1169.9 299.7,1166.9 300.1,1165.1 300.4,1167.7 300.8,1167.3 301.2,1170.8 301.5,1168.9 301.9,1167.3 302.2,1169.4 302.6,1165.8 303.0,1163.8 303.3,1167.4 303.7,1167.2 304.0,1165.0 304.4,1163.3 304.8,1165.7 305.1,1158.5 305.5,1166.4 305.8,1165.7 306.2,1160.0 306.6,1164.2 306.9,1161.3 307.3,1165.5 307.6,1158.2 308.0,1160.8 308.4,1164.8 308.7,1165.7 309.1,1157.0 309.4,1161.0 309.8,1162.9 310.2,1160.2 310.5,1165.6 310.9,1158.2 311.2,1161.9 311.6,1158.1 312.0,1164.1 312.3,1160.2 312.7,1159.1 313.0,1155.3 313.4,1163.9 313.8,1161.2 314.1,1161.0 314.5,1161.7 314.8,1159.4 315.2,1156.6 315.6,1155.9 315.9,1155.7 316.3,1161.1 316.6,1153.5 317.0,1155.5 317.4,1155.9 317.7,1157.1 318.1,1157.9 318.4,1153.0 318.8,1151.6 319.2,1156.0 319.5,1159.0 319.9,1157.7 320.2,1156.1 320.6,1154.6 321.0,1156.0 321.3,1154.5 321.7,1157.1 322.0,1152.7 322.4,1155.0 322.8,1154.2 323.1,1155.8 323.5,1154.8 323.8,1160.8 324.2,1157.9 324.6,1157.7 324.9,1148.3 325.3,1152.6 325.6,1151.7 326.0,1154.6 326.4,1146.8 326.7,1155.6 327.1,1154.9 327.4,1148.3 327.8,1148.8 328.2,1148.9 328.5,1150.8 328.9,1152.0 329.2,1155.4 329.6,1149.1 330.0,1151.3 330.3,1149.3 330.7,1153.2 331.0,1150.1 331.4,1151.5 331.8,1144.6 332.1,1146.6 332.5,1144.5 332.8,1150.4 333.2,1147.8 333.6,1144.8 333.9,1144.1 334.3,1146.2 334.6,1142.6 335.0,1141.6 335.4,1145.0 335.7,1149.9 336.1,1142.1 336.4,1140.9 336.8,1138.7 337.2,1137.9 337.5,1142.5 337.9,1143.0 338.2,1140.2 338.6,1140.7 339.0,1139.7 339.3,1139.3 339.7,1134.3 340.0,1136.8 340.4,1137.9 340.8,1135.0 341.1,1135.4 341.5,1134.0 341.8,1135.0 342.2,1137.8 342.6,1133.9 342.9,1134.2 343.3,1136.5 343.6,1135.7 344.0,1138.2 344.4,1127.3 344.7,1135.2 345.1,1131.1 345.4,1132.4 345.8,1134.0 346.2,1134.4 346.5,1133.9 346.9,1131.1 347.2,1134.8 347.6,1129.1 348.0,1129.1 348.3,1131.4 348.7,1127.3 349.0,1134.6 349.4,1131.0 349.8,1133.9 350.1,1127.3 350.5,1125.9 350.8,1127.1 351.2,1128.4 351.6,1124.2 351.9,1126.4 352.3,1124.7 352.6,1128.8 353.0,1121.8 353.4,1126.1 353.7,1120.8 354.1,1119.3 354.4,1119.5 354.8,1117.6 355.2,1120.9 355.5,1122.9 355.9,1119.8 356.2,1120.6 356.6,1123.0 357.0,1118.5 357.3,1117.7 357.7,1115.8 358.0,1111.4 358.4,1117.3 358.8,1108.9 359.1,1114.9 359.5,1111.8 359.8,1114.1 360.2,1109.5 360.6,1106.2 360.9,1108.7 361.3,1104.9 361.6,1104.9 362.0,1104.5 362.4,1102.9 362.7,1101.7 363.1,1098.7 363.4,1099.6 363.8,1092.7 364.2,1097.7 364.5,1093.6 364.9,1099.7 365.2,1099.2 365.6,1088.4 366.0,1093.8 366.3,1092.0 366.7,1088.2 367.0,1092.1 367.4,1088.0 367.8,1083.0 368.1,1086.7 368.5,1085.8 368.8,1085.3 369.2,1079.8 369.6,1084.3 369.9,1083.4 370.3,1076.2 370.6,1076.4 371.0,1076.9 371.4,1074.1 371.7,1080.0 372.1,1073.8 372.4,1068.5 372.8,1067.7 373.2,1068.6 373.5,1074.8 373.9,1065.4 374.2,1065.0 374.6,1064.8 375.0,1061.6 375.3,1067.7 375.7,1057.1 376.0,1059.9 376.4,1056.5 376.8,1056.5 377.1,1049.0 377.5,1057.2 377.8,1049.4 378.2,1048.3 378.6,1043.5 378.9,1042.7 379.3,1045.5 379.6,1045.4 380.0,1043.0 380.4,1043.1 380.7,1039.8 381.1,1035.9 381.4,1037.1 381.8,1034.7 382.2,1030.8 382.5,1032.0 382.9,1032.4 383.2,1027.3 383.6,1023.7 384.0,1025.8 384.3,1028.3 384.7,1019.6 385.0,1018.4 385.4,1016.7 385.8,1019.9 386.1,1007.7 386.5,1013.8 386.8,1014.8 387.2,1005.7 387.6,1011.8 387.9,1006.3 388.3,1000.4 388.6,1001.0 389.0,992.7 389.4,994.1 389.7,1000.7 390.1,988.8 390.4,996.7 390.8,987.6 391.2,989.5 391.5,983.9 391.9,973.5 392.2,977.8 392.6,978.7 393.0,971.8 393.3,969.1 393.7,973.7 394.0,967.9 394.4,962.0 394.8,964.0 395.1,968.0 395.5,960.9 395.8,964.5 396.2,964.9 396.6,957.2 396.9,950.6 397.3,947.9 397.6,950.9 398.0,952.5 398.4,948.0 398.7,947.1 399.1,941.1 399.4,942.1 399.8,937.0 400.2,935.5 400.5,929.6 400.9,926.4 401.2,928.8 401.6,924.2 402.0,923.0 402.3,928.1 402.7,923.3 403.0,934.2 403.4,924.4 403.8,916.3 404.1,920.6 404.5,917.3 404.8,911.3 405.2,917.3 405.6,907.8 405.9,896.5 406.3,911.3 406.6,903.7 407.0,911.6 407.4,901.5 407.7,898.3 408.1,909.6 408.4,897.2 408.8,902.0 409.2,906.7 409.5,900.0 409.9,898.4 410.2,898.4 410.6,900.8 411.0,892.7 411.3,898.2 411.7,897.3 412.0,904.5 412.4,891.5 412.8,888.1 413.1,894.8 413.5,888.9 413.8,891.5 414.2,890.5 414.6,894.9 414.9,886.3 415.3,888.6 415.6,877.0 416.0,884.3 416.4,895.1 416.7,884.6 417.1,884.3 417.4,881.6 417.8,889.5 418.2,887.4 418.5,880.8 418.9,889.4 419.2,887.7 419.6,890.1 420.0,883.8 420.3,894.9 420.7,889.0 421.0,886.7 421.4,885.0 421.8,886.4 422.1,891.7 422.5,886.6 422.8,893.0 423.2,890.8 423.6,894.5 423.9,892.2 424.3,888.3 424.6,880.0 425.0,890.3 425.4,892.7 425.7,890.0 426.1,892.0 426.4,887.4 426.8,888.0 427.2,885.5 427.5,896.3 427.9,890.9 428.2,888.1 428.6,884.4 429.0,889.9 429.3,897.4 429.7,893.1 430.0,887.8 430.4,897.8 430.8,898.0 431.1,896.2 431.5,895.5 431.8,897.4 432.2,894.8 432.6,896.1 432.9,889.2 433.3,899.8 433.6,894.2 434.0,902.6 434.4,884.3 434.7,897.0 435.1,898.5 435.4,892.7 435.8,896.5 436.2,898.1 436.5,897.5 436.9,892.6 437.2,894.7 437.6,900.2 438.0,901.5 438.3,896.4 438.7,896.5 439.0,897.2 439.4,900.9 439.8,891.3 440.1,890.0 440.5,896.5 440.8,890.8 441.2,893.1 441.6,896.0 441.9,897.7 442.3,890.6 442.6,899.0 443.0,887.2 443.4,897.7 443.7,887.9 444.1,889.2 444.4,897.8 444.8,893.0 445.2,891.1 445.5,892.6 445.9,896.7 446.2,894.2 446.6,894.3 447.0,899.1 447.3,891.0 447.7,892.0 448.0,891.7 448.4,899.3 448.8,898.4 449.0,899.7 449.1,893.8 449.5,893.7 449.8,898.7 450.2,893.5 450.6,899.5 450.9,899.5 451.3,893.5 451.6,896.7 452.0,897.0 452.4,905.8 452.7,910.1 453.1,898.4 453.4,899.3 453.8,889.4 454.2,901.1 454.5,900.6 454.9,896.2 455.2,905.0 455.6,894.9 456.0,901.6 456.3,904.0 456.7,898.6 457.0,908.8 457.4,910.5 457.8,900.4 458.1,901.1 458.5,910.9 458.8,908.9 459.2,904.5 459.6,909.3 459.9,910.9 460.3,911.6 460.6,916.7 461.0,915.5 461.4,922.4 461.7,921.4 462.1,919.2 462.4,921.7 462.8,923.8 463.2,922.3 463.5,915.1 463.9,925.3 464.2,923.1 464.6,930.9 465.0,925.5 465.3,928.6 465.7,928.9 466.0,935.9 466.4,930.6 466.8,929.9 467.1,933.6 467.5,931.6 467.8,935.3 468.2,935.8 468.6,938.1 468.9,946.2 469.3,937.6 469.6,940.8 470.0,941.1 470.4,946.0 470.7,939.7 471.1,943.1 471.4,947.0 471.8,950.7 472.2,949.6 472.5,949.1 472.9,949.0 473.2,955.8 473.6,960.9 474.0,957.7 474.3,958.5 474.7,961.1 475.0,957.2 475.4,961.4 475.8,963.2 476.1,967.1 476.5,967.5 476.8,964.5 477.2,975.3 477.6,979.2 477.9,973.3 478.3,977.5 478.6,978.6 479.0,982.3 479.4,975.3 479.7,988.7 480.1,982.4 480.4,990.5 480.8,987.6 481.2,987.4 481.5,990.0 481.9,995.4 482.2,990.4 482.6,993.8 483.0,995.0 483.3,992.1 483.7,1004.8 484.0,1003.7 484.4,1003.1 484.8,1008.6 485.1,1001.9 485.5,1006.3 485.8,1013.9 486.2,1012.2 486.6,1001.7 486.9,998.7 487.3,1008.1 487.6,1016.8 488.0,1012.3 488.4,1014.3 488.7,1018.4 489.1,1014.1 489.4,1019.1 489.8,1022.1 490.2,1021.6 490.5,1022.1 490.9,1019.2 491.2,1023.9 491.6,1021.2 492.0,1028.2 492.3,1033.4 492.7,1022.3 493.0,1017.9 493.4,1024.8 493.8,1028.4 494.1,1031.5 494.5,1032.3 494.8,1026.4 495.2,1027.1 495.6,1035.1 495.9,1027.5 496.3,1035.9 496.6,1031.9 497.0,1036.0 497.4,1036.4 497.7,1037.2 498.1,1037.9 498.4,1032.2 498.8,1037.3 499.2,1036.9 499.5,1038.5 499.9,1042.3 500.2,1037.7 500.6,1036.7 501.0,1037.3 501.3,1039.3 501.7,1043.6 502.0,1038.7 502.4,1046.2 502.8,1043.7 503.1,1042.5 503.5,1038.9 503.8,1044.6 504.2,1046.4 504.6,1038.1 504.9,1048.5 505.3,1050.3 505.6,1046.0 506.0,1046.8 506.4,1053.6 506.7,1049.8 507.1,1042.7 507.4,1045.9 507.8,1045.7 508.2,1045.9 508.5,1038.6 508.9,1049.5 509.2,1044.9 509.6,1047.9 510.0,1047.0 510.3,1050.2 510.7,1046.0 511.0,1044.1 511.4,1048.4 511.8,1051.2 512.1,1045.1 512.5,1050.6 512.8,1046.6 513.2,1043.7 513.6,1050.5 513.9,1042.2 514.3,1048.3 514.6,1042.9 515.0,1046.0 515.4,1039.9 515.7,1041.1 516.1,1047.4 516.4,1044.2 516.8,1043.4 517.2,1041.6 517.5,1044.4 517.9,1037.8 518.2,1038.6 518.6,1041.6 519.0,1039.0 519.3,1039.2 519.7,1041.1 520.0,1040.6 520.4,1040.0 520.8,1046.2 521.1,1043.7 521.5,1044.2 521.8,1039.5 522.2,1037.6 522.6,1034.0 522.9,1037.5 523.3,1031.2 523.6,1036.2 524.0,1040.6 524.4,1043.3 524.7,1040.7 525.1,1034.0 525.4,1038.5 525.8,1033.7 526.2,1039.1 526.5,1035.5 526.9,1038.6 527.2,1044.1 527.6,1037.7 528.0,1042.1 528.3,1034.0 528.7,1031.7 529.0,1037.0 529.4,1037.8 529.8,1029.2 530.1,1030.9 530.5,1025.0 530.8,1028.8 531.2,1032.1 531.6,1028.1 531.9,1025.9 532.3,1022.4 532.6,1028.1 533.0,1029.1 533.4,1027.8 533.7,1025.7 534.1,1019.1 534.4,1028.7 534.8,1021.0 535.2,1019.5 535.5,1021.4 535.9,1009.8 536.2,1016.2 536.6,1014.7 537.0,1015.4 537.3,1017.7 537.7,1013.4 538.0,1003.8 538.4,1008.0 538.8,1008.7 539.1,1007.0 539.5,1000.4 539.8,997.6 540.2,1004.1 540.6,1001.9 540.9,999.1 541.3,991.5 541.6,1002.8 542.0,984.2 542.4,992.1 542.7,999.7 543.1,989.9 543.4,989.9 543.8,983.0 544.2,990.5 544.5,978.7 544.9,982.6 545.2,980.2 545.6,973.8 546.0,979.3 546.3,968.6 546.7,969.5 547.0,970.1 547.4,966.7 547.8,968.2 548.1,968.1 548.5,961.4 548.8,958.6 549.2,956.9 549.6,955.7 549.9,958.5 550.3,952.7 550.6,953.3 551.0,949.6 551.4,944.8 551.7,949.8 552.1,940.5 552.4,942.8 552.8,946.9 553.2,934.8 553.5,937.2 553.9,929.2 554.2,931.3 554.6,925.2 555.0,927.6 555.3,924.8 555.7,925.3 556.0,929.1 556.4,921.7 556.8,921.1 557.1,916.0 557.5,913.0 557.8,908.4 558.2,902.2 558.6,907.9 558.9,912.4 559.3,906.1 559.6,900.4 560.0,908.2 560.4,897.9 560.7,895.7 561.1,891.7 561.4,891.4 561.8,893.6 562.2,902.4 562.5,892.0 562.9,887.6 563.2,888.6 563.6,889.3 564.0,881.8 564.3,889.2 564.7,890.9 565.0,888.3 565.4,888.7 565.8,879.4 566.1,876.9 566.5,890.0 566.8,888.5 567.2,875.7 567.6,883.2 567.9,881.8 568.3,883.6 568.6,881.4 569.0,877.5 569.4,880.1 569.7,879.4 570.1,877.8 570.4,868.8 570.8,862.8 571.2,872.5 571.5,868.0 571.9,876.1 572.2,877.6 572.6,874.9 573.0,871.5 573.3,872.8 573.7,877.2 574.0,868.1 574.4,874.4 574.8,872.9 575.1,870.5 575.5,874.6 575.8,865.3 576.2,871.4 576.6,863.2 576.9,862.1 577.3,858.9 577.6,863.1 578.0,856.5 578.4,857.5 578.7,852.3 579.1,856.4 579.4,855.8 579.8,848.5 580.2,849.6 580.5,843.7 580.9,845.5 581.2,837.6 581.6,830.7 582.0,837.2 582.3,830.5 582.7,825.8 583.0,823.2 583.4,816.8 583.8,816.1 584.1,809.8 584.5,812.7 584.8,809.1 585.2,802.2 585.6,800.5 585.9,800.6 586.3,795.7 586.6,797.7 587.0,793.9 587.4,788.1 587.7,784.3 588.1,782.3 588.4,780.0 588.8,774.6 589.2,766.1 589.5,762.1 589.9,754.0 590.2,750.6 590.6,743.1 591.0,740.2 591.3,732.1 591.7,727.1 592.0,723.7 592.4,719.9 592.8,712.5 593.1,709.2 593.5,705.6 593.8,701.0 594.2,693.0 594.6,688.0 594.9,681.1 595.3,677.2 595.6,669.5 596.0,660.2 596.4,652.1 596.7,647.4 597.1,641.5 597.4,633.3 597.8,628.0 598.2,620.4 598.5,613.3 598.9,609.6 599.2,602.8 599.6,598.8 600.0,592.9 600.3,591.1 600.7,586.9 601.0,579.8 601.4,570.0 601.8,561.4 602.1,552.8 602.5,546.9 602.8,542.1 603.2,537.6 603.6,533.6 603.9,530.4 604.3,527.6 604.6,522.6 605.0,519.3 605.4,509.7 605.7,499.8 606.1,489.2 606.4,479.4 606.8,474.2 607.2,470.2 607.5,465.6 607.9,462.1 608.2,457.4 608.6,453.8 609.0,438.9 609.3,422.3 609.7,409.6 610.0,403.4 610.4,398.2 610.8,391.6 611.1,386.1 611.5,379.0 611.8,373.6 612.2,366.4 612.6,359.3 612.9,355.5 613.3,351.7 613.6,346.8 614.0,343.2 614.4,339.9 614.7,337.1 615.1,335.5 615.4,333.6 615.8,336.0 616.2,330.2 616.5,326.7 616.9,331.6 617.2,330.2 617.6,336.1 618.0,332.0 618.3,329.9 618.7,330.0 619.0,334.3 619.4,331.9 619.8,333.0 620.1,334.6 620.5,335.6 620.8,336.0 621.2,339.9 621.6,347.4 621.9,354.6 622.3,359.0 622.6,363.7 623.0,365.3 623.4,368.6 623.7,370.5 624.1,373.7 624.4,376.6 624.8,380.6 625.2,385.0 625.5,388.9 625.9,392.3 626.2,407.6 626.6,423.5 627.0,433.3 627.3,435.5 627.7,438.2 628.0,440.9 628.4,443.2 628.8,459.3 629.1,475.6 629.5,487.9 629.8,501.2 630.2,514.0 630.6,522.6 630.9,528.5 631.3,533.6 631.6,539.6 632.0,544.9 632.4,551.9 632.7,558.7 633.1,565.2 633.4,573.1 633.8,580.0 634.2,585.5 634.5,589.0 634.9,591.9 635.2,595.3 635.6,599.5 636.0,608.8 636.3,620.4 636.7,633.2 637.0,638.4 637.4,644.9 637.8,651.8 638.1,661.3 638.5,670.2 638.8,678.4 639.2,687.3 639.6,694.0 639.9,702.8 640.3,710.8 640.6,717.7 641.0,724.5 641.4,729.6 641.7,740.3 642.1,743.0 642.4,750.7 642.8,757.7 643.2,763.7 643.5,768.5 643.9,770.9 644.2,777.9 644.6,785.1 645.0,790.9 645.3,799.1 645.7,806.1 646.0,815.9 646.4,820.6 646.8,824.6 647.1,830.7 647.5,836.1 647.8,840.6 648.2,846.7 648.6,852.5 648.9,858.2 649.3,864.0 649.6,867.5 650.0,871.8 650.4,877.2 650.7,880.8 651.1,883.3 651.4,890.6 651.8,890.9 652.2,894.9 652.5,899.0 652.9,898.8 653.2,905.1 653.6,908.3 654.0,911.1 654.3,915.9 654.7,917.2 655.0,917.8 655.4,925.9 655.8,928.1 656.1,935.8 656.5,937.0 656.8,937.7 657.2,942.2 657.6,948.8 657.9,951.1 658.3,951.9 658.6,954.8 659.0,955.4 659.4,958.3 659.7,962.8 660.1,963.4 660.4,967.0 660.8,965.4 661.2,965.8 661.5,967.8 661.9,973.6 662.2,981.0 662.6,982.0 663.0,976.4 663.3,976.1 663.7,985.6 664.0,986.0 664.4,981.2 664.8,991.2 665.1,989.7 665.5,995.3 665.8,993.7 666.2,997.5 666.6,997.4 666.9,994.5 667.3,999.0 667.6,999.1 668.0,1006.4 668.4,1001.6 668.7,1001.5 669.1,1011.2 669.4,1014.3 669.8,1016.8 670.2,1016.9 670.5,1009.1 670.9,1013.4 671.2,1015.4 671.6,1018.7 672.0,1012.6 672.3,1021.6 672.7,1023.8 673.0,1020.6 673.4,1025.4 673.8,1030.2 674.1,1027.3 674.5,1032.0 674.8,1032.9 675.2,1031.9 675.6,1032.9 675.9,1031.3 676.3,1038.1 676.6,1033.2 677.0,1033.5 677.4,1039.5 677.7,1035.3 678.1,1040.1 678.4,1043.1 678.8,1040.5 679.2,1041.4 679.5,1045.0 679.9,1045.3 680.2,1038.2 680.6,1039.8 681.0,1049.7 681.3,1047.2 681.7,1039.6 682.0,1042.9 682.4,1048.4 682.8,1045.8 683.1,1051.5 683.5,1051.0 683.8,1053.2 684.2,1048.4 684.6,1055.2 684.9,1060.4 685.3,1051.9 685.6,1059.7 686.0,1059.3 686.4,1058.9 686.7,1057.2 687.1,1054.3 687.4,1056.0 687.8,1062.2 688.2,1063.6 688.5,1065.1 688.9,1065.0 689.2,1065.5 689.6,1061.8 690.0,1060.0 690.3,1065.4 690.7,1067.1 691.0,1066.4 691.4,1061.7 691.8,1065.6 692.1,1063.0 692.5,1068.9 692.8,1065.6 693.2,1069.1 693.6,1071.2 693.9,1071.2 694.3,1075.8 694.6,1068.4 695.0,1065.5 695.4,1076.1 695.7,1078.2 696.1,1078.9 696.4,1075.8 696.8,1077.2 697.2,1076.4 697.5,1072.5 697.9,1075.3 698.2,1079.1 698.6,1076.1 699.0,1084.4 699.3,1073.8 699.7,1077.7 700.0,1083.0 700.4,1078.0 700.8,1076.7 701.1,1076.4 701.5,1078.8 701.8,1086.3 702.2,1083.2 702.6,1084.0 702.9,1081.1 703.3,1085.8 703.6,1083.9 704.0,1081.0 704.4,1082.9 704.7,1085.3 705.1,1088.6 705.4,1085.0 705.8,1087.1 706.2,1092.1 706.5,1083.5 706.9,1082.4 707.2,1089.7 707.6,1088.2 708.0,1086.8 708.3,1088.2 708.7,1086.7 709.0,1089.6 709.4,1087.2 709.8,1091.0 710.1,1085.1 710.5,1086.5 710.8,1089.7 711.2,1088.1 711.6,1092.2 711.9,1090.3 712.3,1089.1 712.6,1091.8 713.0,1089.9 713.4,1087.2 713.7,1088.9 714.1,1090.3 714.4,1091.7 714.8,1093.9 715.2,1096.8 715.5,1096.0 715.9,1100.2 716.2,1099.1 716.6,1095.0 717.0,1101.0 717.3,1099.9 717.7,1095.3 718.0,1098.1 718.4,1100.9 718.8,1098.6 719.1,1101.4 719.5,1099.9 719.8,1101.2 720.2,1098.3 720.6,1100.7 720.9,1098.7 721.3,1102.2 721.6,1095.3 722.0,1101.7 722.4,1104.7 722.7,1102.9 723.1,1101.4 723.4,1103.4 723.8,1099.5 724.2,1099.8 724.5,1101.5 724.9,1102.4 725.2,1106.0 725.6,1100.7 726.0,1106.6 726.3,1099.2 726.7,1101.4 727.0,1103.4 727.4,1106.8 727.8,1101.3 728.1,1096.4 728.5,1103.9 728.8,1102.3 729.2,1098.9 729.6,1098.8 729.9,1099.7 730.3,1101.8 730.6,1103.3 731.0,1096.6 731.4,1107.8 731.7,1100.5 732.1,1099.3 732.4,1102.2 732.8,1100.3 733.2,1106.8 733.5,1103.1 733.9,1098.7 734.2,1098.7 734.6,1098.5 735.0,1099.0 735.3,1102.1 735.7,1098.2 736.0,1105.1 736.4,1100.0 736.8,1099.9 737.1,1103.3 737.5,1094.5 737.8,1097.7 738.2,1102.4 738.6,1100.7 738.9,1100.7 739.3,1102.0 739.6,1099.0 740.0,1100.4 740.4,1096.8 740.7,1095.3 741.1,1104.9 741.4,1098.3 741.8,1099.0 742.2,1105.5 742.5,1104.5 742.9,1099.8 743.2,1099.8 743.6,1101.0 744.0,1098.1 744.3,1102.5 744.7,1101.0 745.0,1100.8 745.4,1102.4 745.8,1102.1 746.1,1105.3 746.5,1104.1 746.8,1094.1 747.2,1101.8 747.6,1095.5 747.9,1094.3 748.3,1100.6 748.6,1096.1 749.0,1097.0 749.4,1101.0 749.7,1095.5 750.1,1094.6 750.4,1098.1 750.8,1100.7 751.2,1098.3 751.5,1091.7 751.9,1094.2 752.2,1095.4 752.6,1101.3 753.0,1097.7 753.3,1097.2 753.7,1097.9 754.0,1092.8 754.4,1094.8 754.8,1094.5 755.1,1089.5 755.5,1092.1 755.8,1093.5 756.2,1088.0 756.6,1093.4 756.9,1092.9 757.3,1093.3 757.6,1087.3 758.0,1089.6 758.4,1093.4 758.7,1091.3 759.1,1086.6 759.4,1089.9 759.8,1093.8 760.2,1089.3 760.5,1090.9 760.9,1097.9 761.2,1090.0 761.6,1089.9 762.0,1087.3 762.3,1088.6 762.7,1095.4 763.0,1090.5 763.4,1087.5 763.8,1088.5 764.1,1091.5 764.5,1094.1 764.8,1089.6 765.2,1094.2 765.6,1090.8 765.9,1093.7 766.3,1094.5 766.6,1095.1 767.0,1092.2 767.4,1093.4 767.7,1095.8 768.1,1090.5 768.4,1095.4 768.8,1096.7 769.2,1098.6 769.5,1095.6 769.9,1095.5 770.2,1096.8 770.6,1094.5 771.0,1096.4 771.3,1098.6 771.7,1098.5 772.0,1094.7 772.4,1096.7 772.8,1091.1 773.1,1099.8 773.5,1095.5 773.8,1097.7 774.2,1093.4 774.6,1096.3 774.9,1097.8 775.3,1099.2 775.6,1091.9 776.0,1098.4 776.4,1095.2 776.7,1093.1 777.1,1096.8 777.4,1094.2 777.8,1094.0 778.2,1092.6 778.5,1095.3 778.9,1094.6 779.2,1094.1 779.6,1091.9 780.0,1093.5 780.3,1096.4 780.7,1099.3 781.0,1095.5 781.4,1100.1 781.8,1095.9 782.1,1092.8 782.5,1098.2 782.8,1093.5 783.2,1097.9 783.6,1100.1 783.9,1096.1 784.3,1096.9 784.6,1104.9 785.0,1098.3 785.4,1098.6 785.7,1100.3 786.1,1097.8 786.4,1098.0 786.8,1099.6 787.2,1091.4 787.5,1103.1 787.9,1095.8 788.2,1095.9 788.6,1101.0 789.0,1099.6 789.3,1095.6 789.7,1099.9 790.0,1095.6 790.4,1096.8 790.8,1094.2 791.1,1096.1 791.5,1099.7 791.8,1098.7 792.2,1099.2 792.6,1100.9 792.9,1097.8 793.3,1095.8 793.6,1096.8 794.0,1102.5 794.4,1097.5 794.7,1098.2 795.1,1096.8 795.4,1097.7 795.8,1098.1 796.2,1096.6 796.5,1096.0 796.9,1094.0 797.2,1093.6 797.6,1097.5 798.0,1098.8 798.3,1099.5 798.7,1097.1 799.0,1094.6 799.4,1099.3 799.8,1099.4 800.1,1093.2 800.5,1100.5 800.8,1100.0 801.2,1103.5 801.6,1095.3 801.9,1095.0 802.3,1101.5 802.6,1093.9 803.0,1097.3 803.4,1096.5 803.7,1096.9 804.1,1094.4 804.4,1099.7 804.8,1103.6 805.2,1102.2 805.5,1102.4 805.9,1100.2 806.2,1105.6 806.6,1102.8 807.0,1104.4 807.3,1096.6 807.7,1102.3 808.0,1097.8 808.4,1102.3 808.8,1101.9 809.1,1097.9 809.5,1101.8 809.8,1104.8 810.2,1102.8 810.6,1103.1 810.9,1098.7 811.3,1099.2 811.6,1097.9 812.0,1101.7 812.4,1104.9 812.7,1102.6 813.1,1101.3 813.4,1097.9 813.8,1102.6 814.2,1100.6 814.5,1095.7 814.9,1096.5 815.2,1100.9 815.6,1099.4 816.0,1107.3 816.3,1102.6 816.7,1099.6 817.0,1101.5 817.4,1108.0 817.8,1100.6 818.1,1105.9 818.5,1105.2 818.8,1108.5 819.2,1105.9 819.6,1103.3 819.9,1106.3 820.3,1105.1 820.6,1108.1 821.0,1105.2 821.4,1111.5 821.7,1105.5 822.1,1107.4 822.4,1104.3 822.8,1106.8 823.2,1106.7 823.5,1107.3 823.9,1109.6 824.2,1105.4 824.6,1104.7 825.0,1110.6 825.3,1106.6 825.7,1105.6 826.0,1111.2 826.4,1110.2 826.8,1100.2 827.1,1107.1 827.5,1110.6 827.8,1110.9 828.2,1107.1 828.6,1113.4 828.9,1106.6 829.3,1108.4 829.6,1109.6 830.0,1109.3 830.4,1111.8 830.7,1112.6 831.1,1109.6 831.4,1114.0 831.8,1108.0 832.2,1109.6 832.5,1115.4 832.9,1110.8 833.2,1113.8 833.6,1109.5 834.0,1110.1 834.3,1110.8 834.7,1111.7 835.0,1110.4 835.4,1111.6 835.8,1113.6 836.1,1115.3 836.5,1112.3 836.8,1114.0 837.2,1114.9 837.6,1109.2 837.9,1107.9 838.3,1117.4 838.6,1116.7 839.0,1113.1 839.4,1114.1 839.7,1110.5 840.1,1109.6 840.4,1114.8 840.8,1109.8 841.2,1117.1 841.5,1112.8 841.9,1115.9 842.2,1120.9 842.6,1121.1 843.0,1115.1 843.3,1119.3 843.7,1113.5 844.0,1115.1 844.4,1118.1 844.8,1121.4 845.1,1116.0 845.5,1119.5 845.8,1118.5 846.2,1114.9 846.6,1118.4 846.9,1123.4 847.3,1119.1 847.6,1121.1 848.0,1122.4 848.4,1118.2 848.7,1124.2 849.1,1125.2 849.4,1125.8 849.8,1125.3 850.2,1120.6 850.5,1120.6 850.9,1120.3 851.2,1120.3 851.6,1120.9 852.0,1126.3 852.3,1128.0 852.7,1122.3 853.0,1126.8 853.4,1121.2 853.8,1124.2 854.1,1122.6 854.5,1121.1 854.8,1126.2 855.2,1126.6 855.6,1125.6 855.9,1125.6 856.3,1124.6 856.6,1127.3 857.0,1126.3 857.4,1129.0 857.7,1125.2 858.1,1129.6 858.4,1130.7 858.8,1133.0 859.2,1132.8 859.5,1130.7 859.9,1128.6 860.2,1125.7 860.6,1131.1 861.0,1135.4 861.3,1136.4 861.7,1125.0 862.0,1130.3 862.4,1131.7 862.8,1130.1 863.1,1133.9 863.5,1133.5 863.8,1131.9 864.2,1133.1 864.6,1128.7 864.9,1130.4 865.3,1130.5 865.6,1135.4 866.0,1128.3 866.4,1132.2 866.7,1134.9 867.1,1132.5 867.4,1134.8 867.8,1130.7 868.2,1133.6 868.5,1134.9 868.9,1138.5 869.2,1134.2 869.6,1136.1 870.0,1132.1 870.3,1132.3 870.7,1136.3 871.0,1133.5 871.4,1135.8 871.8,1133.7 872.1,1137.7 872.5,1138.4 872.8,1129.4 873.2,1136.9 873.6,1133.0 873.9,1133.1 874.3,1131.4 874.6,1133.8 875.0,1128.6 875.4,1129.7 875.7,1129.6 876.1,1132.6 876.4,1134.3 876.8,1133.8 877.2,1132.8 877.5,1130.1 877.9,1126.9 878.2,1132.9 878.6,1132.2 879.0,1132.8 879.3,1135.8 879.7,1131.3 880.0,1131.2 880.4,1125.2 880.8,1133.1 881.1,1131.2 881.5,1129.2 881.8,1132.2 882.2,1128.0 882.6,1129.3 882.9,1136.2 883.3,1132.6 883.6,1133.0 884.0,1132.3 884.4,1131.9 884.7,1130.5 885.1,1136.2 885.4,1129.4 885.8,1131.6 886.2,1128.7 886.5,1128.2 886.9,1122.2 887.2,1123.5 887.6,1133.1 888.0,1132.8 888.3,1127.2 888.7,1128.2 889.0,1129.5 889.4,1124.4 889.8,1131.7 890.1,1123.2 890.5,1123.6 890.8,1117.3 891.2,1129.0 891.6,1124.3 891.9,1128.3 892.3,1120.2 892.6,1123.6 893.0,1122.3 893.4,1122.1 893.7,1127.0 894.1,1127.1 894.4,1124.0 894.8,1118.2 895.2,1121.2 895.5,1121.8 895.9,1118.8 896.2,1118.1 896.6,1117.1 897.0,1112.3 897.3,1114.9 897.7,1118.2 898.0,1109.9 898.4,1112.3 898.8,1113.7 899.1,1106.5 899.5,1109.2 899.8,1103.8 900.2,1106.2 900.6,1103.0 900.9,1103.6 901.3,1104.0 901.6,1103.8 902.0,1103.2 902.4,1095.8 902.7,1106.9 903.1,1100.5 903.4,1097.1 903.8,1097.7 904.2,1099.3 904.5,1094.1 904.9,1094.6 905.2,1093.2 905.6,1095.0 906.0,1089.8 906.3,1092.2 906.7,1090.7 907.0,1087.9 907.4,1091.2 907.8,1086.5 908.1,1081.9 908.5,1085.7 908.8,1084.3 909.2,1082.9 909.6,1082.9 909.9,1088.7 910.3,1081.2 910.6,1081.1 911.0,1078.0 911.4,1082.1 911.7,1076.9 912.1,1073.6 912.4,1071.5 912.8,1076.4 913.2,1076.4 913.5,1068.2 913.9,1070.2 914.2,1073.9 914.6,1074.5 915.0,1066.1 915.3,1068.4 915.7,1071.7 916.0,1066.6 916.4,1066.1 916.8,1065.1 917.1,1061.9 917.5,1065.6 917.8,1065.7 918.2,1059.4 918.6,1063.6 918.9,1066.2 919.3,1062.6 919.6,1064.3 920.0,1058.6 920.4,1064.3 920.7,1056.4 921.1,1064.6 921.4,1056.1 921.8,1054.5 922.2,1053.2 922.5,1054.0 922.9,1052.7 923.2,1051.0 923.6,1051.2 924.0,1053.6 924.3,1053.3 924.7,1048.1 925.0,1052.5 925.4,1043.9 925.8,1043.0 926.1,1042.5 926.5,1045.7 926.8,1039.4 927.2,1038.8 927.6,1044.3 927.9,1044.4 928.3,1042.5 928.6,1034.4 929.0,1037.1 929.4,1038.1 929.7,1035.3 930.1,1030.0 930.4,1032.1 930.8,1027.7 931.2,1025.3 931.5,1030.3 931.9,1023.0 932.2,1013.9 932.6,1010.5 933.0,1013.2 933.3,1007.9 933.7,1008.6 934.0,1002.9 934.4,1001.7 934.8,1000.4 935.1,994.8 935.5,990.5 935.8,990.6 936.2,990.0 936.6,989.5 936.9,988.0 937.3,986.1 937.6,985.8 938.0,982.2 938.4,986.9 938.7,987.8 939.1,983.7 939.4,982.8 939.8,984.8 939.8,983.4 940.2,984.1 940.5,985.0 940.9,985.5 941.2,986.2 941.6,992.0 942.0,996.0 942.3,995.4 942.7,1001.8 943.0,1006.7 943.4,1009.7 943.8,1013.3 944.1,1018.3 944.5,1019.3 944.8,1027.6 945.2,1031.4 945.6,1038.7 945.9,1038.7 946.3,1038.6 946.6,1041.7 947.0,1047.5 947.4,1049.7 947.7,1049.3 948.1,1050.1 948.4,1049.0 948.8,1052.6 949.2,1054.3 949.5,1054.7 949.9,1060.9 950.2,1054.2 950.6,1060.0 951.0,1063.0 951.3,1064.1 951.7,1068.6 952.0,1060.1 952.4,1062.8 952.8,1066.0 953.1,1066.9 953.5,1066.0 953.8,1065.5 954.2,1072.1 954.6,1066.0 954.9,1068.3 955.3,1075.5 955.6,1077.2 956.0,1075.1 956.4,1070.2 956.7,1070.8 957.1,1071.3 957.4,1071.1 957.8,1074.1 958.2,1080.1 958.5,1077.3 958.9,1074.8 959.2,1075.3 959.6,1074.7 960.0,1082.8 960.3,1073.2 960.7,1081.1 961.0,1076.2 961.4,1078.1 961.8,1077.3 962.1,1085.7 962.5,1083.0 962.8,1092.4 963.2,1081.2 963.6,1081.6 963.9,1087.5 964.3,1088.1 964.6,1086.1 965.0,1081.3 965.4,1092.7 965.7,1090.6 966.1,1090.7 966.4,1088.3 966.8,1092.7 967.2,1089.6 967.5,1092.1 967.9,1092.0 968.2,1097.1 968.6,1092.4 969.0,1093.4 969.3,1098.5 969.7,1096.5 970.0,1096.3 970.4,1096.2 970.8,1100.2 971.1,1095.6 971.5,1099.4 971.8,1104.4 972.2,1099.8 972.6,1096.5 972.9,1095.6 973.3,1100.0 973.6,1096.2 974.0,1095.4 974.4,1098.2 974.7,1097.6 975.1,1103.8 975.4,1097.1 975.8,1106.6 976.2,1099.9 976.5,1102.9 976.9,1104.9 977.2,1103.8 977.6,1105.7 978.0,1100.9 978.3,1097.3 978.7,1103.9 979.0,1099.6 979.4,1103.0 979.8,1107.7 980.1,1104.5 980.5,1103.4 980.8,1102.0 981.2,1104.6 981.6,1105.1 981.9,1101.0 982.3,1106.8 982.6,1102.8 983.0,1106.8 983.4,1105.0 983.7,1109.4 984.1,1109.2 984.4,1106.8 984.8,1106.6 985.2,1108.4 985.5,1111.3 985.9,1110.5 986.2,1108.0 986.6,1108.6 987.0,1112.5 987.3,1103.1 987.7,1109.8 988.0,1105.8 988.4,1112.7 988.8,1107.4 989.1,1108.8 989.5,1106.1 989.8,1109.6 990.2,1112.2 990.6,1115.0 990.9,1106.5 991.3,1109.2 991.6,1122.3 992.0,1113.7 992.4,1111.2 992.7,1112.9 993.1,1103.8 993.4,1116.6 993.8,1112.5 994.2,1108.1 994.5,1116.0 994.9,1110.9 995.2,1109.9 995.6,1114.7 996.0,1114.4 996.3,1111.8 996.7,1113.0 997.0,1109.3 997.4,1109.0 997.8,1115.8 998.1,1117.1 998.5,1114.5 998.8,1114.3 999.2,1112.0 999.6,1112.8 999.9,1110.5 1000.3,1118.4 1000.6,1111.5 1001.0,1114.4 1001.4,1113.2 1001.7,1109.1 1002.1,1118.9 1002.4,1112.1 1002.8,1110.9 1003.2,1113.5 1003.5,1110.6 1003.9,1113.3 1004.2,1110.4 1004.6,1114.9 1005.0,1113.4 1005.3,1109.2 1005.7,1116.2 1006.0,1113.8 1006.4,1110.1 1006.8,1114.4 1007.1,1114.7 1007.5,1119.0 1007.8,1111.0 1008.2,1116.1 1008.6,1113.4 1008.9,1115.6 1009.3,1113.0 1009.6,1113.7 1010.0,1115.4 1010.4,1110.5 1010.7,1107.9 1011.1,1114.1 1011.4,1112.9 1011.8,1114.5 1012.2,1116.2 1012.5,1113.7 1012.9,1117.9 1013.2,1114.4 1013.6,1114.9 1014.0,1117.1 1014.3,1116.4 1014.7,1114.5 1015.0,1115.2 1015.4,1112.7 1015.8,1113.2 1016.1,1115.4 1016.5,1117.6 1016.8,1114.1 1017.2,1118.0 1017.6,1121.3 1017.9,1122.1 1018.3,1116.0 1018.6,1119.2 1019.0,1118.0 1019.4,1118.7 1019.7,1119.0 1020.1,1118.2 1020.4,1119.2 1020.8,1117.5 1021.2,1116.4 1021.5,1118.0 1021.9,1118.8 1022.2,1121.1 1022.6,1118.8 1023.0,1120.0 1023.3,1122.1 1023.7,1115.4 1024.0,1117.5 1024.4,1119.9 1024.8,1118.4 1025.1,1115.3 1025.5,1121.0 1025.8,1117.9 1026.2,1115.2 1026.6,1123.5 1026.9,1114.2 1027.3,1117.8 1027.6,1115.9 1028.0,1118.1 1028.4,1119.4 1028.7,1115.3 1029.1,1117.3 1029.4,1117.2 1029.8,1114.6 1030.2,1120.8 1030.5,1117.9 1030.9,1116.5 1031.2,1115.3 1031.6,1116.2 1032.0,1117.5 1032.3,1115.7 1032.7,1120.7 1033.0,1109.5 1033.4,1110.7 1033.8,1116.1 1034.1,1111.4 1034.5,1116.5 1034.8,1114.9 1035.2,1118.5 1035.6,1118.1 1035.9,1120.8 1036.3,1119.7 1036.6,1120.7 1037.0,1118.7 1037.4,1120.3 1037.7,1118.7 1038.1,1115.6 1038.4,1113.7 1038.8,1113.9 1039.2,1118.9 1039.5,1110.6 1039.9,1118.1 1040.2,1115.5 1040.6,1119.8 1041.0,1118.3 1041.3,1115.6 1041.7,1117.9 1042.0,1111.3 1042.4,1118.8 1042.8,1119.4 1043.1,1112.8 1043.5,1120.6 1043.8,1117.9 1044.2,1118.8 1044.6,1114.2 1044.9,1120.2 1045.3,1120.3 1045.6,1118.6 1046.0,1116.0 1046.4,1121.1 1046.7,1122.7 1047.1,1120.3 1047.4,1122.2 1047.8,1117.7 1048.2,1120.0 1048.5,1120.8 1048.9,1120.2 1049.2,1128.1 1049.6,1121.3 1050.0,1118.6 1050.3,1122.7 1050.7,1117.3 1051.0,1121.6 1051.4,1122.9 1051.8,1119.4 1052.1,1120.0 1052.5,1118.4 1052.8,1121.6 1053.2,1119.4 1053.6,1126.5 1053.9,1123.5 1054.3,1121.1 1054.6,1117.8 1055.0,1127.9 1055.4,1126.0 1055.7,1123.8 1056.1,1123.1 1056.4,1123.3 1056.8,1121.6 1057.2,1128.5 1057.5,1123.9 1057.9,1119.4 1058.2,1121.8 1058.6,1116.5 1059.0,1125.9 1059.3,1126.4 1059.7,1129.4 1060.0,1130.6 1060.4,1122.5 1060.8,1126.2 1061.1,1127.9 1061.5,1127.5 1061.8,1124.0 1062.2,1127.9 1062.6,1127.2 1062.9,1129.9 1063.3,1126.1 1063.6,1125.7 1064.0,1125.1 1064.4,1125.6 1064.7,1124.7 1065.1,1126.1 1065.4,1128.7 1065.8,1128.7 1066.2,1131.3 1066.5,1130.9 1066.9,1129.7 1067.2,1124.9 1067.6,1129.9 1068.0,1131.8 1068.3,1125.0 1068.7,1125.7 1069.0,1126.3 1069.4,1126.3 1069.8,1128.6 1070.1,1126.9 1070.5,1130.8 1070.8,1126.5 1071.2,1129.7 1071.6,1128.8 1071.9,1127.5 1072.3,1133.2 1072.6,1130.3 1073.0,1131.8 1073.4,1129.3 1073.7,1132.2 1074.1,1132.0 1074.4,1129.8 1074.8,1125.3 1075.2,1132.6 1075.5,1132.2 1075.9,1130.8 1076.2,1130.9 1076.6,1130.6 1077.0,1130.8 1077.3,1127.4 1077.7,1130.1 1078.0,1131.2 1078.4,1128.5 1078.8,1127.5 1079.1,1135.5 1079.5,1132.0 1079.8,1129.4 1080.2,1128.9 1080.6,1122.8 1080.9,1126.3 1081.3,1129.6 1081.6,1133.9 1082.0,1124.5 1082.4,1128.3 1082.7,1135.6 1083.1,1132.1 1083.4,1131.4 1083.8,1133.6 1084.2,1129.9 1084.5,1129.8 1084.9,1132.3 1085.2,1132.7 1085.6,1127.3 1086.0,1134.6 1086.3,1125.4 1086.7,1128.3 1087.0,1138.9 1087.4,1128.8 1087.8,1132.1 1088.1,1127.5 1088.5,1129.4 1088.8,1128.3 1089.2,1129.2 1089.6,1132.1 1089.9,1135.2 1090.3,1132.7 1090.6,1134.6 1091.0,1128.9 1091.4,1134.4 1091.7,1131.9 1092.1,1134.1 1092.4,1129.0 1092.8,1129.5 1093.2,1133.9 1093.5,1131.7 1093.9,1130.2 1094.2,1127.9 1094.6,1129.5 1095.0,1131.1 1095.3,1131.7 1095.7,1128.0 1096.0,1128.6 1096.4,1130.7 1096.8,1126.3 1097.1,1132.0 1097.5,1129.2 1097.8,1128.8 1098.2,1122.3 1098.6,1124.5 1098.9,1126.0 1099.3,1127.2 1099.6,1125.7 1100.0,1129.8 1100.4,1129.1 1100.7,1127.9 1101.1,1122.8 1101.4,1132.4 1101.8,1127.6 1102.2,1130.0 1102.5,1126.4 1102.9,1128.2 1103.2,1130.0 1103.6,1128.7 1104.0,1130.6 1104.3,1127.3 1104.7,1133.3 1105.0,1122.3 1105.4,1126.0 1105.8,1130.2 1106.1,1126.6 1106.5,1126.0 1106.8,1122.1 1107.2,1130.4 1107.6,1121.6 1107.9,1128.3 1108.3,1127.3 1108.6,1129.2 1109.0,1130.7 1109.4,1124.5 1109.7,1124.1 1110.1,1125.4 1110.4,1121.3 1110.8,1128.4 1111.2,1124.9 1111.5,1126.4 1111.9,1122.6 1112.2,1125.7 1112.6,1123.8 1113.0,1125.3 1113.3,1122.2 1113.7,1128.1 1114.0,1123.3 1114.4,1117.7 1114.8,1126.7 1115.1,1123.9 1115.5,1122.1 1115.8,1131.6 1116.2,1124.2 1116.6,1120.4 1116.9,1122.4 1117.3,1125.1 1117.6,1123.3 1118.0,1127.3 1118.4,1126.7 1118.7,1121.3 1119.1,1123.5 1119.4,1125.1 1119.8,1122.0 1120.2,1121.8 1120.5,1125.5 1120.9,1124.1 1121.2,1118.7 1121.6,1121.0 1122.0,1121.3 1122.3,1122.0 1122.7,1120.3 1123.0,1126.2 1123.4,1119.6 1123.8,1119.3 1124.1,1123.0 1124.5,1115.9 1124.8,1119.4 1125.2,1124.2 1125.6,1118.6 1125.9,1120.0 1126.3,1125.5 1126.6,1123.7 1127.0,1122.6 1127.4,1123.1 1127.7,1120.5 1128.1,1123.3 1128.4,1121.8 1128.8,1129.6 1129.2,1124.0 1129.5,1121.4 1129.9,1122.3 1130.2,1122.6 1130.6,1118.5 1131.0,1120.1 1131.3,1126.8 1131.7,1118.4 1132.0,1120.8 1132.4,1125.4 1132.8,1126.9 1133.1,1119.8 1133.5,1127.1 1133.8,1122.0 1134.2,1127.9 1134.6,1124.8 1134.9,1122.7 1135.3,1125.7 1135.6,1125.4 1136.0,1121.7 1136.4,1130.2 1136.7,1123.3 1137.1,1127.7 1137.4,1123.2 1137.8,1119.5 1138.2,1121.6 1138.5,1124.7 1138.9,1127.1 1139.2,1130.3 1139.6,1125.7 1140.0,1124.8 1140.3,1122.2 1140.7,1125.7 1141.0,1126.9 1141.4,1119.9 1141.8,1130.0 1142.1,1129.7 1142.5,1133.1 1142.8,1124.2 1143.2,1127.2 1143.6,1127.3 1143.9,1123.8 1144.3,1125.4 1144.6,1125.2 1145.0,1129.7 1145.4,1129.7 1145.7,1132.5 1146.1,1127.8 1146.4,1125.3 1146.8,1130.7 1147.2,1130.7 1147.5,1131.8 1147.9,1133.6 1148.2,1128.7 1148.6,1132.9 1149.0,1128.0 1149.3,1131.5 1149.7,1133.3 1150.0,1131.3 1150.4,1132.4 1150.8,1128.2 1151.1,1130.5 1151.5,1132.9 1151.8,1129.4 1152.2,1130.6 1152.6,1140.0 1152.9,1134.2 1153.3,1131.3 1153.6,1130.9 1154.0,1137.8 1154.4,1126.3 1154.7,1133.3 1155.1,1136.1 1155.4,1133.0 1155.8,1136.1 1156.2,1132.0 1156.5,1135.0 1156.9,1135.3 1157.2,1135.4 1157.6,1136.0 1158.0,1135.8 1158.3,1139.0 1158.7,1135.4 1159.0,1134.6 1159.4,1135.7 1159.8,1135.8 1160.1,1132.6 1160.5,1131.7 1160.8,1133.4 1161.2,1138.1 1161.6,1135.7 1161.9,1136.6 1162.3,1145.8 1162.6,1141.1 1163.0,1137.6 1163.4,1136.6 1163.7,1142.3 1164.1,1136.5 1164.4,1142.2 1164.8,1140.6 1165.2,1142.9 1165.5,1137.3 1165.9,1141.9 1166.2,1134.6 1166.6,1139.2 1167.0,1142.8 1167.3,1141.9 1167.7,1135.1 1168.0,1142.2 1168.4,1141.7 1168.8,1140.4 1169.1,1138.8 1169.5,1140.1 1169.8,1139.5 1170.2,1143.7 1170.6,1142.6 1170.9,1144.4 1171.3,1143.5 1171.6,1138.3 1172.0,1142.3 1172.4,1147.9 1172.7,1139.2 1173.1,1143.1 1173.4,1140.4 1173.8,1140.2 1174.2,1143.3 1174.5,1145.4 1174.9,1145.1 1175.2,1144.4 1175.6,1145.8 1176.0,1139.0 1176.3,1145.7 1176.7,1144.8 1177.0,1143.3 1177.4,1143.9 1177.8,1141.7 1178.1,1147.3 1178.5,1142.3 1178.8,1140.5 1179.2,1144.6 1179.6,1143.1 1179.9,1144.7 1180.3,1149.1 1180.6,1144.7 1181.0,1145.6 1181.4,1151.5 1181.7,1141.7 1182.1,1146.6 1182.4,1148.8 1182.8,1149.5 1183.2,1151.2 1183.5,1143.1 1183.9,1146.2 1184.2,1144.1 1184.6,1142.9 1185.0,1141.9 1185.3,1139.7 1185.7,1144.2 1186.0,1145.1 1186.4,1141.0 1186.8,1143.3 1187.1,1142.4 1187.5,1142.0 1187.8,1141.2 1188.2,1142.2 1188.6,1140.6 1188.9,1138.9 1189.3,1137.5 1189.6,1135.7 1190.0,1134.9 1190.4,1133.3 1190.7,1132.0 1191.1,1130.5 1191.4,1128.6 1191.8,1122.4 1192.2,1113.1 1192.5,1102.6 1192.9,1093.3 1193.2,1083.6 1193.6,1072.0 1194.0,1061.9 1194.3,1050.9 1194.7,1040.3 1194.9,1033.2 1195.0,1035.7 1195.4,1041.8 1195.8,1048.2 1196.1,1053.7 1196.5,1059.5 1196.8,1064.7 1197.2,1071.2 1197.6,1076.5 1197.9,1081.6 1198.3,1086.6 1198.6,1091.7 1199.0,1096.5 1199.4,1101.2 1199.7,1105.9 1200.1,1112.2 1200.4,1114.5 1200.8,1120.1 1201.2,1126.1 1201.5,1129.2 1201.9,1132.7 1202.2,1133.0 1202.6,1134.7 1203.0,1134.1 1203.3,1130.6 1203.7,1133.0 1204.0,1133.6 1204.4,1134.6 1204.8,1134.2 1205.1,1136.6 1205.5,1135.7 1205.8,1132.7 1206.2,1133.7 1206.6,1130.7 1206.9,1139.6 1207.3,1134.2 1207.6,1133.8 1208.0,1129.5 1208.4,1132.4 1208.7,1134.6 1209.1,1131.9 1209.4,1131.7 1209.8,1130.8 1210.2,1137.8 1210.5,1130.4 1210.9,1127.5 1211.2,1129.9 1211.6,1130.1 1212.0,1130.5 1212.3,1129.8 1212.7,1127.0 1213.0,1129.4 1213.4,1130.8 1213.8,1125.7 1214.1,1135.5 1214.5,1134.9 1214.8,1125.1 1215.2,1129.3 1215.6,1133.4 1215.9,1134.5 1216.3,1136.0 1216.6,1125.8 1217.0,1128.1 1217.4,1130.0 1217.7,1133.2 1218.1,1128.7 1218.4,1133.2 1218.8,1133.4 1219.2,1134.4 1219.5,1128.9 1219.9,1133.3 1220.2,1133.1 1220.6,1131.9 1221.0,1136.9 1221.3,1132.5 1221.7,1137.6 1222.0,1132.0 1222.4,1138.6 1222.8,1138.6 1223.1,1131.8 1223.5,1135.3 1223.8,1135.4 1224.2,1131.9 1224.6,1137.0 1224.9,1136.6 1225.3,1132.6 1225.6,1135.5 1226.0,1137.9 1226.4,1135.1 1226.7,1133.7 1227.1,1140.5 1227.4,1133.3 1227.8,1137.1 1228.2,1139.5 1228.5,1138.7 1228.9,1131.5 1229.2,1136.0 1229.6,1136.8 1230.0,1136.8 1230.3,1139.3 1230.7,1139.3 1231.0,1138.4 1231.4,1139.0 1231.8,1141.3 1232.1,1142.2 1232.5,1133.7 1232.8,1145.3 1233.2,1137.9 1233.6,1141.8 1233.9,1135.3 1234.3,1138.6 1234.6,1136.8 1235.0,1143.5 1235.4,1143.2 1235.7,1141.0 1236.1,1140.7 1236.4,1142.5 1236.8,1139.0 1237.2,1140.2 1237.5,1139.8 1237.9,1144.3 1238.2,1142.1 1238.6,1138.6 1239.0,1143.2 1239.3,1143.7 1239.7,1146.2 1240.0,1140.9 1240.4,1143.6 1240.8,1148.3 1241.1,1141.8 1241.5,1141.7 1241.8,1144.2 1242.2,1141.5 1242.6,1142.9 1242.9,1141.6 1243.3,1140.9 1243.6,1145.6 1244.0,1142.2 1244.4,1140.5 1244.7,1142.6 1245.1,1143.0 1245.4,1144.3 1245.8,1146.2 1246.2,1148.6 1246.5,1140.5 1246.9,1143.4 1247.2,1139.2 1247.6,1144.9 1248.0,1145.9 1248.3,1142.8 1248.7,1142.2 1249.0,1142.2 1249.4,1140.9 1249.8,1146.9 1250.1,1150.5 1250.5,1142.3 1250.8,1150.0 1251.2,1145.4 1251.6,1142.0 1251.9,1147.5 1252.3,1148.2 1252.6,1147.3 1253.0,1145.7 1253.4,1151.1 1253.7,1145.9 1254.1,1148.5 1254.4,1148.7 1254.8,1144.7 1255.2,1142.3 1255.5,1142.8 1255.9,1146.6 1256.2,1148.8 1256.6,1143.2 1257.0,1146.3 1257.3,1152.5 1257.7,1143.7 1258.0,1150.0 1258.4,1149.9 1258.8,1151.2 1259.1,1145.3 1259.5,1150.4 1259.8,1145.9 1260.2,1153.4 1260.6,1147.6 1260.9,1151.2 1261.3,1148.2 1261.6,1150.9 1262.0,1146.6 1262.4,1151.6 1262.7,1152.5 1263.1,1150.8 1263.4,1155.2 1263.8,1151.8 1264.2,1152.9 1264.5,1152.1 1264.9,1155.7 1265.2,1148.9 1265.6,1149.9 1266.0,1150.0 1266.3,1152.2 1266.7,1151.2 1267.0,1152.7 1267.4,1151.2 1267.8,1149.0 1268.1,1150.2 1268.5,1151.5 1268.8,1144.1 1269.2,1154.0 1269.6,1148.7 1269.9,1149.2 1270.3,1150.9 1270.6,1149.4 1271.0,1146.2 1271.4,1149.6 1271.7,1154.0 1272.1,1153.2 1272.4,1153.8 1272.8,1149.0 1273.2,1150.0 1273.5,1153.5 1273.9,1154.8 1274.2,1150.9 1274.6,1148.3 1275.0,1145.8 1275.3,1154.9 1275.7,1147.0 1276.0,1152.4 1276.4,1153.7 1276.8,1160.2 1277.1,1152.0 1277.5,1151.2 1277.8,1152.9 1278.2,1153.1 1278.6,1155.4 1278.9,1153.7 1279.3,1149.9 1279.6,1146.4 1280.0,1153.1 1280.4,1150.6 1280.7,1156.5 1281.1,1149.3 1281.4,1153.6 1281.8,1151.2 1282.2,1151.0 1282.5,1158.1 1282.9,1154.2 1283.2,1153.4 1283.6,1156.1 1284.0,1152.2 1284.3,1153.5 1284.7,1152.9 1285.0,1160.2 1285.4,1155.9 1285.8,1156.9 1286.1,1158.4 1286.5,1155.1 1286.8,1155.3 1287.2,1151.5 1287.6,1157.4 1287.9,1157.0 1288.3,1155.2 1288.6,1159.6 1289.0,1151.5 1289.4,1157.5 1289.7,1152.7 1290.1,1153.3 1290.4,1155.9 1290.8,1160.1 1291.2,1153.3 1291.5,1153.8 1291.9,1153.3 1292.2,1162.0 1292.6,1158.1 1293.0,1157.8 1293.3,1162.3 1293.7,1157.4 1294.0,1151.1 1294.4,1155.4 1294.8,1153.6 1295.1,1162.3 1295.5,1153.0 1295.8,1157.7 1296.2,1155.5 1296.6,1155.8 1296.9,1157.1 1297.3,1156.7 1297.6,1155.2 1298.0,1153.7 1298.4,1155.5 1298.7,1154.6 1299.1,1155.2 1299.4,1158.1 1299.8,1157.6 1300.2,1159.4 1300.5,1157.7 1300.9,1163.7 1301.2,1156.7 1301.6,1156.2 1302.0,1161.8 1302.3,1157.3 1302.7,1159.7 1303.0,1162.2 1303.4,1159.5 1303.8,1159.0 1304.1,1162.7 1304.5,1161.2 1304.8,1159.0 1305.2,1157.4 1305.6,1159.8 1305.9,1156.5 1306.3,1158.8 1306.6,1158.4 1307.0,1162.3 1307.4,1163.6 1307.7,1160.0 1308.1,1160.6 1308.4,1159.0 1308.8,1158.3 1309.2,1161.0 1309.5,1163.7 1309.9,1163.6 1310.2,1164.0 1310.6,1161.8 1311.0,1155.4 1311.3,1165.2 1311.7,1166.4 1312.0,1165.4 1312.4,1165.5 1312.8,1166.1 1313.1,1170.5 1313.5,1164.3 1313.8,1167.7 1314.2,1165.8 1314.6,1165.6 1314.9,1163.6 1315.3,1163.1 1315.6,1161.1 1316.0,1165.8 1316.4,1163.5 1316.7,1161.3 1317.1,1162.5 1317.4,1161.5 1317.8,1169.0 1318.2,1164.2 1318.5,1165.3 1318.9,1161.9 1319.2,1162.5 1319.6,1168.1 1320.0,1164.8 1320.3,1166.1 1320.7,1170.5 1321.0,1171.3 1321.4,1167.7 1321.8,1167.3 1322.1,1166.7 1322.5,1165.4 1322.8,1171.6 1323.2,1163.2 1323.6,1166.3 1323.9,1161.6 1324.3,1163.4 1324.6,1167.9 1325.0,1168.2 1325.4,1167.9 1325.7,1166.3 1326.1,1165.4 1326.4,1166.0 1326.8,1166.5 1327.2,1170.5 1327.5,1171.5 1327.9,1169.0 1328.2,1166.5 1328.6,1165.6 1329.0,1168.9 1329.3,1167.6 1329.7,1163.6 1330.0,1172.0 1330.4,1168.5 1330.8,1167.8 1331.1,1166.5 1331.5,1166.6 1331.8,1171.3 1332.2,1166.6 1332.6,1169.4 1332.9,1171.0 1333.3,1174.2 1333.6,1171.1 1334.0,1169.5 1334.4,1168.6 1334.7,1172.1 1335.1,1172.6 1335.4,1168.9 1335.8,1171.7 1336.2,1169.9 1336.5,1166.1 1336.9,1167.8 1337.2,1172.7 1337.6,1174.4 1338.0,1172.6 1338.3,1170.4 1338.7,1169.1 1339.0,1172.5 1339.4,1172.1 1339.8,1167.1 1340.1,1173.1 1340.5,1169.7 1340.8,1173.4 1341.2,1173.1 1341.6,1173.7 1341.9,1174.7 1342.3,1173.8 1342.6,1169.4 1343.0,1169.5 1343.4,1175.0 1343.7,1173.6 1344.1,1168.4 1344.4,1167.3 1344.8,1174.9 1345.2,1178.5 1345.5,1174.9 1345.9,1172.3 1346.2,1173.7 1346.6,1166.0 1347.0,1170.6 1347.3,1175.9 1347.7,1175.6 1348.0,1167.9 1348.4,1176.6 1348.8,1175.0 1349.1,1176.1 1349.5,1173.3 1349.8,1173.9 1350.2,1171.2 1350.6,1174.9 1350.9,1176.5 1351.3,1171.8 1351.6,1175.3 1352.0,1173.0 1352.4,1177.2 1352.7,1177.1 1353.1,1168.6 1353.4,1175.9 1353.8,1177.5 1354.2,1173.5 1354.5,1174.5 1354.9,1174.7 1355.2,1172.3 1355.6,1175.0 1356.0,1179.4 1356.3,1176.7 1356.7,1179.5 1357.0,1178.2 1357.4,1178.8 1357.8,1176.2 1358.1,1177.9 1358.5,1181.2 1358.8,1179.8 1359.2,1177.0 1359.6,1174.4 1359.9,1173.9 1360.3,1177.0 1360.6,1177.5 1361.0,1171.8 1361.4,1177.1 1361.7,1177.5 1362.1,1177.5 1362.4,1175.4 1362.8,1182.7 1363.2,1179.2 1363.5,1173.5 1363.9,1175.2 1364.2,1179.2 1364.6,1178.5 1365.0,1177.6 1365.3,1177.3 1365.7,1176.9 1366.0,1176.3 1366.4,1174.9 1366.8,1179.1 1367.1,1170.6 1367.5,1175.9 1367.8,1181.0 1368.2,1175.9 1368.6,1174.9 1368.9,1182.8 1369.3,1180.7 1369.6,1177.8 1370.0,1176.7 1370.4,1177.7 1370.7,1177.5 1371.1,1177.8 1371.4,1176.6 1371.8,1179.9 1372.2,1177.2 1372.5,1174.1 1372.9,1175.5 1373.2,1178.8 1373.6,1176.3 1374.0,1172.7 1374.3,1182.8 1374.7,1180.4 1375.0,1178.0 1375.4,1178.0 1375.8,1180.8 1376.1,1183.1 1376.5,1178.2 1376.8,1180.9 1377.2,1178.4 1377.6,1180.9 1377.9,1177.4 1378.3,1175.7 1378.6,1180.7 1379.0,1180.4 1379.4,1182.5 1379.7,1179.2 1380.1,1184.4 1380.4,1181.3 1380.8,1185.1 1381.2,1180.5 1381.5,1185.3 1381.9,1181.4 1382.2,1182.1 1382.6,1184.3 1383.0,1177.5 1383.3,1179.4 1383.7,1186.8 1384.0,1178.6 1384.4,1181.2 1384.8,1184.0 1385.1,1186.4 1385.5,1181.6 1385.8,1183.3 1386.2,1180.3 1386.6,1182.3 1386.9,1185.9 1387.3,1184.3 1387.6,1183.5 1388.0,1184.8 1388.4,1184.2 1388.7,1184.4 1389.1,1183.3 1389.4,1181.8 1389.8,1186.1 1390.2,1181.7 1390.5,1187.2 1390.9,1190.1 1391.2,1188.7 1391.6,1190.8 1392.0,1182.6 1392.3,1185.9 1392.7,1183.4 1393.0,1183.7 1393.4,1181.4 1393.8,1182.8 1394.1,1188.1 1394.5,1187.8 1394.8,1189.2 1395.2,1189.1 1395.6,1188.4 1395.9,1184.6 1396.3,1186.5 1396.6,1188.7 1397.0,1190.1 1397.4,1186.2 1397.7,1186.0 1398.1,1186.3 1398.4,1191.4 1398.8,1189.0 1399.2,1187.0 1399.5,1186.0 1399.9,1189.1 1400.2,1184.1 1400.6,1187.7 1401.0,1187.0 1401.3,1187.1 1401.7,1189.2 1402.0,1189.8 1402.4,1196.4 1402.8,1189.3 1403.1,1190.9 1403.5,1187.4 1403.8,1185.4 1404.2,1192.4 1404.6,1194.5 1404.9,1187.4 1405.3,1189.8 1405.6,1192.8 1406.0,1190.5 1406.4,1184.6 1406.7,1193.0 1407.1,1190.3 1407.4,1192.5 1407.8,1188.6 1408.2,1193.2 1408.5,1193.6 1408.9,1189.4 1409.2,1192.4 1409.6,1189.8 1410.0,1190.2 1410.3,1189.3 1410.7,1190.5 1411.0,1190.0 1411.4,1194.5 1411.8,1191.2 1412.1,1189.1 1412.5,1195.2 1412.8,1193.3 1413.2,1194.4 1413.6,1192.0 1413.9,1193.9 1414.3,1192.0 1414.6,1190.0 1415.0,1192.7 1415.4,1192.8 1415.7,1192.9 1416.1,1194.7 1416.4,1188.5 1416.8,1193.5 1417.2,1190.9 1417.5,1192.3 1417.9,1194.1 1418.2,1193.3 1418.6,1191.6 1419.0,1195.1 1419.3,1193.2 1419.7,1195.6 1420.0,1196.4 1420.4,1192.7 1420.8,1191.0 1421.1,1193.9 1421.5,1195.7 1421.8,1194.6 1422.2,1191.1 1422.6,1190.0 1422.9,1191.8 1423.3,1191.9 1423.6,1195.7 1424.0,1194.5 1424.4,1196.5 1424.7,1194.3 1425.1,1198.5 1425.4,1194.6 1425.8,1196.0 1426.2,1193.8 1426.5,1195.9 1426.9,1197.5 1427.2,1196.8 1427.6,1198.1 1428.0,1193.7 1428.3,1196.3 1428.7,1199.3 1429.0,1196.0 1429.4,1195.0 1429.8,1195.0 1430.1,1194.3 1430.5,1196.0 1430.8,1199.0 1431.2,1196.9 1431.6,1195.8 1431.9,1194.1 1432.3,1193.3 1432.6,1201.7 1433.0,1195.0 1433.4,1196.5 1433.7,1195.1 1434.1,1196.8 1434.4,1195.4 1434.8,1196.8 1435.2,1200.0 1435.5,1194.9 1435.9,1197.9 1436.2,1196.6 1436.6,1198.5 1437.0,1195.3 1437.3,1197.9 1437.7,1194.7 1438.0,1192.8 1438.4,1194.1 1438.8,1195.0 1439.1,1194.7 1439.5,1196.6 1439.8,1200.0 1440.2,1194.8 1440.6,1198.6 1440.9,1198.0 1441.3,1196.0 1441.6,1195.6 1442.0,1198.8 1442.4,1198.8 1442.7,1196.8 1443.1,1197.2 1443.4,1197.4 1443.8,1194.3 1444.2,1197.5 1444.5,1197.9 1444.9,1201.2 1445.2,1194.0 1445.6,1194.9 1446.0,1197.0 1446.3,1195.4 1446.7,1195.7 1447.0,1196.6 1447.4,1195.8 1447.8,1196.3 1448.1,1197.3 1448.5,1192.4 1448.8,1197.4 1449.2,1190.8 1449.6,1199.9 1449.9,1198.0 1450.3,1194.3 1450.6,1198.0 1451.0,1195.2 1451.4,1196.5 1451.7,1197.2 1452.1,1196.1 1452.4,1195.2 1452.8,1196.6 1453.2,1194.6 1453.5,1194.1 1453.9,1192.7 1454.2,1190.6 1454.6,1198.4 1455.0,1196.4 1455.3,1191.2 1455.7,1195.4 1456.0,1194.8 1456.4,1189.1 1456.8,1192.2 1457.1,1193.8 1457.5,1198.0 1457.8,1196.5 1458.2,1196.8 1458.6,1194.5 1458.9,1196.0 1459.3,1191.1 1459.6,1195.4 1460.0,1195.9 1460.4,1191.4 1460.7,1195.1 1461.1,1198.2 1461.4,1199.3 1461.8,1198.3 1462.2,1193.5 1462.5,1195.1 1462.9,1194.3 1463.2,1198.5 1463.6,1193.8 1464.0,1193.5 1464.3,1192.4 1464.7,1196.7 1465.0,1197.5 1465.4,1195.2 1465.8,1195.0 1466.1,1196.5 1466.5,1200.2 1466.8,1194.2 1467.2,1197.3 1467.6,1198.1 1467.9,1198.6 1468.3,1200.8 1468.6,1200.0 1469.0,1198.9 1469.4,1201.8 1469.7,1201.2 1470.1,1199.4 1470.4,1199.4 1470.8,1196.3 1471.2,1199.5 1471.5,1197.6 1471.9,1196.9 1472.2,1199.1 1472.6,1195.9 1473.0,1198.0 1473.3,1199.0 1473.7,1201.1 1474.0,1199.8 1474.4,1201.6 1474.8,1204.4 1475.1,1202.8 1475.5,1198.5 1475.8,1197.2 1476.2,1199.2 1476.6,1199.3 1476.9,1196.8 1477.3,1197.4 1477.6,1197.5 1478.0,1200.0 1478.4,1204.7 1478.7,1205.4 1479.1,1199.2 1479.4,1200.5 1479.8,1198.4 1480.2,1197.8 1480.5,1201.4 1480.9,1201.7 1481.2,1200.2 1481.6,1203.1 1482.0,1200.9 1482.3,1204.2 1482.7,1200.6 1483.0,1203.7 1483.4,1201.3 1483.8,1202.1 1484.1,1203.3 1484.5,1198.8 1484.8,1200.2 1485.2,1201.8 1485.6,1201.3 1485.9,1202.6 1486.3,1200.2 1486.6,1199.1 1487.0,1201.9 1487.4,1202.8 1487.7,1200.4 1488.1,1205.0 1488.4,1203.8 1488.8,1204.2 1489.2,1204.1 1489.5,1200.4 1489.9,1207.3 1490.2,1200.9 1490.6,1203.4 1491.0,1204.3 1491.3,1203.4 1491.7,1203.1 1492.0,1200.9 1492.4,1201.9 1492.8,1203.0 1493.1,1205.9 1493.5,1201.5 1493.8,1204.6 1494.2,1204.1 1494.6,1203.3 1494.9,1201.9 1495.3,1202.9 1495.6,1199.4 1496.0,1203.6 1496.4,1204.1 1496.7,1202.3 1497.1,1204.7 1497.4,1204.3 1497.8,1201.9 1498.2,1205.5 1498.5,1202.5 1498.9,1209.2 1499.2,1201.4 1499.6,1202.0 1500.0,1202.4 1500.3,1204.4 1500.7,1206.5 1501.0,1204.1 1501.4,1203.1 1501.8,1208.3 1502.1,1206.4 1502.5,1203.4 1502.8,1203.9 1503.2,1200.7 1503.6,1204.3 1503.9,1208.1 1504.3,1201.6 1504.6,1201.1 1505.0,1204.6 1505.4,1198.9 1505.7,1207.5 1506.1,1201.0 1506.4,1202.8 1506.8,1204.1 1507.2,1207.2 1507.5,1205.4 1507.9,1200.2 1508.2,1200.7 1508.6,1205.0 1509.0,1199.9 1509.3,1204.0 1509.7,1202.8 1510.0,1206.5 1510.4,1207.4 1510.8,1199.0 1511.1,1205.7 1511.5,1206.2 1511.8,1203.1 1512.2,1203.5 1512.6,1202.1 1512.9,1204.1 1513.3,1205.8 1513.6,1208.0 1514.0,1208.2 1514.4,1204.4 1514.7,1203.2 1515.1,1207.3 1515.4,1198.9 1515.8,1202.0 1516.2,1206.6 1516.5,1210.2 1516.9,1203.5 1517.2,1205.5 1517.6,1202.8 1518.0,1205.2 1518.3,1205.2 1518.7,1203.7 1519.0,1206.3 1519.4,1205.1 1519.8,1206.7 1520.1,1205.1 1520.5,1202.9 1520.8,1206.0 1521.2,1207.6 1521.6,1203.9 1521.9,1208.8 1522.3,1206.8 1522.6,1205.0 1523.0,1205.9 1523.4,1205.0 1523.7,1203.9 1524.1,1208.0 1524.4,1208.0 1524.8,1205.0 1525.2,1205.7 1525.5,1205.7 1525.9,1207.7 1526.2,1209.5 1526.6,1204.8 1527.0,1207.0 1527.3,1206.4 1527.7,1207.7 1528.0,1209.8 1528.4,1204.7 1528.8,1202.1 1529.1,1206.4 1529.5,1203.3 1529.8,1210.7 1530.2,1205.4 1530.6,1206.4 1530.9,1207.7 1531.3,1207.7 1531.6,1206.3 1532.0,1207.4 1532.4,1209.6 1532.7,1206.8 1533.1,1211.7 1533.4,1208.5 1533.8,1202.5 1534.2,1209.8 1534.5,1204.0 1534.9,1208.7 1535.2,1213.1 1535.6,1210.5 1536.0,1205.6 1536.3,1206.4 1536.7,1208.4 1537.0,1211.6 1537.4,1206.8 1537.8,1211.0 1538.1,1209.3 1538.5,1208.5 1538.8,1208.4 1539.2,1212.6 1539.6,1205.5 1539.9,1206.4 1540.3,1211.0 1540.6,1211.3 1541.0,1206.3 1541.4,1207.2 1541.7,1206.8 1542.1,1210.6 1542.4,1208.0 1542.8,1212.7 1543.2,1211.3 1543.5,1210.3 1543.9,1210.1 1544.2,1210.9 1544.6,1211.6 1545.0,1209.8 1545.3,1210.3 1545.7,1211.5 1546.0,1209.6 1546.4,1212.0 1546.8,1209.5 1547.1,1208.1 1547.5,1210.3 1547.8,1213.6 1548.2,1213.2 1548.6,1206.4 1548.9,1210.6 1549.3,1208.8 1549.6,1209.2 1550.0,1209.2 1550.4,1209.5 1550.7,1208.8 1551.1,1209.4 1551.4,1210.5 1551.8,1207.4 1552.2,1207.3 1552.5,1207.6 1552.9,1207.6 1553.2,1211.4 1553.6,1207.7 1554.0,1210.0 1554.3,1210.3 1554.7,1211.8 1555.0,1210.3 1555.4,1212.6 1555.8,1210.1 1556.1,1210.8 1556.5,1212.0 1556.8,1207.1 1557.2,1211.2 1557.6,1213.7 1557.9,1210.6 1558.3,1209.9 1558.6,1214.6 1559.0,1210.7 1559.4,1213.2 1559.7,1205.2 1560.1,1210.7 1560.4,1209.4 1560.8,1211.4 1561.2,1213.2 1561.5,1210.4 1561.9,1210.2 1562.2,1204.6 1562.6,1212.6 1563.0,1213.8 1563.3,1211.3 1563.7,1210.0 1564.0,1211.9 1564.4,1213.4 1564.8,1212.6 1565.1,1215.8 1565.5,1210.0 1565.8,1208.3 1566.2,1212.5 1566.6,1214.2 1566.9,1210.5 1567.3,1211.6 1567.6,1210.2 1568.0,1208.9 1568.4,1210.1 1568.7,1207.2 1569.1,1212.4 1569.4,1212.9 1569.8,1213.9 1570.2,1210.1 1570.5,1210.6 1570.9,1208.4 1571.2,1208.9 1571.6,1214.1 1572.0,1218.4 1572.3,1209.9 1572.7,1211.4 1573.0,1214.4 1573.4,1210.9 1573.8,1213.8 1574.1,1211.9 1574.5,1211.9 1574.8,1214.6 1575.2,1212.1 1575.6,1210.0 1575.9,1214.6 1576.3,1212.9 1576.6,1211.7 1577.0,1211.2 1577.4,1214.3 1577.7,1211.4 1578.1,1213.3 1578.4,1215.2 1578.8,1212.7 1579.2,1215.4 1579.5,1210.0 1579.9,1214.3 1580.2,1214.2 1580.6,1217.1 1581.0,1213.0 1581.3,1215.0 1581.7,1212.6 1582.0,1210.7 1582.4,1211.1 1582.8,1211.4 1583.1,1214.7 1583.5,1211.3 1583.8,1213.1 1584.2,1215.0 1584.6,1215.7 1584.9,1215.1 1585.3,1216.3 1585.6,1210.5 1586.0,1211.9 1586.4,1213.7 1586.7,1215.4 1587.1,1214.1 1587.4,1211.3 1587.8,1212.6 1588.2,1209.4 1588.5,1214.8 1588.9,1209.1 1589.2,1213.5 1589.6,1215.4 1590.0,1215.0 1590.3,1209.5 1590.7,1213.5 1591.0,1212.2 1591.4,1212.3 1591.8,1216.6 1592.1,1213.6 1592.5,1209.9 1592.8,1210.6 1593.2,1214.6 1593.6,1213.5 1593.9,1210.5 1594.3,1209.3 1594.6,1211.8 1595.0,1212.1 1595.4,1214.8 1595.7,1211.7 1596.1,1214.6 1596.4,1215.8 1596.8,1209.6 1597.2,1211.9 1597.5,1216.6 1597.9,1212.2 1598.2,1213.2 1598.6,1215.3 1599.0,1211.6 1599.3,1212.3 1599.7,1209.6 1600.0,1214.5 1600.4,1212.2 1600.8,1212.5 1601.1,1207.7 1601.5,1215.4 1601.8,1214.9 1602.2,1211.6 1602.6,1216.1 1602.9,1208.0 1603.3,1213.2 1603.6,1209.7 1604.0,1219.4 1604.4,1207.7 1604.7,1210.8 1605.1,1211.8 1605.4,1215.2 1605.8,1215.3 1606.2,1214.4 1606.5,1213.0 1606.9,1218.2 1607.2,1212.0 1607.6,1214.3 1608.0,1217.4 1608.3,1210.9 1608.7,1211.9 1609.0,1216.1 1609.4,1214.7 1609.8,1210.8 1610.1,1213.8 1610.5,1217.9 1610.8,1213.2 1611.2,1215.6 1611.6,1214.1 1611.9,1212.4 1612.3,1217.5 1612.6,1216.1 1613.0,1216.7 1613.4,1213.8 1613.7,1214.4 1614.1,1214.7 1614.4,1215.2 1614.8,1213.5 1615.2,1213.3 1615.5,1217.3 1615.9,1212.0 1616.2,1213.5 1616.6,1213.7 1617.0,1213.5 1617.3,1212.0 1617.7,1213.0 1618.0,1216.5 1618.4,1214.0 1618.8,1213.3 1619.1,1218.6 1619.5,1212.1 1619.8,1217.3 1620.2,1215.9 1620.6,1212.2 1620.9,1214.3 1621.3,1214.4 1621.6,1218.1 1622.0,1217.4 1622.4,1214.8 1622.7,1212.9 1623.1,1211.8 1623.4,1215.2 1623.8,1212.6 1624.2,1215.3 1624.5,1215.3 1624.9,1216.6 1625.2,1218.0 1625.6,1216.1 1626.0,1217.0 1626.3,1215.6 1626.7,1218.3 1627.0,1217.9 1627.4,1219.6 1627.8,1219.2 1628.1,1214.7 1628.5,1213.1 1628.8,1217.7 1629.2,1218.9 1629.6,1215.0 1629.9,1219.7 1630.3,1216.7 1630.6,1216.4 1631.0,1217.4 1631.4,1213.6 1631.7,1213.1 1632.1,1216.0 1632.4,1214.2 1632.8,1216.8 1633.2,1216.9 1633.5,1211.3 1633.9,1215.2 1634.2,1218.1 1634.6,1212.0 1635.0,1216.3 1635.3,1214.2 1635.7,1212.9 1636.0,1219.6 1636.4,1219.6 1636.8,1216.4 1637.1,1216.3 1637.5,1220.4 1637.8,1220.0 1638.2,1217.5 1638.6,1219.4 1638.9,1217.8 1639.3,1216.9 1639.6,1219.0 1640.0,1216.8 1640.4,1219.0 1640.7,1217.3 1641.1,1216.9 1641.4,1216.7 1641.8,1218.9 1642.2,1220.0 1642.5,1219.0 1642.9,1216.2 1643.2,1219.5 1643.6,1216.2 1644.0,1215.8 1644.3,1217.8 1644.7,1220.1 1645.0,1219.8 1645.4,1219.6 1645.8,1221.4 1646.1,1220.4 1646.5,1217.8 1646.8,1220.3 1647.2,1218.1 1647.6,1219.5 1647.9,1220.0 1648.3,1218.6 1648.6,1215.6 1649.0,1218.5 1649.4,1218.1 1649.7,1218.6 1650.1,1218.0 1650.4,1216.5 1650.8,1215.5 1651.2,1220.4 1651.5,1220.6 1651.9,1219.8 1652.2,1218.9 1652.6,1223.2 1653.0,1220.5 1653.3,1219.1 1653.7,1220.9 1654.0,1219.0 1654.4,1220.6 1654.8,1219.8 1655.1,1220.3 1655.5,1219.4 1655.8,1218.3 1656.2,1220.3 1656.6,1221.7 1656.9,1217.4 1657.3,1218.2 1657.6,1217.0 1658.0,1221.2 1658.4,1218.9 1658.7,1221.3 1659.1,1217.8 1659.4,1221.2 1659.8,1218.3 1660.2,1218.5 1660.5,1220.7 1660.9,1218.7 1661.2,1218.3 1661.6,1221.5 1662.0,1219.5 1662.3,1222.3 1662.7,1225.0 1663.0,1218.5 1663.4,1219.0 1663.8,1216.5 1664.1,1217.2 1664.5,1221.0 1664.8,1220.4 1665.2,1220.4 1665.6,1220.8 1665.9,1218.0 1666.3,1216.3 1666.6,1222.2 1667.0,1220.4 1667.4,1222.3 1667.7,1219.8 1668.1,1221.5 1668.4,1218.8 1668.8,1220.0 1669.2,1219.6 1669.5,1220.8 1669.9,1223.0 1670.2,1221.4 1670.6,1213.9 1671.0,1219.8 1671.3,1220.1 1671.7,1221.8 1672.0,1220.4 1672.4,1218.7 1672.8,1218.5 1673.1,1219.5 1673.5,1218.7 1673.8,1223.2 1674.2,1221.5 1674.6,1220.4 1674.9,1222.3 1675.3,1224.8 1675.6,1219.9 1676.0,1220.3 1676.4,1219.7 1676.7,1217.8 1677.1,1219.0 1677.4,1218.4 1677.8,1221.4 1678.2,1221.4 1678.5,1222.3 1678.9,1218.8 1679.2,1222.6 1679.6,1218.4 1680.0,1220.1 1680.3,1223.3 1680.7,1223.2 1681.0,1222.9 1681.4,1225.1 1681.8,1222.9 1682.1,1220.2 1682.5,1220.3 1682.8,1219.2 1683.2,1221.3 1683.6,1219.3 1683.9,1219.6 1684.3,1218.9 1684.6,1217.4 1685.0,1226.3 1685.4,1222.9 1685.7,1216.7 1686.1,1222.1 1686.4,1220.0 1686.8,1216.7 1687.2,1220.8 1687.5,1221.7 1687.9,1222.5 1688.2,1223.7 1688.6,1219.6 1689.0,1221.3 1689.3,1222.9 1689.7,1222.6 1690.0,1222.4 1690.4,1221.8 1690.8,1224.2 1691.1,1219.0 1691.5,1218.5 1691.8,1225.4 1692.2,1222.7 1692.6,1224.1 1692.9,1222.3 1693.3,1221.1 1693.6,1221.0 1694.0,1222.3 1694.4,1221.0 1694.7,1221.9 1695.1,1221.9 1695.4,1223.9 1695.8,1223.8 1696.2,1225.6 1696.5,1220.8 1696.9,1222.2 1697.2,1224.4 1697.6,1223.1 1698.0,1217.3 1698.3,1223.2 1698.7,1222.4 1699.0,1221.5 1699.4,1221.6 1699.8,1221.0 1700.1,1225.0 1700.5,1224.0 1700.8,1223.0 1701.2,1224.9 1701.6,1224.6 1701.9,1220.9 1702.3,1220.5 1702.6,1220.6 1703.0,1224.3 1703.4,1222.7 1703.7,1225.3 1704.1,1223.9 1704.4,1222.4 1704.8,1220.2 1705.2,1222.3 1705.5,1227.5 1705.9,1221.5 1706.2,1221.2 1706.6,1222.5 1707.0,1225.8 1707.3,1222.9 1707.7,1220.7 1708.0,1221.7 1708.4,1222.7 1708.8,1223.2 1709.1,1225.2 1709.5,1228.3 1709.8,1225.9 1710.2,1224.4 1710.6,1223.1 1710.9,1221.5 1711.3,1224.4 1711.6,1225.9 1712.0,1224.9 1712.4,1223.0 1712.7,1224.6 1713.1,1222.8 1713.4,1222.9 1713.8,1222.8 1714.2,1223.5 1714.5,1223.1 1714.9,1225.4 1715.2,1223.3 1715.6,1223.1 1716.0,1225.5 1716.3,1224.7 1716.7,1225.6 1717.0,1221.7 1717.4,1226.0 1717.8,1223.3 1718.1,1221.1 1718.5,1222.9 1718.8,1220.7 1719.2,1221.2 1719.6,1222.4 1719.9,1225.2 1720.3,1220.5 1720.6,1223.8 1721.0,1222.7 1721.4,1226.4 1721.7,1223.6 1722.1,1224.5 1722.4,1226.1 1722.8,1220.9 1723.2,1222.5 1723.5,1220.1 1723.9,1221.5 1724.2,1223.9 1724.6,1222.8 1725.0,1224.0 1725.3,1222.3 1725.7,1221.7 1726.0,1222.9 1726.4,1221.3 1726.8,1220.9 1727.1,1219.9 1727.5,1222.9 1727.8,1224.0 1728.2,1221.0 1728.6,1222.4 1728.9,1219.7 1729.3,1221.3 1729.6,1223.1 1730.0,1221.2 1730.4,1223.7 1730.7,1222.4 1731.1,1223.6 1731.4,1222.2 1731.8,1220.7 1732.2,1222.5 1732.5,1223.3 1732.9,1221.2 1733.2,1220.1 1733.6,1214.9 1734.0,1211.8 1734.3,1210.6 1734.7,1205.1 1735.0,1200.2 1735.4,1200.2 1735.8,1197.0 1736.1,1193.8 1736.5,1195.3 1736.8,1189.7 1737.2,1195.4 1737.6,1197.7 1737.9,1195.2 1738.3,1191.9 1738.6,1199.8 1739.0,1204.5 1739.4,1204.4 1739.7,1203.9 1740.1,1204.8 1740.4,1206.3 1740.8,1207.4 1741.2,1209.7 1741.5,1209.1 1741.9,1204.5 1742.2,1208.5 1742.6,1209.5 1743.0,1214.5 1743.3,1211.5 1743.7,1211.5 1744.0,1214.8 1744.4,1217.5 1744.8,1215.2 1745.1,1223.0 1745.5,1222.5 1745.8,1226.1 1746.2,1225.9 1746.6,1225.8 1746.9,1227.6 1747.3,1228.3 1747.6,1224.4 1748.0,1225.2 1748.4,1227.5 1748.7,1225.8 1749.1,1224.3 1749.4,1225.6 1749.8,1223.8 1750.2,1224.5 1750.5,1218.7 1750.9,1225.8 1751.2,1229.2 1751.6,1227.0 1752.0,1226.9 1752.3,1225.9 1752.7,1224.0 1753.0,1226.5 1753.4,1225.6 1753.8,1225.3 1754.1,1226.0 1754.5,1224.4 1754.8,1225.8 1755.2,1226.9 1755.6,1227.6 1755.9,1225.9 1756.3,1227.2 1756.6,1226.0 1757.0,1221.0 1757.4,1221.6 1757.7,1225.2 1758.1,1223.3 1758.4,1226.8 1758.8,1222.9 1759.2,1224.8 1759.5,1224.5 1759.9,1224.1 1760.2,1224.4 1760.6,1225.6 1761.0,1225.8 1761.3,1224.6 1761.7,1226.0 1762.0,1226.7 1762.4,1225.3 1762.8,1224.3 1763.1,1224.3 1763.5,1224.7 1763.8,1224.6 1764.2,1225.8 1764.6,1231.2 1764.9,1228.0 1765.3,1225.8 1765.6,1227.0 1766.0,1227.0 1766.4,1228.5 1766.7,1228.9 1767.1,1224.0 1767.4,1230.6 1767.8,1224.4 1768.2,1226.4 1768.5,1224.6 1768.9,1222.8 1769.2,1222.7 1769.6,1230.5 1770.0,1229.5 1770.3,1224.5 1770.7,1224.3 1771.0,1229.7 1771.4,1224.7 1771.8,1227.7 1772.1,1231.0 1772.5,1228.4 1772.8,1230.0 1773.2,1227.4 1773.6,1223.6 1773.9,1225.4 1774.3,1223.5 1774.6,1227.8 1775.0,1224.5 1775.4,1227.5 1775.7,1226.3 1776.1,1226.0 1776.4,1228.5 1776.8,1226.5 1777.2,1225.8 1777.5,1229.6 1777.9,1227.5 1778.2,1224.7 1778.6,1230.1 1779.0,1224.9 1779.3,1228.3 1779.7,1229.0 1780.0,1227.4 1780.4,1226.3 1780.8,1227.4 1781.1,1227.4 1781.5,1225.9 1781.8,1229.9 1782.2,1227.0 1782.6,1226.7 1782.9,1230.9 1783.3,1226.6 1783.6,1224.9 1784.0,1227.9 1784.4,1228.0 1784.7,1228.0 1785.1,1232.2 1785.4,1226.7 1785.8,1230.6 1786.2,1229.6 1786.5,1230.7 1786.9,1227.5 1787.2,1227.0 1787.6,1227.2 1788.0,1228.3 1788.3,1229.6 1788.7,1231.0 1789.0,1223.9 1789.4,1229.7 1789.8,1228.2 1790.1,1227.5 1790.5,1225.3 1790.8,1228.1 1791.2,1223.6 1791.6,1229.9 1791.9,1225.3 1792.3,1227.0 1792.6,1226.8 1793.0,1228.3 1793.4,1224.4 1793.7,1228.8 1794.1,1227.9 1794.4,1230.2 1794.8,1227.6 1795.2,1226.7 1795.5,1223.0 1795.9,1226.1 1796.2,1230.2 1796.6,1225.9 1797.0,1225.7 1797.3,1226.4 1797.7,1228.4 1798.0,1223.0 1798.4,1230.3 1798.8,1227.8 1799.1,1228.1 1799.5,1226.6 1799.8,1230.7 1800.2,1225.7 1800.6,1228.3 1800.9,1226.9 1801.3,1224.1 1801.6,1226.4 1802.0,1228.2 1802.4,1226.2 1802.7,1225.9 1803.1,1226.7 1803.4,1225.0 1803.8,1224.5 1804.2,1227.0 1804.5,1224.9 1804.9,1228.0 1805.2,1228.4 1805.6,1229.6 1806.0,1228.9 1806.3,1226.4 1806.7,1227.8 1807.0,1224.6 1807.4,1227.9 1807.8,1226.0 1808.1,1229.8 1808.5,1225.6 1808.8,1227.4 1809.2,1225.5 1809.6,1228.4 1809.9,1228.4 1810.3,1225.1 1810.6,1231.2 1811.0,1228.2 1811.4,1224.3 1811.7,1225.3 1812.1,1223.5 1812.4,1223.1 1812.8,1227.0 1813.2,1223.0 1813.5,1228.1 1813.9,1223.9 1814.2,1226.5 1814.6,1230.9 1815.0,1226.6 1815.3,1227.3 1815.7,1229.9 1816.0,1226.8 1816.4,1228.5 1816.8,1225.8 1817.1,1226.7 1817.5,1227.7 1817.8,1227.5 1818.2,1225.9 1818.6,1228.0 1818.9,1228.8 1819.3,1228.9 1819.6,1227.7 1820.0,1225.6 1820.4,1229.0 1820.7,1229.4 1821.1,1225.6 1821.4,1222.9 1821.8,1227.3 1822.2,1229.8 1822.5,1229.5 1822.9,1225.3 1823.2,1230.5 1823.6,1225.9 1824.0,1229.7 1824.3,1226.9 1824.7,1229.8 1825.0,1228.8 1825.4,1227.3 1825.8,1229.3 1826.1,1226.5 1826.5,1227.1 1826.8,1227.2 1827.2,1226.1 1827.6,1229.8 1827.9,1229.8 1828.3,1227.9 1828.6,1226.0 1829.0,1228.9 1829.4,1228.6 1829.7,1229.3 1830.1,1228.0 1830.4,1227.6 1830.8,1230.9 1831.2,1226.8 1831.5,1227.7 1831.9,1224.4 1832.2,1227.3 1832.6,1227.1 1833.0,1227.4 1833.3,1229.3 1833.7,1226.9 1834.0,1229.0 1834.4,1227.4 1834.8,1227.2 1835.1,1224.4 1835.5,1229.0 1835.8,1229.4 1836.2,1226.1 1836.6,1226.9 1836.9,1224.4 1837.3,1227.4 1837.6,1225.9 1838.0,1228.9 1838.4,1227.9 1838.7,1229.4 1839.1,1226.4 1839.4,1224.7 1839.8,1228.0 1840.2,1226.9 1840.5,1231.9 1840.9,1228.7 1841.2,1231.1 1841.6,1229.3 1842.0,1227.5 1842.3,1225.1 1842.7,1227.7 1843.0,1229.5 1843.4,1228.4 1843.8,1228.9 1844.1,1228.9 1844.5,1225.5 1844.8,1228.9 1845.2,1226.6 1845.6,1228.2 1845.9,1231.1 1846.3,1224.3 1846.6,1227.8 1847.0,1229.0 1847.4,1230.5 1847.7,1228.5 1848.1,1226.7 1848.4,1230.0 1848.8,1229.6 1849.2,1224.8 1849.5,1228.5 1849.9,1224.9 1850.2,1223.0 1850.6,1226.4 1851.0,1226.5 1851.3,1224.1 1851.7,1232.3 1852.0,1225.8 1852.4,1229.3 1852.8,1230.0 1853.1,1233.0 1853.5,1227.9 1853.8,1231.9 1854.2,1226.3 1854.6,1228.6 1854.9,1227.8 1855.3,1226.6 1855.6,1229.4 1856.0,1232.6 1856.4,1233.1 1856.7,1230.1 1857.1,1226.4 1857.4,1227.1 1857.8,1230.0 1858.2,1229.9 1858.5,1229.9 1858.9,1228.2 1859.2,1226.9 1859.6,1229.7 1860.0,1228.8 1860.3,1231.7 1860.7,1227.4 1861.0,1230.6 1861.4,1231.7 1861.8,1232.9 1862.1,1232.9 1862.5,1226.8 1862.8,1226.5 1863.2,1229.2 1863.6,1227.1 1863.9,1224.0 1864.3,1232.0 1864.6,1230.0 1865.0,1231.1 1865.4,1229.4 1865.7,1231.4 1866.1,1229.5 1866.4,1229.3 1866.8,1233.0 1867.2,1226.6 1867.5,1230.1 1867.9,1225.7 1868.2,1232.0 1868.6,1228.4 1869.0,1226.4 1869.3,1225.1 1869.7,1228.4 1870.0,1232.9 1870.4,1229.8 1870.8,1225.6 1871.1,1224.5 1871.5,1234.6 1871.8,1227.5 1872.2,1225.6 1872.6,1229.0 1872.9,1229.9 1873.3,1232.0 1873.6,1228.2 1874.0,1227.1 1874.4,1230.0 1874.7,1226.9 1875.1,1229.3 1875.4,1228.9 1875.8,1230.6 1876.2,1227.0 1876.5,1227.1 1876.9,1229.1 1877.2,1229.4 1877.6,1225.4 1878.0,1226.7 1878.3,1228.8 1878.7,1227.6 1879.0,1233.1 1879.4,1229.8 1879.8,1230.9 1880.1,1228.1 1880.5,1228.5 1880.8,1228.5 1881.2,1230.5 1881.6,1227.6 1881.9,1231.5 1882.3,1226.7 1882.6,1230.3 1883.0,1228.7 1883.4,1227.4 1883.7,1231.5 1884.1,1230.2 1884.4,1227.7 1884.8,1226.5 1885.2,1229.8 1885.5,1226.4 1885.9,1229.2 1886.2,1226.1 1886.6,1228.2 1887.0,1226.2 1887.3,1227.6 1887.7,1231.4 1888.0,1231.6 1888.4,1226.9 1888.8,1227.3 1889.1,1224.4 1889.5,1228.5 1889.8,1230.2 1890.2,1226.1 1890.6,1225.9 1890.9,1228.6 1891.3,1226.6 1891.6,1228.2 1892.0,1231.0 1892.4,1228.7 1892.7,1229.2 1893.1,1231.7 1893.4,1228.2 1893.8,1229.1 1894.2,1227.8 1894.5,1226.1 1894.9,1231.0 1895.2,1224.7 1895.6,1227.8 1896.0,1225.2 1896.3,1225.8 1896.7,1224.9 1897.0,1227.0 1897.4,1228.5 1897.8,1230.2 1898.1,1223.5 1898.5,1228.0 1898.8,1226.6 1899.2,1226.1 1899.6,1227.2 1899.9,1227.8 1900.3,1227.2 1900.6,1227.4 1901.0,1231.9 1901.4,1227.5 1901.7,1227.9 1902.1,1224.8 1902.4,1229.4 1902.8,1226.0 1903.2,1226.8 1903.5,1225.4 1903.9,1226.7 1904.2,1224.9 1904.6,1224.1 1905.0,1223.9 1905.3,1225.9 1905.7,1226.7 1906.0,1228.1 1906.4,1230.1 1906.8,1230.4 1907.1,1225.2 1907.5,1225.0 1907.8,1228.0 1908.2,1224.5 1908.6,1228.7 1908.9,1228.5 1909.3,1224.2 1909.6,1227.8 1910.0,1229.2 1910.4,1227.1 1910.7,1225.5 1911.1,1225.7 1911.4,1227.0 1911.8,1224.4 1912.2,1226.6 1912.5,1225.4 1912.9,1224.3 1913.2,1223.7 1913.6,1226.9 1914.0,1223.8 1914.3,1226.1 1914.7,1221.7 1915.0,1225.1 1915.4,1225.7 1915.8,1226.2 1916.1,1227.4 1916.5,1226.4 1916.8,1226.5 1917.2,1224.7 1917.6,1223.0 1917.9,1222.7 1918.3,1223.5 1918.6,1225.6 1919.0,1227.1 1919.4,1225.7 1919.7,1225.4 1920.1,1226.5 1920.4,1224.1 1920.8,1225.2 1921.2,1224.5 1921.5,1225.1 1921.9,1224.2 1922.2,1221.9 1922.6,1223.9 1923.0,1223.0 1923.3,1228.4 1923.7,1227.8 1924.0,1223.6 1924.4,1223.2 1924.8,1225.1 1925.1,1221.9 1925.5,1227.7 1925.8,1225.1 1926.2,1224.3 1926.6,1227.5 1926.9,1228.0 1927.3,1225.7 1927.6,1227.6 1928.0,1222.1 1928.4,1224.0 1928.7,1223.9 1929.1,1222.3 1929.4,1227.6 1929.8,1230.8 1930.2,1223.1 1930.5,1224.8 1930.9,1228.2 1931.2,1225.4 1931.6,1226.1 1932.0,1224.5 1932.3,1226.9 1932.7,1224.3 1933.0,1227.9 1933.4,1227.5 1933.8,1227.2 1934.1,1224.9 1934.5,1226.1 1934.8,1227.5 1935.2,1224.7 1935.6,1224.5 1935.9,1221.8 1936.3,1225.4 1936.6,1226.3 1937.0,1228.5 1937.4,1224.1 1937.7,1223.6 1938.1,1229.1 1938.4,1228.9 1938.8,1224.3 1939.2,1225.6 1939.5,1222.9 1939.9,1226.5 1940.2,1229.3 1940.6,1228.3 1941.0,1224.5 1941.3,1227.3 1941.7,1225.2 1942.0,1227.4 1942.4,1225.6 1942.8,1228.0 1943.1,1229.3 1943.5,1227.4 1943.8,1227.5 1944.2,1227.6 1944.6,1228.6 1944.9,1225.9 1945.3,1226.5 1945.6,1226.5 1946.0,1229.6 1946.4,1227.2 1946.7,1228.0 1947.1,1226.1 1947.4,1224.1 1947.8,1226.2 1948.2,1227.9 1948.5,1226.3 1948.9,1225.7 1949.2,1226.2 1949.6,1228.0 1950.0,1227.8 1950.3,1227.0 1950.7,1225.0 1951.0,1225.6 1951.4,1234.4 1951.8,1226.6 1952.1,1228.3 1952.5,1227.6 1952.8,1224.2 1953.2,1229.8 1953.6,1227.2 1953.9,1225.2 1954.3,1228.6 1954.6,1225.9 1955.0,1227.7 1955.4,1224.3 1955.7,1226.7 1956.1,1228.5 1956.4,1226.1 1956.8,1224.2 1957.2,1225.4 1957.5,1228.5 1957.9,1223.9 1958.2,1224.3 1958.6,1228.7 1959.0,1227.4 1959.3,1227.1 1959.7,1226.3 1960.0,1228.0 1960.4,1228.9 1960.8,1228.1 1961.1,1223.6 1961.5,1228.5 1961.8,1223.8 1962.2,1230.8 1962.6,1226.3 1962.9,1228.5 1963.3,1227.9 1963.6,1226.0 1964.0,1229.7 1964.4,1227.8 1964.7,1231.7 1965.1,1228.7 1965.4,1228.1 1965.8,1232.6 1966.2,1230.3 1966.5,1227.5 1966.9,1225.8 1967.2,1231.4 1967.6,1230.0 1968.0,1230.0 1968.3,1226.8 1968.7,1226.3 1969.0,1225.7 1969.4,1229.9 1969.8,1227.3 1970.1,1229.0 1970.5,1223.1 1970.8,1229.8 1971.2,1226.2 1971.6,1222.0 1971.9,1225.0 1972.3,1228.5 1972.6,1230.8 1973.0,1222.0 1973.4,1224.9 1973.7,1228.0 1974.1,1224.5 1974.4,1226.8 1974.8,1225.6 1975.2,1227.9 1975.5,1224.7 1975.9,1227.0 1976.2,1226.0 1976.6,1228.0 1977.0,1227.6 1977.3,1229.9 1977.7,1228.3 1978.0,1231.5 1978.4,1224.5 1978.8,1227.3 1979.1,1229.5 1979.5,1228.1 1979.8,1222.4 1980.2,1228.6 1980.6,1226.9 1980.9,1233.1 1981.3,1227.8 1981.6,1229.4 1982.0,1226.1 1982.4,1229.5 1982.7,1222.3 1983.1,1226.0 1983.4,1227.3 1983.8,1224.8 1984.2,1230.2 1984.5,1228.2 1984.9,1231.6 1985.2,1225.2 1985.6,1226.5 1986.0,1229.6 1986.3,1227.1 1986.7,1229.9 1987.0,1229.5 1987.4,1226.6 1987.8,1228.5 1988.1,1229.3 1988.5,1228.7 1988.8,1227.8 1989.2,1227.2 1989.6,1227.7 1989.9,1230.3 1990.3,1232.5 1990.6,1225.3 1991.0,1226.1 1991.4,1227.9 1991.7,1231.3 1992.1,1226.4 1992.4,1233.1 1992.8,1233.0 1993.2,1223.2 1993.5,1229.7 1993.9,1229.5 1994.2,1227.4 1994.6,1224.4 1995.0,1228.8 1995.3,1227.4 1995.7,1230.7 1996.0,1229.5 1996.4,1226.3 1996.8,1232.4 1997.1,1232.1 1997.5,1231.4 1997.8,1228.4 1998.2,1230.3 1998.6,1228.5 1998.9,1227.2 1999.3,1224.4 1999.6,1228.9 2000.0,1224.2 2000.4,1229.8 2000.7,1225.5 2001.1,1228.8 2001.4,1227.7 2001.8,1225.9 2002.2,1226.2 2002.5,1227.1 2002.9,1231.5 2003.2,1229.1 2003.6,1227.8 2004.0,1230.1 2004.3,1225.9 2004.7,1225.1 2005.0,1226.4 2005.4,1230.5 2005.8,1227.7 2006.1,1228.5 2006.5,1228.5 2006.8,1227.4 2007.2,1230.9 2007.6,1229.8 2007.9,1226.4 2008.3,1226.1 2008.6,1228.1 2009.0,1226.3 2009.4,1228.2 2009.7,1229.8 2010.1,1228.3 2010.4,1228.6 2010.8,1227.2 2011.2,1226.5 2011.5,1226.0 2011.9,1230.9 2012.2,1226.6 2012.6,1228.4 2013.0,1228.4 2013.3,1229.1 2013.7,1227.5 2014.0,1224.8 2014.4,1232.6 2014.8,1225.9 2015.1,1229.5 2015.5,1225.9 2015.8,1229.6 2016.2,1225.9 2016.6,1231.8 2016.9,1229.2 2017.3,1224.8 2017.6,1231.8 2018.0,1224.2 2018.4,1227.5 2018.7,1230.5 2019.1,1227.4 2019.4,1231.0 2019.8,1228.4 2020.2,1227.0 2020.5,1231.0 2020.9,1228.5 2021.2,1227.4 2021.6,1230.5 2022.0,1227.9 2022.3,1225.6 2022.7,1227.0 2023.0,1233.8 2023.4,1233.5 2023.8,1225.3 2024.1,1230.4 2024.5,1231.4 2024.8,1228.2 2025.2,1230.2 2025.6,1226.7 2025.9,1228.2 2026.3,1231.1 2026.6,1228.8 2027.0,1228.6 2027.4,1228.5 2027.7,1226.2 2028.1,1226.9 2028.4,1227.9 2028.8,1228.8 2029.2,1227.3 2029.5,1233.2 2029.9,1225.5 2030.2,1226.9 2030.6,1227.9 2031.0,1230.4 2031.3,1226.3 2031.7,1229.9 2032.0,1227.6 2032.4,1227.8 2032.8,1230.4 2033.1,1231.3 2033.5,1231.8 2033.8,1227.1 2034.2,1231.9 2034.6,1231.9 2034.9,1230.4 2035.3,1230.8 2035.6,1229.9 2036.0,1229.6 2036.4,1231.7 2036.7,1233.5 2037.1,1229.5 2037.4,1230.8 2037.8,1232.1 2038.2,1227.2 2038.5,1233.7 2038.9,1231.0 2039.2,1233.3 2039.6,1229.7 2040.0,1228.5 2040.3,1230.1 2040.7,1231.1 2041.0,1228.5 2041.4,1232.4 2041.8,1231.1 2042.1,1228.3 2042.5,1231.6 2042.8,1230.3 2043.2,1230.8 2043.6,1229.9 2043.9,1229.3 2044.3,1228.2 2044.6,1231.1 2045.0,1231.0 2045.4,1232.0 2045.7,1229.5 2046.1,1232.0 2046.4,1232.8 2046.8,1228.6 2047.2,1231.5 2047.5,1235.9 2047.9,1230.1 2048.2,1230.6 2048.6,1231.2 2049.0,1230.2 2049.3,1233.1 2049.7,1231.2 2050.0,1231.1 2050.4,1229.7 2050.8,1232.6 2051.1,1231.3 2051.5,1230.6 2051.8,1230.9 2052.2,1234.9 2052.6,1231.6 2052.9,1232.2 2053.3,1234.5 2053.6,1231.4 2054.0,1233.6 2054.4,1229.5 2054.7,1233.0 2055.1,1227.2 2055.4,1231.9 2055.8,1230.7 2056.2,1230.1 2056.5,1233.9 2056.9,1233.2 2057.2,1233.4 2057.6,1234.8 2058.0,1232.7 2058.3,1232.8 2058.7,1231.5 2059.0,1235.6 2059.4,1233.5 2059.8,1230.0 2060.1,1229.8 2060.5,1230.0 2060.8,1230.1 2061.2,1234.3 2061.6,1232.2 2061.9,1233.8 2062.3,1230.0 2062.6,1230.0 2063.0,1234.2 2063.4,1227.4 2063.7,1229.1 2064.1,1227.2 2064.4,1230.2 2064.8,1237.0 2065.2,1230.0 2065.5,1233.8 2065.9,1235.0 2066.2,1230.2 2066.6,1230.1 2067.0,1232.3 2067.3,1233.0 2067.7,1228.3 2068.0,1229.9 2068.4,1235.0 2068.8,1229.9 2069.1,1232.4 2069.5,1233.7 2069.8,1230.9 2070.2,1231.3 2070.6,1230.5 2070.9,1230.3 2071.3,1230.5 2071.6,1228.4 2072.0,1230.7 2072.4,1231.4 2072.7,1233.4 2073.1,1231.0 2073.4,1230.6 2073.8,1235.9 2074.2,1232.0 2074.5,1231.6 2074.9,1231.0 2075.2,1232.1 2075.6,1230.3 2076.0,1231.1 2076.3,1230.4 2076.7,1229.7 2077.0,1231.3 2077.4,1229.5 2077.8,1235.7 2078.1,1230.3 2078.5,1235.1 2078.8,1232.3 2079.2,1233.0 2079.6,1233.7 2079.9,1228.1 2080.3,1233.5 2080.6,1231.3 2081.0,1229.3 2081.4,1228.6 2081.7,1230.3 2082.1,1226.6 2082.4,1232.2 2082.8,1227.1 2083.2,1225.8 2083.5,1221.7 2083.9,1217.7 2084.2,1214.9 2084.6,1211.7 2085.0,1213.4 2085.3,1208.9 2085.7,1207.8 2085.8,1207.0 2086.0,1207.4 2086.4,1207.1 2086.8,1208.8 2087.1,1205.3 2087.5,1204.7 2087.8,1207.7 2088.2,1209.2 2088.6,1211.8 2088.9,1215.9 2089.3,1217.5 2089.6,1217.2 2090.0,1214.8 2090.4,1217.8 2090.7,1217.5 2091.1,1219.0 2091.4,1217.8 2091.8,1217.3 2092.2,1218.8 2092.5,1218.0 2092.9,1219.0 2093.2,1222.7 2093.6,1223.6 2094.0,1226.9 2094.3,1226.5 2094.7,1224.8 2095.0,1231.1 2095.4,1232.6 2095.8,1228.0 2096.1,1230.0 2096.5,1234.2 2096.8,1233.6 2097.2,1230.7 2097.6,1236.0 2097.9,1234.0 2098.3,1234.5 2098.6,1236.2 2099.0,1232.6 2099.4,1232.5 2099.7,1235.4 2100.1,1236.0 2100.4,1234.4 2100.8,1236.5 2101.2,1235.1 2101.5,1236.5 2101.9,1232.7 2102.2,1234.0 2102.6,1236.6 2103.0,1232.8 2103.3,1232.9 2103.7,1234.9 2104.0,1234.1 2104.4,1232.8 2104.8,1231.4 2105.1,1237.6 2105.5,1235.0 2105.8,1237.8 2106.2,1233.2 2106.6,1235.2 2106.9,1234.7 2107.3,1235.2 2107.6,1231.8 2108.0,1237.4 2108.4,1234.3 2108.7,1235.2 2109.1,1232.7 2109.4,1237.8 2109.8,1231.6 2110.2,1238.4 2110.5,1233.7 2110.9,1233.8 2111.2,1233.1 2111.6,1237.2 2112.0,1232.6 2112.3,1232.5 2112.7,1232.3 2113.0,1235.2 2113.4,1235.2 2113.8,1232.7 2114.1,1235.1 2114.5,1237.1 2114.8,1235.4 2115.2,1234.7 2115.6,1231.8 2115.9,1237.0 2116.3,1235.2 2116.6,1230.9 2117.0,1232.2 2117.4,1228.1 2117.7,1234.6 2118.1,1231.0 2118.4,1233.0 2118.8,1236.2 2119.2,1230.5 2119.5,1235.1 2119.9,1232.7 2120.2,1231.0 2120.6,1235.9 2121.0,1234.1 2121.3,1231.9 2121.7,1234.4 2122.0,1232.2 2122.4,1231.7 2122.8,1232.7 2123.1,1235.5 2123.5,1230.3 2123.8,1230.9 2124.2,1235.4 2124.6,1230.8 2124.9,1233.2 2125.3,1233.1 2125.6,1231.1 2126.0,1232.2 2126.4,1233.5 2126.7,1233.6 2127.1,1235.1 2127.4,1234.3 2127.8,1235.8 2128.2,1234.4 2128.5,1233.1 2128.9,1235.3 2129.2,1235.0 2129.6,1235.9 2130.0,1233.8 2130.3,1233.9 2130.7,1234.0 2131.0,1231.3 2131.4,1235.2 2131.8,1233.0 2132.1,1232.8 2132.5,1233.7 2132.8,1238.7 2133.2,1232.9 2133.6,1237.6 2133.9,1230.3 2134.3,1234.0 2134.6,1238.5 2135.0,1235.0 2135.4,1235.5 2135.7,1233.6 2136.1,1230.8 2136.4,1235.9 2136.8,1236.8 2137.2,1237.1 2137.5,1238.8 2137.9,1234.8 2138.2,1236.1 2138.6,1230.8 2139.0,1234.4 2139.3,1235.4 2139.7,1237.8 2140.0,1239.0 2140.4,1238.5 2140.8,1236.2 2141.1,1235.1 2141.5,1235.2 2141.8,1235.3 2142.2,1235.7 2142.6,1237.9 2142.9,1235.1 2143.3,1232.2 2143.6,1233.2 2144.0,1241.5 2144.4,1238.4 2144.7,1234.7 2145.1,1235.2 2145.4,1237.2 2145.8,1236.4"/>
<line x1="413.4" y1="826.1" x2="413.4" y2="1443.5" stroke="#000" stroke-width="2" stroke-dasharray="9.4 10.16"/>
<line x1="461.0" y1="1352.2" x2="461.0" y2="1458.6" stroke="#000" stroke-width="2" stroke-dasharray="9.4 10.16"/>
<line x1="939.9" y1="909.9" x2="939.9" y2="1448.6" stroke="#000" stroke-width="2" stroke-dasharray="9.4 10.16"/>
<line x1="1195.2" y1="953.8" x2="1195.2" y2="1510.3" stroke="#000" stroke-width="2" stroke-dasharray="9.4 10.16"/>
<line x1="1736.4" y1="1079.4" x2="1736.4" y2="1578" stroke="#000" stroke-width="2" stroke-dasharray="9.4 10.16"/>
<line x1="2088.2" y1="1075.4" x2="2088.2" y2="1589" stroke="#000" stroke-width="2" stroke-dasharray="9.4 10.16"/>
<g fill="#000">
<rect x="148" y="23" width="2007" height="7.1"/>
<rect x="148" y="1631" width="2007" height="7"/>
<rect x="148" y="23" width="7.3" height="1628"/>
<rect x="2145.7" y="23" width="7.2" height="1644"/>
<rect x="281.35" y="1634" width="7.1" height="33"/>
<rect x="547.54" y="1634" width="7.1" height="33"/>
<rect x="813.52" y="1634" width="7.1" height="33"/>
<rect x="1079.67" y="1634" width="7.1" height="33"/>
<rect x="1345.73" y="1634" width="7.1" height="33"/>
<rect x="1611.80" y="1634" width="7.1" height="33"/>
<rect x="1879.68" y="1634" width="7.1" height="33"/>
<rect x="414.39" y="1634" width="7.1" height="17"/>
<rect x="680.48" y="1634" width="7.1" height="17"/>
<rect x="946.52" y="1634" width="7.1" height="17"/>
<rect x="1212.60" y="1634" width="7.1" height="17"/>
<rect x="1478.75" y="1634" width="7.1" height="17"/>
<rect x="1746.53" y="1634" width="7.1" height="17"/>
<rect x="2012.75" y="1634" width="7.1" height="17"/>
</g>
<line x1="198" y1="136.9" x2="368" y2="136.9" stroke="#9600FF" stroke-width="5.6" stroke-linecap="round"/>
<line x1="198" y1="229.8" x2="368" y2="229.8" stroke="#FF8000" stroke-width="5.6" stroke-linecap="round"/>
<text class="r" x="385" y="161.1" id="t_ncc" textLength="158.0" lengthAdjust="spacing">NCC</text>
<text class="r" x="387.5" y="253.7" id="t_cnf" textLength="145.0" lengthAdjust="spacing">CNF</text>
<text class="r" x="671" y="345.3" id="t_225">22.5°</text>
<text class="r" x="336.5" y="806.2" id="t_148">14.8°</text>
<text class="r" x="864.5" y="887.5" id="t_346">34.6°</text>
<text class="r" x="1117.5" y="935.3" id="t_442">44.2°</text>
<text class="r" x="1664" y="1052.3" id="t_645">64.5°</text>
<text class="r" x="1977" y="1059.1" id="t_777">77.7°</text>
<text class="r" x="674" y="1219.6" id="t_227">22.7°</text>
<text class="r" x="448.0" y="1268.4" id="t_205">20.5°</text>
<text class="r" x="447.5" y="1546.8" id="t_166">16.6°</text>
<text class="r" x="1324.8" y="1152.2" style="fill:#9600FF" id="t_c1">Crystallinity: 79.8%</text>
<text class="r" x="1326.0" y="1469.3" style="fill:#FF8000" id="t_c2">Crystallinity: 52.6%</text>
<text class="r" x="284.9" y="1746.6" text-anchor="middle" id="k10">10</text>
<text class="r" x="551.1" y="1746.6" text-anchor="middle" id="k20">20</text>
<text class="r" x="817.1" y="1746.6" text-anchor="middle" id="k30">30</text>
<text class="r" x="1083.2" y="1746.6" text-anchor="middle" id="k40">40</text>
<text class="r" x="1349.3" y="1746.6" text-anchor="middle" id="k50">50</text>
<text class="r" x="1615.3" y="1746.6" text-anchor="middle" id="k60">60</text>
<text class="r" x="1883.2" y="1746.6" text-anchor="middle" id="k70">70</text>
<text class="r" x="2149.3" y="1746.6" text-anchor="middle" id="k80">80</text>
<text class="b" x="1149.5" y="1848.2" text-anchor="middle" id="t_x">2-Theta (degree)</text>
<text class="b" x="81.2" y="830.8" text-anchor="middle" transform="rotate(-90 81.2 830.8)" id="t_y">Intensity (a.u.)</text>
<line x1="672.8" y1="313.0" x2="654.4" y2="318.9" stroke="#000" stroke-width="1.2"/><polygon points="613.9,331.8 651.3,309.4 657.4,328.4" fill="#000"/>
<line x1="677.1" y1="1171.8" x2="656.8" y2="1154.5" stroke="#000" stroke-width="1.2"/><polygon points="624.4,1127.0 663.3,1146.9 650.3,1162.1" fill="#000"/>
<line x1="544.5" y1="1287.0" x2="548.9" y2="1295.1" stroke="#000" stroke-width="1.2"/><polygon points="569.0,1332.5 540.0,1299.8 557.7,1290.3" fill="#000"/>
<line x1="484.5" y1="1481.4" x2="481.9" y2="1473.0" stroke="#000" stroke-width="1.2"/><polygon points="469.3,1432.4 491.4,1470.0 472.3,1476.0" fill="#000"/>
</svg></body></html>
